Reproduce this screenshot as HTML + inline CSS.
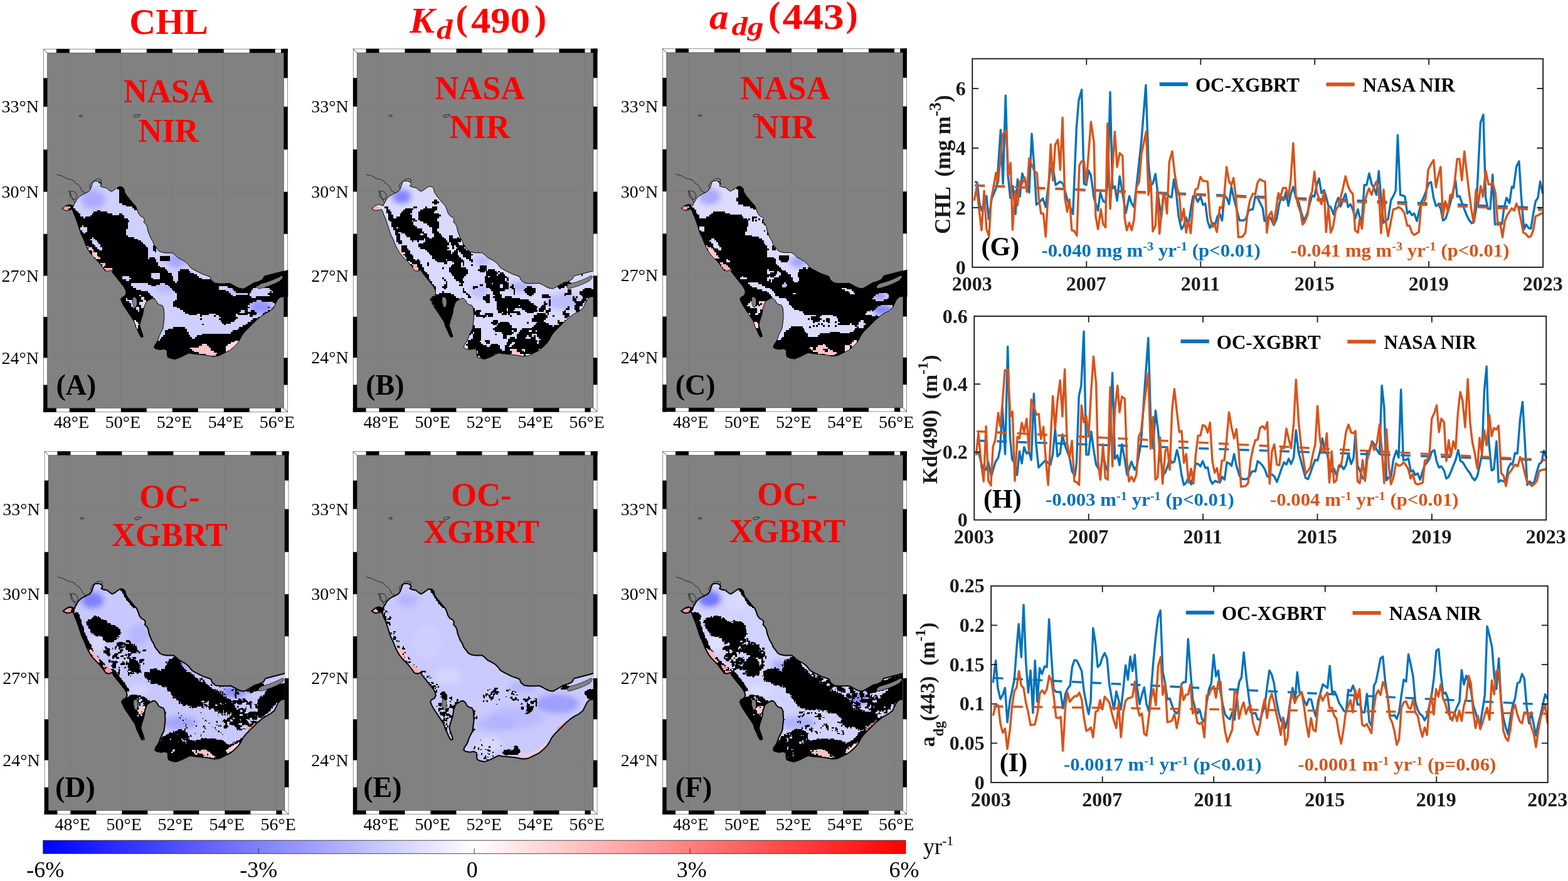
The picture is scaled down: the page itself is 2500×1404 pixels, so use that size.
<!DOCTYPE html>
<html lang="en"><head><meta charset="utf-8"><title>Figure</title>
<style>html,body{margin:0;padding:0;background:#fff;}body{width:2500px;height:1404px;overflow:hidden;}svg{display:block;}text{white-space:pre;}</style>
</head><body>
<svg width="2500" height="1404" viewBox="0 0 2500 1404">
<defs>
<g id="frame">
<rect x="0" y="0" width="389.5" height="578.8" fill="#fff"/>
<rect x="0" y="572.4" width="20.65" height="6.4" fill="#000"/>
<rect x="20.65" y="0" width="20.95" height="6.4" fill="#000"/>
<rect x="41.6" y="572.4" width="41.00" height="6.4" fill="#000"/>
<rect x="82.6" y="0" width="41.00" height="6.4" fill="#000"/>
<rect x="123.6" y="572.4" width="41.00" height="6.4" fill="#000"/>
<rect x="164.6" y="0" width="41.00" height="6.4" fill="#000"/>
<rect x="205.6" y="572.4" width="41.00" height="6.4" fill="#000"/>
<rect x="246.6" y="0" width="41.00" height="6.4" fill="#000"/>
<rect x="287.6" y="572.4" width="41.00" height="6.4" fill="#000"/>
<rect x="328.6" y="0" width="41.00" height="6.4" fill="#000"/>
<rect x="369.6" y="572.4" width="9.20" height="6.4" fill="#000"/>
<rect x="378.8" y="0" width="10.70" height="6.4" fill="#000"/>
<rect x="383.1" y="0" width="6.4" height="46.50" fill="#000"/>
<rect x="0" y="46.5" width="6.4" height="45.60" fill="#000"/>
<rect x="383.1" y="92.1" width="6.4" height="68.40" fill="#000"/>
<rect x="0" y="160.5" width="6.4" height="67.30" fill="#000"/>
<rect x="383.1" y="227.8" width="6.4" height="67.10" fill="#000"/>
<rect x="0" y="294.9" width="6.4" height="66.70" fill="#000"/>
<rect x="383.1" y="361.6" width="6.4" height="65.50" fill="#000"/>
<rect x="0" y="427.1" width="6.4" height="65.20" fill="#000"/>
<rect x="383.1" y="492.3" width="6.4" height="43.20" fill="#000"/>
<rect x="0" y="535.5" width="6.4" height="43.30" fill="#000"/>
<rect x="0" y="0" width="6.4" height="6.4" fill="#fff"/>
<rect x="383.1" y="572.4" width="6.4" height="6.4" fill="#fff"/>
<rect x="383.1" y="0" width="6.4" height="6.4" fill="#000"/>
<rect x="0" y="572.4" width="6.4" height="6.4" fill="#000"/>
<line x1="0" y1="0" x2="6.4" y2="6.4" stroke="#000" stroke-width="0.7"/>
<line x1="389.5" y1="578.8" x2="383.1" y2="572.4" stroke="#000" stroke-width="0.7"/>
<rect x="6.4" y="6.4" width="376.7" height="566.0" fill="#818181"/>
<rect x="0.3" y="0.3" width="388.9" height="578.1999999999999" fill="none" stroke="#000" stroke-opacity="0.55" stroke-width="0.8"/>
<rect x="6.4" y="6.4" width="376.7" height="566.0" fill="none" stroke="#000" stroke-opacity="0.55" stroke-width="0.8"/>
<line x1="41.6" y1="6.4" x2="41.6" y2="572.4" stroke="#707070" stroke-width="0.7" stroke-opacity="0.45"/>
<line x1="123.6" y1="6.4" x2="123.6" y2="572.4" stroke="#707070" stroke-width="0.7" stroke-opacity="0.45"/>
<line x1="205.6" y1="6.4" x2="205.6" y2="572.4" stroke="#707070" stroke-width="0.7" stroke-opacity="0.45"/>
<line x1="287.6" y1="6.4" x2="287.6" y2="572.4" stroke="#707070" stroke-width="0.7" stroke-opacity="0.45"/>
<line x1="369.6" y1="6.4" x2="369.6" y2="572.4" stroke="#707070" stroke-width="0.7" stroke-opacity="0.45"/>
<line x1="6.4" y1="92.1" x2="383.1" y2="92.1" stroke="#707070" stroke-width="0.7" stroke-opacity="0.45"/>
<line x1="6.4" y1="227.8" x2="383.1" y2="227.8" stroke="#707070" stroke-width="0.7" stroke-opacity="0.45"/>
<line x1="6.4" y1="361.6" x2="383.1" y2="361.6" stroke="#707070" stroke-width="0.7" stroke-opacity="0.45"/>
<line x1="6.4" y1="492.3" x2="383.1" y2="492.3" stroke="#707070" stroke-width="0.7" stroke-opacity="0.45"/>
</g>
<clipPath id="inner"><rect x="6.4" y="6.4" width="376.7" height="566.0"/></clipPath>
<clipPath id="outer"><rect x="6.4" y="6.4" width="383.70000000000005" height="566.0"/></clipPath>
<clipPath id="gclip"><polygon points="29.8,254.6 35.2,250.3 40.7,248.1 45.0,249.2 48.3,250.3 49.3,247.0 51.5,243.7 53.7,239.4 58.0,235.0 63.5,231.8 67.8,229.6 72.2,227.4 75.4,223.1 77.2,217.7 78.7,213.3 80.8,211.1 86.3,210.7 90.6,212.2 92.8,215.5 90.6,218.7 93.9,220.3 100.4,221.6 104.7,225.3 108.0,227.4 112.4,225.3 116.7,222.0 121.0,219.4 125.4,219.8 128.6,223.1 129.7,228.5 133.0,234.0 138.4,240.5 142.8,245.9 147.1,250.3 149.3,255.7 151.5,262.2 154.7,266.5 159.1,268.7 161.2,272.0 160.1,276.3 163.4,279.6 165.6,283.9 166.7,290.4 168.8,295.9 171.0,301.3 174.3,306.7 176.4,312.2 180.8,317.6 184.0,322.0 188.4,324.1 194.9,325.2 205.8,325.2 210.1,328.5 214.5,332.8 221.0,336.1 226.4,339.3 230.8,343.7 235.1,349.1 240.5,352.4 247.1,355.6 253.6,358.9 260.1,361.1 265.5,363.2 267.7,368.7 273.1,373.0 279.6,374.1 288.3,374.1 297.0,373.7 302.5,376.3 307.9,379.5 313.3,381.7 318.8,382.4 324.2,379.5 329.6,376.3 335.0,373.0 342.7,370.8 349.2,367.6 352.4,362.1 360.0,360.0 368.7,357.8 377.4,355.6 382.8,354.1 391.5,351.9 391.5,395.4 382.8,395.0 377.4,395.8 373.1,400.2 369.8,406.7 366.6,413.2 360.0,418.6 353.5,421.9 347.0,426.2 340.5,431.7 334.0,438.2 327.4,444.7 320.9,451.2 316.6,456.7 313.3,463.2 309.0,469.7 303.5,475.1 297.0,480.6 288.3,484.9 279.6,489.2 271.0,490.3 260.1,488.2 249.2,487.1 238.4,486.0 231.8,484.9 225.3,488.2 218.8,491.4 210.1,494.7 203.6,493.6 198.2,491.4 197.1,487.1 197.1,480.6 192.7,478.4 186.2,479.5 179.7,478.4 176.4,476.2 177.5,471.9 180.8,467.5 183.0,463.2 185.1,456.7 187.3,452.3 190.6,445.8 191.7,437.1 192.7,428.4 192.3,419.7 191.7,413.2 189.5,408.9 185.1,407.8 181.9,405.6 179.7,401.3 176.4,398.0 173.2,397.6 168.8,400.2 164.5,402.3 162.3,406.7 160.1,413.2 159.1,420.8 156.9,428.4 154.7,434.9 153.6,441.4 155.8,448.0 158.0,454.5 159.1,458.8 155.8,459.9 153.2,455.6 150.4,449.1 147.1,442.5 144.9,434.9 140.6,428.4 136.3,421.9 131.9,415.4 127.6,408.9 125.0,403.4 123.2,399.1 125.4,395.8 129.7,393.6 131.9,389.3 130.8,383.9 127.6,378.4 123.2,373.0 118.9,367.6 114.5,362.1 110.2,356.7 108.0,352.4 103.7,354.5 98.2,353.5 95.0,349.1 91.7,344.8 87.4,339.3 83.0,335.0 78.7,330.6 74.3,325.2 71.1,319.8 67.8,313.3 65.6,307.8 63.5,302.4 60.2,295.9 58.0,289.4 55.9,282.8 53.7,276.3 51.5,269.8 48.9,264.4 47.2,258.9 45.0,255.7 40.7,257.2 35.2,257.9"/></clipPath>
<polygon id="gulfshape" points="29.8,254.6 35.2,250.3 40.7,248.1 45.0,249.2 48.3,250.3 49.3,247.0 51.5,243.7 53.7,239.4 58.0,235.0 63.5,231.8 67.8,229.6 72.2,227.4 75.4,223.1 77.2,217.7 78.7,213.3 80.8,211.1 86.3,210.7 90.6,212.2 92.8,215.5 90.6,218.7 93.9,220.3 100.4,221.6 104.7,225.3 108.0,227.4 112.4,225.3 116.7,222.0 121.0,219.4 125.4,219.8 128.6,223.1 129.7,228.5 133.0,234.0 138.4,240.5 142.8,245.9 147.1,250.3 149.3,255.7 151.5,262.2 154.7,266.5 159.1,268.7 161.2,272.0 160.1,276.3 163.4,279.6 165.6,283.9 166.7,290.4 168.8,295.9 171.0,301.3 174.3,306.7 176.4,312.2 180.8,317.6 184.0,322.0 188.4,324.1 194.9,325.2 205.8,325.2 210.1,328.5 214.5,332.8 221.0,336.1 226.4,339.3 230.8,343.7 235.1,349.1 240.5,352.4 247.1,355.6 253.6,358.9 260.1,361.1 265.5,363.2 267.7,368.7 273.1,373.0 279.6,374.1 288.3,374.1 297.0,373.7 302.5,376.3 307.9,379.5 313.3,381.7 318.8,382.4 324.2,379.5 329.6,376.3 335.0,373.0 342.7,370.8 349.2,367.6 352.4,362.1 360.0,360.0 368.7,357.8 377.4,355.6 382.8,354.1 391.5,351.9 391.5,395.4 382.8,395.0 377.4,395.8 373.1,400.2 369.8,406.7 366.6,413.2 360.0,418.6 353.5,421.9 347.0,426.2 340.5,431.7 334.0,438.2 327.4,444.7 320.9,451.2 316.6,456.7 313.3,463.2 309.0,469.7 303.5,475.1 297.0,480.6 288.3,484.9 279.6,489.2 271.0,490.3 260.1,488.2 249.2,487.1 238.4,486.0 231.8,484.9 225.3,488.2 218.8,491.4 210.1,494.7 203.6,493.6 198.2,491.4 197.1,487.1 197.1,480.6 192.7,478.4 186.2,479.5 179.7,478.4 176.4,476.2 177.5,471.9 180.8,467.5 183.0,463.2 185.1,456.7 187.3,452.3 190.6,445.8 191.7,437.1 192.7,428.4 192.3,419.7 191.7,413.2 189.5,408.9 185.1,407.8 181.9,405.6 179.7,401.3 176.4,398.0 173.2,397.6 168.8,400.2 164.5,402.3 162.3,406.7 160.1,413.2 159.1,420.8 156.9,428.4 154.7,434.9 153.6,441.4 155.8,448.0 158.0,454.5 159.1,458.8 155.8,459.9 153.2,455.6 150.4,449.1 147.1,442.5 144.9,434.9 140.6,428.4 136.3,421.9 131.9,415.4 127.6,408.9 125.0,403.4 123.2,399.1 125.4,395.8 129.7,393.6 131.9,389.3 130.8,383.9 127.6,378.4 123.2,373.0 118.9,367.6 114.5,362.1 110.2,356.7 108.0,352.4 103.7,354.5 98.2,353.5 95.0,349.1 91.7,344.8 87.4,339.3 83.0,335.0 78.7,330.6 74.3,325.2 71.1,319.8 67.8,313.3 65.6,307.8 63.5,302.4 60.2,295.9 58.0,289.4 55.9,282.8 53.7,276.3 51.5,269.8 48.9,264.4 47.2,258.9 45.0,255.7 40.7,257.2 35.2,257.9"/>
<g id="islands"><polygon points="340.5,379.5 345.9,374.5 355.7,371.9 364.4,368.7 373.1,365.0 379.6,361.5 382.2,363.7 377.4,369.7 368.7,374.1 358.9,378.0 349.2,381.0 343.1,382.4" fill="#818181" stroke="#000" stroke-width="0.7"/><polygon points="142.3,396.3 146.0,395.4 148.9,399.1 149.3,406.7 147.1,412.8 143.9,411.0 141.9,403.4" fill="#818181" stroke="#000" stroke-width="0.7"/></g>
<g id="coast" fill="none" stroke="#000" stroke-width="0.7" stroke-linejoin="round">
<polyline points="21.1,200.3 29.8,202.5 37.4,206.8 42.8,207.9 48.3,210.1 51.5,214.4 55.9,216.6 59.1,220.9 61.3,226.4 64.6,228.5 67.8,229.6"/>
<polyline points="39.6,226.4 42.8,228.5 45.0,235.0 48.3,241.6 50.4,247.0"/>
<polyline points="41.7,227.4 46.1,226.4 50.4,228.5 53.7,234.0 51.5,239.4 47.2,240.5 42.8,236.1 41.7,227.4"/>
<polyline points="75.4,223.1 73.2,218.7 75.4,214.4 79.8,211.1 83.0,207.9 88.5,206.8 92.8,209.0 91.7,213.3"/>
<polyline points="143.9,106.9 148.2,104.7 154.7,105.1 151.5,107.9 146.0,109.5 143.9,106.9"/>
<polyline points="56.9,106.4 60.2,105.1 62.8,106.9 59.8,108.6 56.9,106.4"/>
</g>
<linearGradient id="cb" x1="0" x2="1" y1="0" y2="0"><stop offset="0" stop-color="#0000ff"/><stop offset="0.5" stop-color="#ffffff"/><stop offset="1" stop-color="#ff0000"/></linearGradient>
<filter id="bl" x="-60%" y="-60%" width="220%" height="220%"><feGaussianBlur stdDeviation="4"/></filter>
</defs>
<rect width="2500" height="1404" fill="#fff"/>
<text x="269.2" y="53.8" text-anchor="middle" font-family='"Liberation Serif", "DejaVu Serif", serif' font-weight="bold" font-size="58" fill="#ff0000">CHL</text>
<text font-family='"Liberation Serif", "DejaVu Serif", serif' font-weight="bold" font-size="57" fill="#ff0000"><tspan x="653" y="51.8" font-size="57" font-style="italic" textLength="40" lengthAdjust="spacingAndGlyphs">K</tspan><tspan x="696" y="62.4" font-size="44" font-style="italic" textLength="25.5" lengthAdjust="spacingAndGlyphs">d</tspan><tspan x="726.5" y="47.5" font-size="58">(</tspan><tspan x="751" y="51.8" font-size="57" textLength="94" lengthAdjust="spacingAndGlyphs">490</tspan><tspan x="852" y="47.5" font-size="58">)</tspan></text>
<text font-family='"Liberation Serif", "DejaVu Serif", serif' font-weight="bold" font-size="57" fill="#ff0000"><tspan x="1131" y="46.4" font-size="57" font-style="italic" textLength="30.5" lengthAdjust="spacingAndGlyphs">a</tspan><tspan x="1166.5" y="56" font-size="42" font-style="italic" textLength="51" lengthAdjust="spacingAndGlyphs">dg</tspan><tspan x="1225" y="42.4" font-size="58">(</tspan><tspan x="1247.6" y="46.4" font-size="57" textLength="98" lengthAdjust="spacingAndGlyphs">443</tspan><tspan x="1348.5" y="42.4" font-size="58">)</tspan></text>
<g transform="translate(69.2,77.9)">
<use href="#frame"/>
<g clip-path="url(#inner)">
<use href="#coast"/>
<use href="#gulfshape" fill="#d0d0ff" stroke="none"/>
<g clip-path="url(#gclip)">
<ellipse cx="79.5" cy="239.7" rx="19.6" ry="15.2" fill="#a8a8ff" opacity="0.9" filter="url(#bl)"/>
<ellipse cx="212.0" cy="337.5" rx="15.2" ry="10.9" fill="#a0a0ff" opacity="0.9" filter="url(#bl)"/>
<ellipse cx="346.7" cy="411.3" rx="17.4" ry="10.9" fill="#8c8cff" opacity="0.9" filter="url(#bl)"/>
<ellipse cx="314.1" cy="383.1" rx="17.4" ry="6.5" fill="#9c9cff" opacity="0.8" filter="url(#bl)"/>
<ellipse cx="194.6" cy="380.9" rx="17.4" ry="8.7" fill="#b0b0ff" opacity="0.7" filter="url(#bl)"/>
<polygon points="29.5,253.8 36.0,250.6 41.4,251.6 40.4,256.0 34.9,258.2" fill="#ff9a9a"/>
<polygon points="67.5,311.4 72.9,315.7 79.5,317.9 86.0,328.8 90.3,335.3 83.8,335.3 77.3,328.8 72.9,322.3" fill="#ffc6c6"/>
<polygon points="90.3,339.6 99.0,341.8 107.7,348.3 109.9,354.8 103.4,357.0 96.8,350.5" fill="#ffb0b0"/>
<polygon points="234.8,475.4 246.8,474.3 257.6,470.0 262.0,474.3 268.5,480.9 277.2,483.0 272.8,489.5 259.8,487.4 248.9,485.2 238.1,480.9" fill="#ffc4c4"/>
<polygon points="290.2,474.3 301.1,467.8 309.8,463.5 311.9,470.0 303.2,478.7 292.4,483.0" fill="#ffd8d8"/>
<polygon points="153.3,402.6 162.0,400.5 164.2,411.3 157.7,415.7" fill="#ffd0d0"/>
<polygon points="144.6,433.1 151.2,435.2 153.3,443.9 149.0,446.1" fill="#ffe0e0"/>
</g>
</g>
<g clip-path="url(#outer)">
<g clip-path="url(#gclip)">
<path d="M82.8 205.4h8.3v2.9h-8.3zM74.7 208.1h21.8v2.9h-21.8zM74.7 210.8h2.9v2.9h-2.9zM88.2 210.8h8.3v2.9h-8.3zM72.0 213.5h5.6v2.9h-5.6zM90.9 213.5h5.6v2.9h-5.6zM72.0 216.2h2.9v2.9h-2.9zM93.6 216.2h11.0v2.9h-11.0zM115.2 216.2h16.4v2.9h-16.4zM69.3 218.9h5.6v2.9h-5.6zM101.7 218.9h5.6v2.9h-5.6zM109.8 218.9h21.8v2.9h-21.8zM69.3 221.6h5.6v2.9h-5.6zM104.4 221.6h8.3v2.9h-8.3zM117.9 221.6h16.4v2.9h-16.4zM63.9 224.3h8.3v2.9h-8.3zM120.6 224.3h13.7v2.9h-13.7zM58.5 227.0h8.3v2.9h-8.3zM120.6 227.0h16.4v2.9h-16.4zM120.6 229.7h16.4v2.9h-16.4zM120.6 232.4h19.1v2.9h-19.1zM120.6 235.1h21.8v2.9h-21.8zM120.6 237.8h24.4v2.9h-24.4zM120.6 240.5h24.4v2.9h-24.4zM36.9 243.2h8.3v2.9h-8.3zM120.6 243.2h27.1v2.9h-27.1zM31.5 245.9h13.7v2.9h-13.7zM126.0 245.9h24.4v2.9h-24.4zM26.1 248.6h21.8v2.9h-21.8zM131.4 248.6h21.8v2.9h-21.8zM26.1 251.3h5.6v2.9h-5.6zM42.3 251.3h5.6v2.9h-5.6zM142.2 251.3h11.0v2.9h-11.0zM26.1 254.0h5.6v2.9h-5.6zM39.6 254.0h11.0v2.9h-11.0zM144.9 254.0h8.3v2.9h-8.3zM26.1 256.7h27.1v2.9h-27.1zM85.5 256.7h5.6v2.9h-5.6zM153.0 256.7h2.9v2.9h-2.9zM31.5 259.4h24.4v2.9h-24.4zM80.1 259.4h21.8v2.9h-21.8zM42.3 262.1h16.4v2.9h-16.4zM77.4 262.1h32.6v2.9h-32.6zM120.6 262.1h5.6v2.9h-5.6zM45.0 264.8h13.7v2.9h-13.7zM74.7 264.8h54.1v2.9h-54.1zM45.0 267.5h19.1v2.9h-19.1zM66.6 267.5h62.2v2.9h-62.2zM163.8 267.5h2.9v2.9h-2.9zM47.7 270.2h86.6v2.9h-86.6zM47.7 272.9h89.3v2.9h-89.3zM47.7 275.6h86.6v2.9h-86.6zM166.5 275.6h2.9v2.9h-2.9zM50.4 278.3h83.9v2.9h-83.9zM50.4 281.0h11.0v2.9h-11.0zM63.9 281.0h70.4v2.9h-70.4zM50.4 283.7h8.3v2.9h-8.3zM69.3 283.7h65.0v2.9h-65.0zM53.1 286.4h5.6v2.9h-5.6zM69.3 286.4h62.2v2.9h-62.2zM53.1 289.1h8.3v2.9h-8.3zM69.3 289.1h62.2v2.9h-62.2zM53.1 291.8h11.0v2.9h-11.0zM66.6 291.8h65.0v2.9h-65.0zM55.8 294.5h75.8v2.9h-75.8zM55.8 297.2h78.5v2.9h-78.5zM55.8 299.9h21.8v2.9h-21.8zM80.1 299.9h65.0v2.9h-65.0zM58.5 302.6h16.4v2.9h-16.4zM82.8 302.6h67.7v2.9h-67.7zM58.5 305.3h19.1v2.9h-19.1zM85.5 305.3h70.4v2.9h-70.4zM61.2 308.0h16.4v2.9h-16.4zM88.2 308.0h70.4v2.9h-70.4zM61.2 310.7h19.1v2.9h-19.1zM90.9 310.7h70.4v2.9h-70.4zM63.9 313.4h5.6v2.9h-5.6zM72.0 313.4h11.0v2.9h-11.0zM90.9 313.4h73.1v2.9h-73.1zM174.6 313.4h5.6v2.9h-5.6zM182.7 313.4h2.9v2.9h-2.9zM63.9 316.1h8.3v2.9h-8.3zM77.4 316.1h8.3v2.9h-8.3zM93.6 316.1h73.1v2.9h-73.1zM174.6 316.1h5.6v2.9h-5.6zM185.4 316.1h2.9v2.9h-2.9zM66.6 318.8h5.6v2.9h-5.6zM80.1 318.8h8.3v2.9h-8.3zM93.6 318.8h73.1v2.9h-73.1zM174.6 318.8h5.6v2.9h-5.6zM188.1 318.8h5.6v2.9h-5.6zM66.6 321.5h11.0v2.9h-11.0zM80.1 321.5h86.6v2.9h-86.6zM177.3 321.5h2.9v2.9h-2.9zM198.9 321.5h13.7v2.9h-13.7zM66.6 324.2h11.0v2.9h-11.0zM85.5 324.2h81.2v2.9h-81.2zM209.7 324.2h5.6v2.9h-5.6zM69.3 326.9h8.3v2.9h-8.3zM85.5 326.9h81.2v2.9h-81.2zM215.1 326.9h2.9v2.9h-2.9zM72.0 329.6h5.6v2.9h-5.6zM88.2 329.6h78.5v2.9h-78.5zM185.4 329.6h16.4v2.9h-16.4zM217.8 329.6h2.9v2.9h-2.9zM74.7 332.3h8.3v2.9h-8.3zM90.9 332.3h75.8v2.9h-75.8zM169.2 332.3h8.3v2.9h-8.3zM185.4 332.3h16.4v2.9h-16.4zM223.2 332.3h2.9v2.9h-2.9zM77.4 335.0h102.8v2.9h-102.8zM185.4 335.0h16.4v2.9h-16.4zM225.9 335.0h5.6v2.9h-5.6zM80.1 337.7h100.1v2.9h-100.1zM231.3 337.7h2.9v2.9h-2.9zM82.8 340.4h8.3v2.9h-8.3zM99.0 340.4h83.9v2.9h-83.9zM234.0 340.4h2.9v2.9h-2.9zM85.5 343.1h8.3v2.9h-8.3zM99.0 343.1h83.9v2.9h-83.9zM236.7 343.1h2.9v2.9h-2.9zM85.5 345.8h8.3v2.9h-8.3zM96.3 345.8h89.3v2.9h-89.3zM88.2 348.5h8.3v2.9h-8.3zM109.8 348.5h83.9v2.9h-83.9zM244.8 348.5h2.9v2.9h-2.9zM382.5 348.5h13.7v2.9h-13.7zM90.9 351.2h8.3v2.9h-8.3zM109.8 351.2h86.6v2.9h-86.6zM217.8 351.2h13.7v2.9h-13.7zM247.5 351.2h5.6v2.9h-5.6zM371.7 351.2h24.4v2.9h-24.4zM93.6 353.9h8.3v2.9h-8.3zM109.8 353.9h89.3v2.9h-89.3zM215.1 353.9h19.1v2.9h-19.1zM252.9 353.9h5.6v2.9h-5.6zM360.9 353.9h35.2v2.9h-35.2zM99.0 356.6h73.1v2.9h-73.1zM185.4 356.6h19.1v2.9h-19.1zM215.1 356.6h24.4v2.9h-24.4zM258.3 356.6h5.6v2.9h-5.6zM350.1 356.6h46.1v2.9h-46.1zM107.1 359.3h65.0v2.9h-65.0zM185.4 359.3h19.1v2.9h-19.1zM215.1 359.3h29.9v2.9h-29.9zM263.7 359.3h5.6v2.9h-5.6zM347.4 359.3h48.8v2.9h-48.8zM109.8 362.0h16.4v2.9h-16.4zM136.8 362.0h35.2v2.9h-35.2zM185.4 362.0h21.8v2.9h-21.8zM215.1 362.0h32.6v2.9h-32.6zM269.1 362.0h2.9v2.9h-2.9zM347.4 362.0h48.8v2.9h-48.8zM109.8 364.7h16.4v2.9h-16.4zM139.5 364.7h35.2v2.9h-35.2zM185.4 364.7h21.8v2.9h-21.8zM215.1 364.7h38.0v2.9h-38.0zM269.1 364.7h2.9v2.9h-2.9zM342.0 364.7h54.1v2.9h-54.1zM112.5 367.4h19.1v2.9h-19.1zM136.8 367.4h70.4v2.9h-70.4zM215.1 367.4h62.2v2.9h-62.2zM333.9 367.4h62.2v2.9h-62.2zM115.2 370.1h94.7v2.9h-94.7zM212.4 370.1h92.0v2.9h-92.0zM328.5 370.1h67.7v2.9h-67.7zM117.9 372.8h21.8v2.9h-21.8zM166.5 372.8h19.1v2.9h-19.1zM193.5 372.8h116.3v2.9h-116.3zM323.1 372.8h73.1v2.9h-73.1zM117.9 375.5h21.8v2.9h-21.8zM171.9 375.5h8.3v2.9h-8.3zM198.9 375.5h116.3v2.9h-116.3zM317.7 375.5h78.5v2.9h-78.5zM120.6 378.2h21.8v2.9h-21.8zM201.6 378.2h78.5v2.9h-78.5zM293.4 378.2h46.1v2.9h-46.1zM352.8 378.2h43.4v2.9h-43.4zM123.3 380.9h24.4v2.9h-24.4zM204.3 380.9h75.8v2.9h-75.8zM301.5 380.9h32.6v2.9h-32.6zM360.9 380.9h35.2v2.9h-35.2zM126.0 383.6h29.9v2.9h-29.9zM207.0 383.6h83.9v2.9h-83.9zM304.2 383.6h27.1v2.9h-27.1zM363.6 383.6h32.6v2.9h-32.6zM126.0 386.3h40.6v2.9h-40.6zM209.7 386.3h86.6v2.9h-86.6zM306.9 386.3h24.4v2.9h-24.4zM360.9 386.3h2.9v2.9h-2.9zM366.3 386.3h29.9v2.9h-29.9zM126.0 389.0h43.4v2.9h-43.4zM212.4 389.0h86.6v2.9h-86.6zM325.8 389.0h2.9v2.9h-2.9zM358.2 389.0h38.0v2.9h-38.0zM120.6 391.7h32.6v2.9h-32.6zM155.7 391.7h16.4v2.9h-16.4zM212.4 391.7h89.3v2.9h-89.3zM306.9 391.7h21.8v2.9h-21.8zM360.9 391.7h35.2v2.9h-35.2zM117.9 394.4h38.0v2.9h-38.0zM161.1 394.4h13.7v2.9h-13.7zM212.4 394.4h119.0v2.9h-119.0zM339.3 394.4h56.9v2.9h-56.9zM117.9 397.1h13.7v2.9h-13.7zM134.1 397.1h21.8v2.9h-21.8zM161.1 397.1h16.4v2.9h-16.4zM212.4 397.1h183.8v2.9h-183.8zM117.9 399.8h13.7v2.9h-13.7zM142.2 399.8h16.4v2.9h-16.4zM163.8 399.8h13.7v2.9h-13.7zM209.7 399.8h129.8v2.9h-129.8zM347.4 399.8h32.6v2.9h-32.6zM120.6 402.5h16.4v2.9h-16.4zM147.6 402.5h5.6v2.9h-5.6zM163.8 402.5h8.3v2.9h-8.3zM174.6 402.5h5.6v2.9h-5.6zM207.0 402.5h127.1v2.9h-127.1zM366.3 402.5h11.0v2.9h-11.0zM120.6 405.2h19.1v2.9h-19.1zM147.6 405.2h5.6v2.9h-5.6zM163.8 405.2h5.6v2.9h-5.6zM177.3 405.2h5.6v2.9h-5.6zM207.0 405.2h121.7v2.9h-121.7zM369.0 405.2h5.6v2.9h-5.6zM120.6 407.9h19.1v2.9h-19.1zM144.9 407.9h11.0v2.9h-11.0zM163.8 407.9h2.9v2.9h-2.9zM177.3 407.9h8.3v2.9h-8.3zM207.0 407.9h119.0v2.9h-119.0zM369.0 407.9h5.6v2.9h-5.6zM123.3 410.6h19.1v2.9h-19.1zM144.9 410.6h2.9v2.9h-2.9zM153.0 410.6h2.9v2.9h-2.9zM163.8 410.6h2.9v2.9h-2.9zM182.7 410.6h5.6v2.9h-5.6zM212.4 410.6h116.3v2.9h-116.3zM358.2 410.6h2.9v2.9h-2.9zM366.3 410.6h5.6v2.9h-5.6zM123.3 413.3h24.4v2.9h-24.4zM153.0 413.3h11.0v2.9h-11.0zM188.1 413.3h2.9v2.9h-2.9zM217.8 413.3h108.2v2.9h-108.2zM363.6 413.3h8.3v2.9h-8.3zM126.0 416.0h24.4v2.9h-24.4zM153.0 416.0h8.3v2.9h-8.3zM188.1 416.0h2.9v2.9h-2.9zM223.2 416.0h92.0v2.9h-92.0zM320.4 416.0h5.6v2.9h-5.6zM331.2 416.0h5.6v2.9h-5.6zM358.2 416.0h11.0v2.9h-11.0zM128.7 418.7h29.9v2.9h-29.9zM188.1 418.7h2.9v2.9h-2.9zM225.9 418.7h86.6v2.9h-86.6zM320.4 418.7h19.1v2.9h-19.1zM352.8 418.7h13.7v2.9h-13.7zM131.4 421.4h32.6v2.9h-32.6zM188.1 421.4h2.9v2.9h-2.9zM231.3 421.4h13.7v2.9h-13.7zM250.2 421.4h13.7v2.9h-13.7zM274.5 421.4h32.6v2.9h-32.6zM309.6 421.4h16.4v2.9h-16.4zM328.5 421.4h11.0v2.9h-11.0zM350.1 421.4h13.7v2.9h-13.7zM131.4 424.1h32.6v2.9h-32.6zM188.1 424.1h2.9v2.9h-2.9zM250.2 424.1h2.9v2.9h-2.9zM271.8 424.1h2.9v2.9h-2.9zM279.9 424.1h27.1v2.9h-27.1zM328.5 424.1h5.6v2.9h-5.6zM347.4 424.1h11.0v2.9h-11.0zM134.1 426.8h27.1v2.9h-27.1zM188.1 426.8h2.9v2.9h-2.9zM282.6 426.8h27.1v2.9h-27.1zM342.0 426.8h11.0v2.9h-11.0zM136.8 429.5h24.4v2.9h-24.4zM188.1 429.5h2.9v2.9h-2.9zM250.2 429.5h2.9v2.9h-2.9zM279.9 429.5h27.1v2.9h-27.1zM333.9 429.5h16.4v2.9h-16.4zM136.8 432.2h8.3v2.9h-8.3zM147.6 432.2h13.7v2.9h-13.7zM188.1 432.2h2.9v2.9h-2.9zM282.6 432.2h21.8v2.9h-21.8zM331.2 432.2h16.4v2.9h-16.4zM139.5 434.9h5.6v2.9h-5.6zM150.3 434.9h8.3v2.9h-8.3zM188.1 434.9h2.9v2.9h-2.9zM285.3 434.9h13.7v2.9h-13.7zM325.8 434.9h19.1v2.9h-19.1zM142.2 437.6h2.9v2.9h-2.9zM153.0 437.6h5.6v2.9h-5.6zM188.1 437.6h2.9v2.9h-2.9zM252.9 437.6h2.9v2.9h-2.9zM288.0 437.6h2.9v2.9h-2.9zM323.1 437.6h19.1v2.9h-19.1zM142.2 440.3h5.6v2.9h-5.6zM150.3 440.3h8.3v2.9h-8.3zM185.4 440.3h2.9v2.9h-2.9zM317.7 440.3h21.8v2.9h-21.8zM142.2 443.0h5.6v2.9h-5.6zM150.3 443.0h11.0v2.9h-11.0zM185.4 443.0h2.9v2.9h-2.9zM207.0 443.0h19.1v2.9h-19.1zM312.3 443.0h24.4v2.9h-24.4zM144.9 445.7h16.4v2.9h-16.4zM185.4 445.7h2.9v2.9h-2.9zM198.9 445.7h29.9v2.9h-29.9zM309.6 445.7h21.8v2.9h-21.8zM144.9 448.4h16.4v2.9h-16.4zM182.7 448.4h2.9v2.9h-2.9zM193.5 448.4h35.2v2.9h-35.2zM301.5 448.4h27.1v2.9h-27.1zM147.6 451.1h13.7v2.9h-13.7zM182.7 451.1h2.9v2.9h-2.9zM193.5 451.1h38.0v2.9h-38.0zM298.8 451.1h29.9v2.9h-29.9zM147.6 453.8h16.4v2.9h-16.4zM180.0 453.8h2.9v2.9h-2.9zM193.5 453.8h38.0v2.9h-38.0zM252.9 453.8h73.1v2.9h-73.1zM147.6 456.5h16.4v2.9h-16.4zM180.0 456.5h2.9v2.9h-2.9zM190.8 456.5h43.4v2.9h-43.4zM244.8 456.5h78.5v2.9h-78.5zM150.3 459.2h13.7v2.9h-13.7zM177.3 459.2h5.6v2.9h-5.6zM188.1 459.2h48.8v2.9h-48.8zM242.1 459.2h78.5v2.9h-78.5zM153.0 461.9h8.3v2.9h-8.3zM177.3 461.9h5.6v2.9h-5.6zM185.4 461.9h135.2v2.9h-135.2zM174.6 464.6h129.8v2.9h-129.8zM312.3 464.6h5.6v2.9h-5.6zM174.6 467.3h124.4v2.9h-124.4zM312.3 467.3h5.6v2.9h-5.6zM171.9 470.0h81.2v2.9h-81.2zM261.0 470.0h32.6v2.9h-32.6zM309.6 470.0h5.6v2.9h-5.6zM171.9 472.7h75.8v2.9h-75.8zM263.7 472.7h27.1v2.9h-27.1zM306.9 472.7h5.6v2.9h-5.6zM171.9 475.4h62.2v2.9h-62.2zM266.4 475.4h24.4v2.9h-24.4zM304.2 475.4h5.6v2.9h-5.6zM171.9 478.1h65.0v2.9h-65.0zM266.4 478.1h24.4v2.9h-24.4zM298.8 478.1h8.3v2.9h-8.3zM174.6 480.8h65.0v2.9h-65.0zM271.8 480.8h19.1v2.9h-19.1zM293.4 480.8h11.0v2.9h-11.0zM193.5 483.5h54.1v2.9h-54.1zM277.2 483.5h21.8v2.9h-21.8zM193.5 486.2h65.0v2.9h-65.0zM274.5 486.2h19.1v2.9h-19.1zM193.5 488.9h38.0v2.9h-38.0zM239.4 488.9h48.8v2.9h-48.8zM193.5 491.6h35.2v2.9h-35.2zM261.0 491.6h21.8v2.9h-21.8zM196.2 494.3h24.4v2.9h-24.4zM207.0 497.0h8.3v2.9h-8.3z" fill="#000" shape-rendering="crispEdges"/>
</g>
</g>
<g clip-path="url(#inner)">
<use href="#gulfshape" fill="none" stroke="#000" stroke-width="1.0" stroke-linejoin="round"/>
<use href="#islands"/>
</g>
<text x="199.4" y="85.6" text-anchor="middle" font-family='"Liberation Serif", "DejaVu Serif", serif' font-weight="bold" font-size="52.5" fill="#ff0000">NASA</text>
<text x="199.4" y="148.0" text-anchor="middle" font-family='"Liberation Serif", "DejaVu Serif", serif' font-weight="bold" font-size="52.5" fill="#ff0000">NIR</text>
<text x="20.3" y="551.3" font-family='"Liberation Serif", "DejaVu Serif", serif' font-weight="bold" font-size="46" fill="#000">(A)</text>
<text x="44.8" y="604.3" text-anchor="middle" font-family='"Liberation Serif", "DejaVu Serif", serif' font-size="28" fill="#000">48°E</text>
<text x="126.8" y="604.3" text-anchor="middle" font-family='"Liberation Serif", "DejaVu Serif", serif' font-size="28" fill="#000">50°E</text>
<text x="208.8" y="604.3" text-anchor="middle" font-family='"Liberation Serif", "DejaVu Serif", serif' font-size="28" fill="#000">52°E</text>
<text x="290.8" y="604.3" text-anchor="middle" font-family='"Liberation Serif", "DejaVu Serif", serif' font-size="28" fill="#000">54°E</text>
<text x="372.8" y="604.3" text-anchor="middle" font-family='"Liberation Serif", "DejaVu Serif", serif' font-size="28" fill="#000">56°E</text>
<text x="-7.2" y="101.5" text-anchor="end" font-family='"Liberation Serif", "DejaVu Serif", serif' font-size="28" fill="#000">33°N</text>
<text x="-7.2" y="237.2" text-anchor="end" font-family='"Liberation Serif", "DejaVu Serif", serif' font-size="28" fill="#000">30°N</text>
<text x="-7.2" y="371.0" text-anchor="end" font-family='"Liberation Serif", "DejaVu Serif", serif' font-size="28" fill="#000">27°N</text>
<text x="-7.2" y="501.7" text-anchor="end" font-family='"Liberation Serif", "DejaVu Serif", serif' font-size="28" fill="#000">24°N</text>
</g>
<g transform="translate(562.9,77.7)">
<use href="#frame"/>
<g clip-path="url(#inner)">
<use href="#coast"/>
<use href="#gulfshape" fill="#dadaff" stroke="none"/>
<g clip-path="url(#gclip)">
<ellipse cx="77.6" cy="235.5" rx="15.2" ry="10.9" fill="#8080ff" opacity="0.95" filter="url(#bl)"/>
<ellipse cx="266.6" cy="378.9" rx="17.4" ry="8.7" fill="#aeaeff" opacity="0.9" filter="url(#bl)"/>
<ellipse cx="336.1" cy="402.8" rx="26.1" ry="13.0" fill="#b4b4ff" opacity="0.8" filter="url(#bl)"/>
<ellipse cx="201.4" cy="385.5" rx="15.2" ry="10.9" fill="#b8b8ff" opacity="0.8" filter="url(#bl)"/>
<ellipse cx="205.8" cy="337.7" rx="13.0" ry="8.7" fill="#b4b4ff" opacity="0.8" filter="url(#bl)"/>
<polygon points="29.8,254.0 36.3,250.8 41.7,251.8 40.7,256.2 35.2,258.4" fill="#ffb0b0"/>
<polygon points="71.1,315.9 77.6,318.1 81.9,325.7 78.0,326.8 73.2,322.5" fill="#ffc6c6"/>
<polygon points="76.5,329.0 83.0,332.2 86.3,337.7 81.9,337.7" fill="#ffd0d0"/>
<polygon points="93.9,342.0 100.4,344.2 104.7,351.8 101.5,356.1 97.1,350.7" fill="#ffb0b0"/>
<polygon points="251.4,477.8 257.9,476.7 262.3,483.2 271.0,487.6 268.8,489.7 260.1,487.6 253.6,485.4" fill="#ffc4c4"/>
</g>
</g>
<g clip-path="url(#outer)">
<g clip-path="url(#gclip)">
<path d="M128.7 240.5h5.6v2.9h-5.6zM126.0 243.2h11.0v2.9h-11.0zM128.7 245.9h5.6v2.9h-5.6zM50.4 251.3h5.6v2.9h-5.6zM96.3 251.3h5.6v2.9h-5.6zM115.2 251.3h2.9v2.9h-2.9zM126.0 251.3h8.3v2.9h-8.3zM53.1 254.0h2.9v2.9h-2.9zM82.8 254.0h13.7v2.9h-13.7zM112.5 254.0h21.8v2.9h-21.8zM53.1 256.7h5.6v2.9h-5.6zM80.1 256.7h13.7v2.9h-13.7zM107.1 256.7h24.4v2.9h-24.4zM53.1 259.4h8.3v2.9h-8.3zM77.4 259.4h16.4v2.9h-16.4zM104.4 259.4h24.4v2.9h-24.4zM55.8 262.1h5.6v2.9h-5.6zM74.7 262.1h16.4v2.9h-16.4zM104.4 262.1h32.6v2.9h-32.6zM55.8 264.8h8.3v2.9h-8.3zM74.7 264.8h19.1v2.9h-19.1zM104.4 264.8h35.2v2.9h-35.2zM55.8 267.5h8.3v2.9h-8.3zM69.3 267.5h24.4v2.9h-24.4zM104.4 267.5h32.6v2.9h-32.6zM55.8 270.2h43.4v2.9h-43.4zM104.4 270.2h29.9v2.9h-29.9zM58.5 272.9h35.2v2.9h-35.2zM96.3 272.9h5.6v2.9h-5.6zM107.1 272.9h27.1v2.9h-27.1zM61.2 275.6h35.2v2.9h-35.2zM112.5 275.6h24.4v2.9h-24.4zM61.2 278.3h35.2v2.9h-35.2zM117.9 278.3h19.1v2.9h-19.1zM61.2 281.0h38.0v2.9h-38.0zM120.6 281.0h16.4v2.9h-16.4zM63.9 283.7h5.6v2.9h-5.6zM72.0 283.7h29.9v2.9h-29.9zM126.0 283.7h11.0v2.9h-11.0zM63.9 286.4h46.1v2.9h-46.1zM126.0 286.4h8.3v2.9h-8.3zM66.6 289.1h43.4v2.9h-43.4zM126.0 289.1h8.3v2.9h-8.3zM66.6 291.8h5.6v2.9h-5.6zM77.4 291.8h35.2v2.9h-35.2zM126.0 291.8h11.0v2.9h-11.0zM66.6 294.5h8.3v2.9h-8.3zM82.8 294.5h24.4v2.9h-24.4zM112.5 294.5h5.6v2.9h-5.6zM128.7 294.5h11.0v2.9h-11.0zM69.3 297.2h5.6v2.9h-5.6zM85.5 297.2h32.6v2.9h-32.6zM128.7 297.2h13.7v2.9h-13.7zM153.0 297.2h5.6v2.9h-5.6zM69.3 299.9h5.6v2.9h-5.6zM90.9 299.9h29.9v2.9h-29.9zM126.0 299.9h19.1v2.9h-19.1zM153.0 299.9h5.6v2.9h-5.6zM166.5 299.9h2.9v2.9h-2.9zM69.3 302.6h5.6v2.9h-5.6zM90.9 302.6h21.8v2.9h-21.8zM115.2 302.6h32.6v2.9h-32.6zM153.0 302.6h19.1v2.9h-19.1zM69.3 305.3h8.3v2.9h-8.3zM93.6 305.3h2.9v2.9h-2.9zM101.7 305.3h2.9v2.9h-2.9zM115.2 305.3h35.2v2.9h-35.2zM153.0 305.3h19.1v2.9h-19.1zM72.0 308.0h5.6v2.9h-5.6zM112.5 308.0h40.6v2.9h-40.6zM155.7 308.0h11.0v2.9h-11.0zM174.6 308.0h5.6v2.9h-5.6zM104.4 310.7h48.8v2.9h-48.8zM155.7 310.7h13.7v2.9h-13.7zM174.6 310.7h8.3v2.9h-8.3zM77.4 313.4h8.3v2.9h-8.3zM104.4 313.4h46.1v2.9h-46.1zM158.4 313.4h2.9v2.9h-2.9zM163.8 313.4h16.4v2.9h-16.4zM77.4 316.1h8.3v2.9h-8.3zM107.1 316.1h46.1v2.9h-46.1zM158.4 316.1h2.9v2.9h-2.9zM166.5 316.1h11.0v2.9h-11.0zM77.4 318.8h11.0v2.9h-11.0zM115.2 318.8h35.2v2.9h-35.2zM163.8 318.8h16.4v2.9h-16.4zM77.4 321.5h13.7v2.9h-13.7zM117.9 321.5h38.0v2.9h-38.0zM161.1 321.5h5.6v2.9h-5.6zM169.2 321.5h16.4v2.9h-16.4zM190.8 321.5h5.6v2.9h-5.6zM82.8 324.2h8.3v2.9h-8.3zM120.6 324.2h35.2v2.9h-35.2zM158.4 324.2h8.3v2.9h-8.3zM171.9 324.2h16.4v2.9h-16.4zM80.1 326.9h13.7v2.9h-13.7zM123.3 326.9h43.4v2.9h-43.4zM174.6 326.9h16.4v2.9h-16.4zM82.8 329.6h13.7v2.9h-13.7zM126.0 329.6h43.4v2.9h-43.4zM174.6 329.6h13.7v2.9h-13.7zM85.5 332.3h11.0v2.9h-11.0zM126.0 332.3h46.1v2.9h-46.1zM180.0 332.3h8.3v2.9h-8.3zM85.5 335.0h13.7v2.9h-13.7zM101.7 335.0h2.9v2.9h-2.9zM131.4 335.0h16.4v2.9h-16.4zM150.3 335.0h24.4v2.9h-24.4zM185.4 335.0h5.6v2.9h-5.6zM90.9 337.7h16.4v2.9h-16.4zM134.1 337.7h16.4v2.9h-16.4zM158.4 337.7h19.1v2.9h-19.1zM188.1 337.7h2.9v2.9h-2.9zM93.6 340.4h13.7v2.9h-13.7zM117.9 340.4h2.9v2.9h-2.9zM144.9 340.4h5.6v2.9h-5.6zM161.1 340.4h11.0v2.9h-11.0zM174.6 340.4h2.9v2.9h-2.9zM90.9 343.1h2.9v2.9h-2.9zM101.7 343.1h8.3v2.9h-8.3zM117.9 343.1h2.9v2.9h-2.9zM158.4 343.1h13.7v2.9h-13.7zM174.6 343.1h2.9v2.9h-2.9zM188.1 343.1h2.9v2.9h-2.9zM93.6 345.8h2.9v2.9h-2.9zM101.7 345.8h8.3v2.9h-8.3zM155.7 345.8h16.4v2.9h-16.4zM201.6 345.8h11.0v2.9h-11.0zM104.4 348.5h8.3v2.9h-8.3zM142.2 348.5h2.9v2.9h-2.9zM153.0 348.5h27.1v2.9h-27.1zM201.6 348.5h11.0v2.9h-11.0zM104.4 351.2h8.3v2.9h-8.3zM153.0 351.2h29.9v2.9h-29.9zM198.9 351.2h13.7v2.9h-13.7zM215.1 351.2h11.0v2.9h-11.0zM247.5 351.2h2.9v2.9h-2.9zM104.4 353.9h11.0v2.9h-11.0zM153.0 353.9h29.9v2.9h-29.9zM201.6 353.9h8.3v2.9h-8.3zM212.4 353.9h16.4v2.9h-16.4zM231.3 353.9h2.9v2.9h-2.9zM360.9 353.9h5.6v2.9h-5.6zM104.4 356.6h13.7v2.9h-13.7zM155.7 356.6h27.1v2.9h-27.1zM212.4 356.6h19.1v2.9h-19.1zM234.0 356.6h5.6v2.9h-5.6zM360.9 356.6h5.6v2.9h-5.6zM107.1 359.3h13.7v2.9h-13.7zM158.4 359.3h21.8v2.9h-21.8zM212.4 359.3h16.4v2.9h-16.4zM231.3 359.3h11.0v2.9h-11.0zM363.6 359.3h2.9v2.9h-2.9zM109.8 362.0h11.0v2.9h-11.0zM161.1 362.0h16.4v2.9h-16.4zM209.7 362.0h5.6v2.9h-5.6zM217.8 362.0h27.1v2.9h-27.1zM109.8 364.7h11.0v2.9h-11.0zM142.2 364.7h2.9v2.9h-2.9zM161.1 364.7h13.7v2.9h-13.7zM209.7 364.7h32.6v2.9h-32.6zM244.8 364.7h2.9v2.9h-2.9zM112.5 367.4h11.0v2.9h-11.0zM144.9 367.4h2.9v2.9h-2.9zM163.8 367.4h11.0v2.9h-11.0zM209.7 367.4h32.6v2.9h-32.6zM244.8 367.4h2.9v2.9h-2.9zM115.2 370.1h11.0v2.9h-11.0zM147.6 370.1h2.9v2.9h-2.9zM169.2 370.1h8.3v2.9h-8.3zM209.7 370.1h35.2v2.9h-35.2zM342.0 370.1h2.9v2.9h-2.9zM385.2 370.1h2.9v2.9h-2.9zM117.9 372.8h8.3v2.9h-8.3zM147.6 372.8h2.9v2.9h-2.9zM171.9 372.8h2.9v2.9h-2.9zM212.4 372.8h8.3v2.9h-8.3zM223.2 372.8h24.4v2.9h-24.4zM333.9 372.8h13.7v2.9h-13.7zM120.6 375.5h8.3v2.9h-8.3zM144.9 375.5h5.6v2.9h-5.6zM169.2 375.5h5.6v2.9h-5.6zM201.6 375.5h5.6v2.9h-5.6zM212.4 375.5h21.8v2.9h-21.8zM239.4 375.5h8.3v2.9h-8.3zM252.9 375.5h2.9v2.9h-2.9zM328.5 375.5h13.7v2.9h-13.7zM120.6 378.2h11.0v2.9h-11.0zM142.2 378.2h8.3v2.9h-8.3zM190.8 378.2h8.3v2.9h-8.3zM212.4 378.2h21.8v2.9h-21.8zM239.4 378.2h8.3v2.9h-8.3zM250.2 378.2h5.6v2.9h-5.6zM277.2 378.2h8.3v2.9h-8.3zM325.8 378.2h11.0v2.9h-11.0zM123.3 380.9h8.3v2.9h-8.3zM144.9 380.9h2.9v2.9h-2.9zM174.6 380.9h2.9v2.9h-2.9zM190.8 380.9h2.9v2.9h-2.9zM217.8 380.9h29.9v2.9h-29.9zM252.9 380.9h5.6v2.9h-5.6zM274.5 380.9h16.4v2.9h-16.4zM328.5 380.9h2.9v2.9h-2.9zM369.0 380.9h11.0v2.9h-11.0zM126.0 383.6h5.6v2.9h-5.6zM174.6 383.6h2.9v2.9h-2.9zM220.5 383.6h21.8v2.9h-21.8zM255.6 383.6h2.9v2.9h-2.9zM271.8 383.6h19.1v2.9h-19.1zM342.0 383.6h5.6v2.9h-5.6zM366.3 383.6h16.4v2.9h-16.4zM142.2 386.3h2.9v2.9h-2.9zM174.6 386.3h5.6v2.9h-5.6zM223.2 386.3h11.0v2.9h-11.0zM255.6 386.3h2.9v2.9h-2.9zM274.5 386.3h16.4v2.9h-16.4zM342.0 386.3h5.6v2.9h-5.6zM360.9 386.3h24.4v2.9h-24.4zM136.8 389.0h19.1v2.9h-19.1zM180.0 389.0h2.9v2.9h-2.9zM223.2 389.0h11.0v2.9h-11.0zM255.6 389.0h2.9v2.9h-2.9zM277.2 389.0h11.0v2.9h-11.0zM336.6 389.0h11.0v2.9h-11.0zM360.9 389.0h21.8v2.9h-21.8zM131.4 391.7h29.9v2.9h-29.9zM182.7 391.7h2.9v2.9h-2.9zM212.4 391.7h5.6v2.9h-5.6zM225.9 391.7h11.0v2.9h-11.0zM279.9 391.7h5.6v2.9h-5.6zM301.5 391.7h11.0v2.9h-11.0zM336.6 391.7h2.9v2.9h-2.9zM363.6 391.7h21.8v2.9h-21.8zM126.0 394.4h38.0v2.9h-38.0zM182.7 394.4h5.6v2.9h-5.6zM207.0 394.4h11.0v2.9h-11.0zM223.2 394.4h13.7v2.9h-13.7zM242.1 394.4h11.0v2.9h-11.0zM301.5 394.4h13.7v2.9h-13.7zM350.1 394.4h2.9v2.9h-2.9zM355.5 394.4h2.9v2.9h-2.9zM366.3 394.4h16.4v2.9h-16.4zM123.3 397.1h46.1v2.9h-46.1zM207.0 397.1h11.0v2.9h-11.0zM225.9 397.1h40.6v2.9h-40.6zM350.1 397.1h5.6v2.9h-5.6zM366.3 397.1h5.6v2.9h-5.6zM123.3 399.8h46.1v2.9h-46.1zM209.7 399.8h8.3v2.9h-8.3zM225.9 399.8h54.1v2.9h-54.1zM312.3 399.8h2.9v2.9h-2.9zM350.1 399.8h5.6v2.9h-5.6zM363.6 399.8h8.3v2.9h-8.3zM126.0 402.5h40.6v2.9h-40.6zM212.4 402.5h5.6v2.9h-5.6zM228.6 402.5h54.1v2.9h-54.1zM304.2 402.5h2.9v2.9h-2.9zM312.3 402.5h2.9v2.9h-2.9zM352.8 402.5h16.4v2.9h-16.4zM126.0 405.2h38.0v2.9h-38.0zM228.6 405.2h59.6v2.9h-59.6zM304.2 405.2h5.6v2.9h-5.6zM312.3 405.2h2.9v2.9h-2.9zM355.5 405.2h11.0v2.9h-11.0zM128.7 407.9h35.2v2.9h-35.2zM228.6 407.9h35.2v2.9h-35.2zM266.4 407.9h24.4v2.9h-24.4zM301.5 407.9h5.6v2.9h-5.6zM312.3 407.9h2.9v2.9h-2.9zM352.8 407.9h13.7v2.9h-13.7zM128.7 410.6h32.6v2.9h-32.6zM228.6 410.6h65.0v2.9h-65.0zM298.8 410.6h8.3v2.9h-8.3zM342.0 410.6h2.9v2.9h-2.9zM352.8 410.6h8.3v2.9h-8.3zM131.4 413.3h29.9v2.9h-29.9zM190.8 413.3h2.9v2.9h-2.9zM228.6 413.3h16.4v2.9h-16.4zM247.5 413.3h11.0v2.9h-11.0zM269.1 413.3h24.4v2.9h-24.4zM296.1 413.3h11.0v2.9h-11.0zM312.3 413.3h2.9v2.9h-2.9zM339.3 413.3h5.6v2.9h-5.6zM352.8 413.3h8.3v2.9h-8.3zM131.4 416.0h29.9v2.9h-29.9zM188.1 416.0h5.6v2.9h-5.6zM196.2 416.0h8.3v2.9h-8.3zM231.3 416.0h13.7v2.9h-13.7zM247.5 416.0h8.3v2.9h-8.3zM274.5 416.0h19.1v2.9h-19.1zM296.1 416.0h8.3v2.9h-8.3zM306.9 416.0h8.3v2.9h-8.3zM336.6 416.0h2.9v2.9h-2.9zM355.5 416.0h8.3v2.9h-8.3zM134.1 418.7h27.1v2.9h-27.1zM190.8 418.7h11.0v2.9h-11.0zM231.3 418.7h5.6v2.9h-5.6zM239.4 418.7h27.1v2.9h-27.1zM277.2 418.7h11.0v2.9h-11.0zM306.9 418.7h5.6v2.9h-5.6zM333.9 418.7h5.6v2.9h-5.6zM360.9 418.7h5.6v2.9h-5.6zM136.8 421.4h24.4v2.9h-24.4zM193.5 421.4h8.3v2.9h-8.3zM209.7 421.4h13.7v2.9h-13.7zM236.7 421.4h8.3v2.9h-8.3zM247.5 421.4h2.9v2.9h-2.9zM261.0 421.4h5.6v2.9h-5.6zM293.4 421.4h13.7v2.9h-13.7zM309.6 421.4h2.9v2.9h-2.9zM333.9 421.4h11.0v2.9h-11.0zM136.8 424.1h21.8v2.9h-21.8zM196.2 424.1h16.4v2.9h-16.4zM215.1 424.1h8.3v2.9h-8.3zM250.2 424.1h2.9v2.9h-2.9zM288.0 424.1h21.8v2.9h-21.8zM317.7 424.1h2.9v2.9h-2.9zM336.6 424.1h8.3v2.9h-8.3zM139.5 426.8h19.1v2.9h-19.1zM207.0 426.8h2.9v2.9h-2.9zM288.0 426.8h21.8v2.9h-21.8zM336.6 426.8h5.6v2.9h-5.6zM139.5 429.5h19.1v2.9h-19.1zM285.3 429.5h21.8v2.9h-21.8zM142.2 432.2h16.4v2.9h-16.4zM223.2 432.2h8.3v2.9h-8.3zM285.3 432.2h19.1v2.9h-19.1zM325.8 432.2h2.9v2.9h-2.9zM336.6 432.2h2.9v2.9h-2.9zM142.2 434.9h13.7v2.9h-13.7zM220.5 434.9h11.0v2.9h-11.0zM234.0 434.9h13.7v2.9h-13.7zM277.2 434.9h2.9v2.9h-2.9zM293.4 434.9h13.7v2.9h-13.7zM325.8 434.9h13.7v2.9h-13.7zM142.2 437.6h16.4v2.9h-16.4zM223.2 437.6h5.6v2.9h-5.6zM231.3 437.6h19.1v2.9h-19.1zM290.7 437.6h21.8v2.9h-21.8zM328.5 437.6h8.3v2.9h-8.3zM144.9 440.3h11.0v2.9h-11.0zM188.1 440.3h5.6v2.9h-5.6zM228.6 440.3h24.4v2.9h-24.4zM288.0 440.3h29.9v2.9h-29.9zM320.4 440.3h13.7v2.9h-13.7zM144.9 443.0h13.7v2.9h-13.7zM188.1 443.0h5.6v2.9h-5.6zM225.9 443.0h27.1v2.9h-27.1zM285.3 443.0h46.1v2.9h-46.1zM147.6 445.7h11.0v2.9h-11.0zM185.4 445.7h19.1v2.9h-19.1zM223.2 445.7h38.0v2.9h-38.0zM269.1 445.7h59.6v2.9h-59.6zM147.6 448.4h11.0v2.9h-11.0zM185.4 448.4h19.1v2.9h-19.1zM225.9 448.4h27.1v2.9h-27.1zM255.6 448.4h5.6v2.9h-5.6zM266.4 448.4h13.7v2.9h-13.7zM285.3 448.4h5.6v2.9h-5.6zM293.4 448.4h35.2v2.9h-35.2zM150.3 451.1h8.3v2.9h-8.3zM185.4 451.1h5.6v2.9h-5.6zM193.5 451.1h11.0v2.9h-11.0zM236.7 451.1h19.1v2.9h-19.1zM263.7 451.1h59.6v2.9h-59.6zM150.3 453.8h8.3v2.9h-8.3zM185.4 453.8h2.9v2.9h-2.9zM190.8 453.8h13.7v2.9h-13.7zM225.9 453.8h2.9v2.9h-2.9zM239.4 453.8h13.7v2.9h-13.7zM261.0 453.8h24.4v2.9h-24.4zM293.4 453.8h27.1v2.9h-27.1zM153.0 456.5h5.6v2.9h-5.6zM190.8 456.5h13.7v2.9h-13.7zM239.4 456.5h5.6v2.9h-5.6zM261.0 456.5h16.4v2.9h-16.4zM279.9 456.5h5.6v2.9h-5.6zM288.0 456.5h2.9v2.9h-2.9zM293.4 456.5h24.4v2.9h-24.4zM158.4 459.2h5.6v2.9h-5.6zM190.8 459.2h13.7v2.9h-13.7zM239.4 459.2h5.6v2.9h-5.6zM250.2 459.2h8.3v2.9h-8.3zM261.0 459.2h13.7v2.9h-13.7zM282.6 459.2h8.3v2.9h-8.3zM296.1 459.2h19.1v2.9h-19.1zM158.4 461.9h2.9v2.9h-2.9zM188.1 461.9h16.4v2.9h-16.4zM247.5 461.9h43.4v2.9h-43.4zM298.8 461.9h16.4v2.9h-16.4zM182.7 464.6h19.1v2.9h-19.1zM209.7 464.6h8.3v2.9h-8.3zM247.5 464.6h46.1v2.9h-46.1zM296.1 464.6h19.1v2.9h-19.1zM182.7 467.3h21.8v2.9h-21.8zM212.4 467.3h5.6v2.9h-5.6zM244.8 467.3h8.3v2.9h-8.3zM258.3 467.3h35.2v2.9h-35.2zM296.1 467.3h16.4v2.9h-16.4zM180.0 470.0h27.1v2.9h-27.1zM220.5 470.0h11.0v2.9h-11.0zM244.8 470.0h5.6v2.9h-5.6zM255.6 470.0h51.5v2.9h-51.5zM182.7 472.7h29.9v2.9h-29.9zM217.8 472.7h16.4v2.9h-16.4zM242.1 472.7h5.6v2.9h-5.6zM252.9 472.7h51.5v2.9h-51.5zM182.7 475.4h51.5v2.9h-51.5zM242.1 475.4h59.6v2.9h-59.6zM185.4 478.1h8.3v2.9h-8.3zM196.2 478.1h40.6v2.9h-40.6zM242.1 478.1h8.3v2.9h-8.3zM261.0 478.1h8.3v2.9h-8.3zM274.5 478.1h21.8v2.9h-21.8zM198.9 480.8h54.1v2.9h-54.1zM261.0 480.8h11.0v2.9h-11.0zM274.5 480.8h19.1v2.9h-19.1zM193.5 483.5h2.9v2.9h-2.9zM198.9 483.5h54.1v2.9h-54.1zM266.4 483.5h24.4v2.9h-24.4zM193.5 486.2h32.6v2.9h-32.6zM228.6 486.2h13.7v2.9h-13.7zM244.8 486.2h5.6v2.9h-5.6zM271.8 486.2h2.9v2.9h-2.9zM282.6 486.2h2.9v2.9h-2.9zM193.5 488.9h5.6v2.9h-5.6zM201.6 488.9h21.8v2.9h-21.8zM204.3 491.6h13.7v2.9h-13.7zM207.0 494.3h5.6v2.9h-5.6z" fill="#000" shape-rendering="crispEdges"/>
</g>
</g>
<g clip-path="url(#inner)">
<use href="#gulfshape" fill="none" stroke="#000" stroke-width="1.0" stroke-linejoin="round"/>
<use href="#islands"/>
</g>
<text x="202.1" y="80.4" text-anchor="middle" font-family='"Liberation Serif", "DejaVu Serif", serif' font-weight="bold" font-size="52.5" fill="#ff0000">NASA</text>
<text x="202.1" y="142.5" text-anchor="middle" font-family='"Liberation Serif", "DejaVu Serif", serif' font-weight="bold" font-size="52.5" fill="#ff0000">NIR</text>
<text x="20.3" y="551.3" font-family='"Liberation Serif", "DejaVu Serif", serif' font-weight="bold" font-size="46" fill="#000">(B)</text>
<text x="44.8" y="604.3" text-anchor="middle" font-family='"Liberation Serif", "DejaVu Serif", serif' font-size="28" fill="#000">48°E</text>
<text x="126.8" y="604.3" text-anchor="middle" font-family='"Liberation Serif", "DejaVu Serif", serif' font-size="28" fill="#000">50°E</text>
<text x="208.8" y="604.3" text-anchor="middle" font-family='"Liberation Serif", "DejaVu Serif", serif' font-size="28" fill="#000">52°E</text>
<text x="290.8" y="604.3" text-anchor="middle" font-family='"Liberation Serif", "DejaVu Serif", serif' font-size="28" fill="#000">54°E</text>
<text x="372.8" y="604.3" text-anchor="middle" font-family='"Liberation Serif", "DejaVu Serif", serif' font-size="28" fill="#000">56°E</text>
<text x="-7.2" y="101.5" text-anchor="end" font-family='"Liberation Serif", "DejaVu Serif", serif' font-size="28" fill="#000">33°N</text>
<text x="-7.2" y="237.2" text-anchor="end" font-family='"Liberation Serif", "DejaVu Serif", serif' font-size="28" fill="#000">30°N</text>
<text x="-7.2" y="371.0" text-anchor="end" font-family='"Liberation Serif", "DejaVu Serif", serif' font-size="28" fill="#000">27°N</text>
<text x="-7.2" y="501.7" text-anchor="end" font-family='"Liberation Serif", "DejaVu Serif", serif' font-size="28" fill="#000">24°N</text>
</g>
<g transform="translate(1056.4,77.4)">
<use href="#frame"/>
<g clip-path="url(#inner)">
<use href="#coast"/>
<use href="#gulfshape" fill="#dcdcff" stroke="none"/>
<g clip-path="url(#gclip)">
<ellipse cx="74.9" cy="235.8" rx="17.4" ry="13.0" fill="#a4a4ff" opacity="0.9" filter="url(#bl)"/>
<ellipse cx="216.1" cy="340.1" rx="13.0" ry="8.7" fill="#9a9aff" opacity="0.9" filter="url(#bl)"/>
<ellipse cx="350.8" cy="416.2" rx="15.2" ry="8.7" fill="#7c7cff" opacity="0.95" filter="url(#bl)"/>
<ellipse cx="346.5" cy="394.4" rx="10.9" ry="6.5" fill="#8c8cff" opacity="0.9" filter="url(#bl)"/>
<ellipse cx="192.2" cy="377.1" rx="8.7" ry="5.4" fill="#a0a0ff" opacity="0.8" filter="url(#bl)"/>
<polygon points="29.3,254.3 35.8,251.1 41.2,252.1 40.2,256.5 34.7,258.7" fill="#ff9a9a"/>
<polygon points="67.3,311.9 72.7,316.2 79.3,318.4 85.8,329.3 90.1,335.8 83.6,335.8 77.1,329.3 72.7,322.8" fill="#ffc6c6"/>
<polygon points="90.1,340.1 98.8,342.3 107.5,348.8 109.7,355.3 103.2,357.5 96.6,351.0" fill="#ffb0b0"/>
<polygon points="234.6,475.9 246.6,474.8 257.4,470.5 261.8,474.8 268.3,481.4 277.0,483.5 272.6,490.0 259.6,487.9 248.7,485.7 237.9,481.4" fill="#ffc4c4"/>
<polygon points="290.0,474.8 300.9,468.3 309.6,464.0 311.7,470.5 303.0,479.2 292.2,483.5" fill="#ffd8d8"/>
<polygon points="153.1,403.1 161.8,401.0 164.0,411.8 157.5,416.2" fill="#ffd0d0"/>
<polygon points="144.4,433.6 151.0,435.7 153.1,444.4 148.8,446.6" fill="#ffe0e0"/>
</g>
</g>
<g clip-path="url(#outer)">
<g clip-path="url(#gclip)">
<path d="M82.8 205.4h8.3v2.9h-8.3zM74.7 208.1h2.9v2.9h-2.9zM85.5 208.1h11.0v2.9h-11.0zM74.7 210.8h2.9v2.9h-2.9zM88.2 210.8h8.3v2.9h-8.3zM72.0 213.5h2.9v2.9h-2.9zM90.9 213.5h5.6v2.9h-5.6zM72.0 216.2h2.9v2.9h-2.9zM93.6 216.2h11.0v2.9h-11.0zM115.2 216.2h16.4v2.9h-16.4zM69.3 218.9h5.6v2.9h-5.6zM99.0 218.9h8.3v2.9h-8.3zM109.8 218.9h21.8v2.9h-21.8zM69.3 221.6h5.6v2.9h-5.6zM104.4 221.6h11.0v2.9h-11.0zM117.9 221.6h16.4v2.9h-16.4zM63.9 224.3h8.3v2.9h-8.3zM120.6 224.3h13.7v2.9h-13.7zM58.5 227.0h11.0v2.9h-11.0zM120.6 227.0h16.4v2.9h-16.4zM120.6 229.7h16.4v2.9h-16.4zM120.6 232.4h19.1v2.9h-19.1zM120.6 235.1h21.8v2.9h-21.8zM117.9 237.8h27.1v2.9h-27.1zM117.9 240.5h27.1v2.9h-27.1zM36.9 243.2h8.3v2.9h-8.3zM120.6 243.2h27.1v2.9h-27.1zM31.5 245.9h13.7v2.9h-13.7zM120.6 245.9h29.9v2.9h-29.9zM26.1 248.6h19.1v2.9h-19.1zM128.7 248.6h24.4v2.9h-24.4zM26.1 251.3h5.6v2.9h-5.6zM42.3 251.3h5.6v2.9h-5.6zM139.5 251.3h13.7v2.9h-13.7zM26.1 254.0h2.9v2.9h-2.9zM39.6 254.0h11.0v2.9h-11.0zM144.9 254.0h8.3v2.9h-8.3zM26.1 256.7h8.3v2.9h-8.3zM36.9 256.7h16.4v2.9h-16.4zM150.3 256.7h5.6v2.9h-5.6zM31.5 259.4h21.8v2.9h-21.8zM80.1 259.4h19.1v2.9h-19.1zM42.3 262.1h13.7v2.9h-13.7zM77.4 262.1h29.9v2.9h-29.9zM45.0 264.8h13.7v2.9h-13.7zM74.7 264.8h51.5v2.9h-51.5zM161.1 264.8h2.9v2.9h-2.9zM45.0 267.5h13.7v2.9h-13.7zM69.3 267.5h59.6v2.9h-59.6zM142.2 267.5h8.3v2.9h-8.3zM161.1 267.5h5.6v2.9h-5.6zM47.7 270.2h86.6v2.9h-86.6zM136.8 270.2h2.9v2.9h-2.9zM142.2 270.2h2.9v2.9h-2.9zM153.0 270.2h2.9v2.9h-2.9zM161.1 270.2h5.6v2.9h-5.6zM47.7 272.9h89.3v2.9h-89.3zM142.2 272.9h2.9v2.9h-2.9zM147.6 272.9h2.9v2.9h-2.9zM158.4 272.9h5.6v2.9h-5.6zM47.7 275.6h89.3v2.9h-89.3zM158.4 275.6h5.6v2.9h-5.6zM166.5 275.6h2.9v2.9h-2.9zM50.4 278.3h86.6v2.9h-86.6zM161.1 278.3h2.9v2.9h-2.9zM50.4 281.0h86.6v2.9h-86.6zM50.4 283.7h8.3v2.9h-8.3zM66.6 283.7h67.7v2.9h-67.7zM169.2 283.7h2.9v2.9h-2.9zM53.1 286.4h5.6v2.9h-5.6zM66.6 286.4h67.7v2.9h-67.7zM53.1 289.1h8.3v2.9h-8.3zM66.6 289.1h67.7v2.9h-67.7zM161.1 289.1h2.9v2.9h-2.9zM53.1 291.8h78.5v2.9h-78.5zM166.5 291.8h2.9v2.9h-2.9zM55.8 294.5h75.8v2.9h-75.8zM166.5 294.5h2.9v2.9h-2.9zM55.8 297.2h86.6v2.9h-86.6zM55.8 299.9h97.4v2.9h-97.4zM58.5 302.6h19.1v2.9h-19.1zM82.8 302.6h75.8v2.9h-75.8zM58.5 305.3h16.4v2.9h-16.4zM85.5 305.3h75.8v2.9h-75.8zM61.2 308.0h16.4v2.9h-16.4zM88.2 308.0h73.1v2.9h-73.1zM180.0 308.0h2.9v2.9h-2.9zM61.2 310.7h19.1v2.9h-19.1zM88.2 310.7h75.8v2.9h-75.8zM63.9 313.4h5.6v2.9h-5.6zM72.0 313.4h8.3v2.9h-8.3zM90.9 313.4h75.8v2.9h-75.8zM174.6 313.4h2.9v2.9h-2.9zM182.7 313.4h2.9v2.9h-2.9zM63.9 316.1h5.6v2.9h-5.6zM77.4 316.1h5.6v2.9h-5.6zM93.6 316.1h73.1v2.9h-73.1zM174.6 316.1h5.6v2.9h-5.6zM185.4 316.1h2.9v2.9h-2.9zM66.6 318.8h5.6v2.9h-5.6zM80.1 318.8h8.3v2.9h-8.3zM93.6 318.8h75.8v2.9h-75.8zM174.6 318.8h5.6v2.9h-5.6zM188.1 318.8h5.6v2.9h-5.6zM66.6 321.5h5.6v2.9h-5.6zM82.8 321.5h83.9v2.9h-83.9zM198.9 321.5h13.7v2.9h-13.7zM66.6 324.2h8.3v2.9h-8.3zM85.5 324.2h81.2v2.9h-81.2zM209.7 324.2h5.6v2.9h-5.6zM69.3 326.9h5.6v2.9h-5.6zM85.5 326.9h81.2v2.9h-81.2zM215.1 326.9h2.9v2.9h-2.9zM72.0 329.6h5.6v2.9h-5.6zM88.2 329.6h78.5v2.9h-78.5zM185.4 329.6h16.4v2.9h-16.4zM74.7 332.3h5.6v2.9h-5.6zM90.9 332.3h86.6v2.9h-86.6zM185.4 332.3h16.4v2.9h-16.4zM223.2 332.3h2.9v2.9h-2.9zM77.4 335.0h24.4v2.9h-24.4zM104.4 335.0h75.8v2.9h-75.8zM185.4 335.0h16.4v2.9h-16.4zM225.9 335.0h5.6v2.9h-5.6zM80.1 337.7h21.8v2.9h-21.8zM107.1 337.7h73.1v2.9h-73.1zM188.1 337.7h11.0v2.9h-11.0zM228.6 337.7h5.6v2.9h-5.6zM82.8 340.4h8.3v2.9h-8.3zM96.3 340.4h83.9v2.9h-83.9zM231.3 340.4h5.6v2.9h-5.6zM85.5 343.1h8.3v2.9h-8.3zM101.7 343.1h81.2v2.9h-81.2zM234.0 343.1h5.6v2.9h-5.6zM85.5 345.8h8.3v2.9h-8.3zM104.4 345.8h81.2v2.9h-81.2zM234.0 345.8h8.3v2.9h-8.3zM88.2 348.5h8.3v2.9h-8.3zM107.1 348.5h81.2v2.9h-81.2zM223.2 348.5h5.6v2.9h-5.6zM231.3 348.5h16.4v2.9h-16.4zM382.5 348.5h13.7v2.9h-13.7zM90.9 351.2h8.3v2.9h-8.3zM109.8 351.2h56.9v2.9h-56.9zM169.2 351.2h21.8v2.9h-21.8zM217.8 351.2h35.2v2.9h-35.2zM371.7 351.2h24.4v2.9h-24.4zM93.6 353.9h5.6v2.9h-5.6zM104.4 353.9h62.2v2.9h-62.2zM177.3 353.9h5.6v2.9h-5.6zM185.4 353.9h11.0v2.9h-11.0zM217.8 353.9h40.6v2.9h-40.6zM360.9 353.9h35.2v2.9h-35.2zM99.0 356.6h67.7v2.9h-67.7zM171.9 356.6h11.0v2.9h-11.0zM188.1 356.6h11.0v2.9h-11.0zM215.1 356.6h48.8v2.9h-48.8zM350.1 356.6h46.1v2.9h-46.1zM107.1 359.3h73.1v2.9h-73.1zM188.1 359.3h16.4v2.9h-16.4zM215.1 359.3h54.1v2.9h-54.1zM347.4 359.3h48.8v2.9h-48.8zM109.8 362.0h16.4v2.9h-16.4zM128.7 362.0h40.6v2.9h-40.6zM171.9 362.0h5.6v2.9h-5.6zM185.4 362.0h19.1v2.9h-19.1zM215.1 362.0h56.9v2.9h-56.9zM347.4 362.0h48.8v2.9h-48.8zM109.8 364.7h13.7v2.9h-13.7zM134.1 364.7h32.6v2.9h-32.6zM177.3 364.7h29.9v2.9h-29.9zM217.8 364.7h54.1v2.9h-54.1zM342.0 364.7h54.1v2.9h-54.1zM112.5 367.4h54.1v2.9h-54.1zM169.2 367.4h2.9v2.9h-2.9zM174.6 367.4h32.6v2.9h-32.6zM217.8 367.4h59.6v2.9h-59.6zM333.9 367.4h62.2v2.9h-62.2zM115.2 370.1h56.9v2.9h-56.9zM174.6 370.1h35.2v2.9h-35.2zM215.1 370.1h89.3v2.9h-89.3zM328.5 370.1h67.7v2.9h-67.7zM117.9 372.8h19.1v2.9h-19.1zM153.0 372.8h40.6v2.9h-40.6zM196.2 372.8h113.6v2.9h-113.6zM323.1 372.8h73.1v2.9h-73.1zM117.9 375.5h21.8v2.9h-21.8zM158.4 375.5h32.6v2.9h-32.6zM198.9 375.5h116.3v2.9h-116.3zM317.7 375.5h78.5v2.9h-78.5zM120.6 378.2h21.8v2.9h-21.8zM163.8 378.2h27.1v2.9h-27.1zM196.2 378.2h200.0v2.9h-200.0zM123.3 380.9h27.1v2.9h-27.1zM171.9 380.9h113.6v2.9h-113.6zM293.4 380.9h102.8v2.9h-102.8zM126.0 383.6h32.6v2.9h-32.6zM174.6 383.6h116.3v2.9h-116.3zM301.5 383.6h94.7v2.9h-94.7zM126.0 386.3h40.6v2.9h-40.6zM177.3 386.3h119.0v2.9h-119.0zM304.2 386.3h92.0v2.9h-92.0zM126.0 389.0h43.4v2.9h-43.4zM180.0 389.0h27.1v2.9h-27.1zM212.4 389.0h86.6v2.9h-86.6zM306.9 389.0h38.0v2.9h-38.0zM358.2 389.0h38.0v2.9h-38.0zM120.6 391.7h51.5v2.9h-51.5zM180.0 391.7h159.5v2.9h-159.5zM360.9 391.7h35.2v2.9h-35.2zM117.9 394.4h56.9v2.9h-56.9zM185.4 394.4h151.4v2.9h-151.4zM360.9 394.4h35.2v2.9h-35.2zM117.9 397.1h56.9v2.9h-56.9zM196.2 397.1h137.9v2.9h-137.9zM358.2 397.1h38.0v2.9h-38.0zM117.9 399.8h59.6v2.9h-59.6zM198.9 399.8h140.6v2.9h-140.6zM352.8 399.8h27.1v2.9h-27.1zM120.6 402.5h19.1v2.9h-19.1zM142.2 402.5h11.0v2.9h-11.0zM163.8 402.5h8.3v2.9h-8.3zM174.6 402.5h5.6v2.9h-5.6zM201.6 402.5h175.7v2.9h-175.7zM120.6 405.2h16.4v2.9h-16.4zM147.6 405.2h5.6v2.9h-5.6zM155.7 405.2h2.9v2.9h-2.9zM163.8 405.2h5.6v2.9h-5.6zM177.3 405.2h2.9v2.9h-2.9zM201.6 405.2h173.0v2.9h-173.0zM120.6 407.9h13.7v2.9h-13.7zM147.6 407.9h2.9v2.9h-2.9zM153.0 407.9h2.9v2.9h-2.9zM163.8 407.9h2.9v2.9h-2.9zM177.3 407.9h8.3v2.9h-8.3zM204.3 407.9h143.3v2.9h-143.3zM366.3 407.9h8.3v2.9h-8.3zM123.3 410.6h16.4v2.9h-16.4zM163.8 410.6h2.9v2.9h-2.9zM182.7 410.6h2.9v2.9h-2.9zM207.0 410.6h135.2v2.9h-135.2zM366.3 410.6h5.6v2.9h-5.6zM123.3 413.3h27.1v2.9h-27.1zM161.1 413.3h2.9v2.9h-2.9zM209.7 413.3h129.8v2.9h-129.8zM366.3 413.3h5.6v2.9h-5.6zM126.0 416.0h24.4v2.9h-24.4zM155.7 416.0h8.3v2.9h-8.3zM188.1 416.0h2.9v2.9h-2.9zM217.8 416.0h113.6v2.9h-113.6zM333.9 416.0h2.9v2.9h-2.9zM363.6 416.0h5.6v2.9h-5.6zM128.7 418.7h21.8v2.9h-21.8zM155.7 418.7h8.3v2.9h-8.3zM188.1 418.7h2.9v2.9h-2.9zM223.2 418.7h102.8v2.9h-102.8zM358.2 418.7h8.3v2.9h-8.3zM131.4 421.4h5.6v2.9h-5.6zM139.5 421.4h8.3v2.9h-8.3zM153.0 421.4h11.0v2.9h-11.0zM188.1 421.4h2.9v2.9h-2.9zM225.9 421.4h97.4v2.9h-97.4zM355.5 421.4h8.3v2.9h-8.3zM131.4 424.1h32.6v2.9h-32.6zM188.1 424.1h2.9v2.9h-2.9zM244.8 424.1h8.3v2.9h-8.3zM271.8 424.1h62.2v2.9h-62.2zM339.3 424.1h2.9v2.9h-2.9zM350.1 424.1h8.3v2.9h-8.3zM134.1 426.8h27.1v2.9h-27.1zM188.1 426.8h2.9v2.9h-2.9zM236.7 426.8h13.7v2.9h-13.7zM277.2 426.8h75.8v2.9h-75.8zM136.8 429.5h24.4v2.9h-24.4zM188.1 429.5h2.9v2.9h-2.9zM231.3 429.5h2.9v2.9h-2.9zM236.7 429.5h16.4v2.9h-16.4zM261.0 429.5h5.6v2.9h-5.6zM279.9 429.5h70.4v2.9h-70.4zM136.8 432.2h24.4v2.9h-24.4zM188.1 432.2h2.9v2.9h-2.9zM239.4 432.2h11.0v2.9h-11.0zM255.6 432.2h2.9v2.9h-2.9zM261.0 432.2h5.6v2.9h-5.6zM279.9 432.2h35.2v2.9h-35.2zM320.4 432.2h27.1v2.9h-27.1zM139.5 434.9h5.6v2.9h-5.6zM150.3 434.9h8.3v2.9h-8.3zM188.1 434.9h2.9v2.9h-2.9zM239.4 434.9h2.9v2.9h-2.9zM263.7 434.9h2.9v2.9h-2.9zM274.5 434.9h2.9v2.9h-2.9zM282.6 434.9h29.9v2.9h-29.9zM320.4 434.9h24.4v2.9h-24.4zM142.2 437.6h2.9v2.9h-2.9zM153.0 437.6h5.6v2.9h-5.6zM188.1 437.6h2.9v2.9h-2.9zM247.5 437.6h2.9v2.9h-2.9zM252.9 437.6h2.9v2.9h-2.9zM279.9 437.6h19.1v2.9h-19.1zM301.5 437.6h11.0v2.9h-11.0zM323.1 437.6h19.1v2.9h-19.1zM142.2 440.3h5.6v2.9h-5.6zM153.0 440.3h5.6v2.9h-5.6zM185.4 440.3h2.9v2.9h-2.9zM239.4 440.3h2.9v2.9h-2.9zM244.8 440.3h2.9v2.9h-2.9zM255.6 440.3h2.9v2.9h-2.9zM263.7 440.3h2.9v2.9h-2.9zM274.5 440.3h2.9v2.9h-2.9zM306.9 440.3h2.9v2.9h-2.9zM320.4 440.3h19.1v2.9h-19.1zM142.2 443.0h5.6v2.9h-5.6zM153.0 443.0h8.3v2.9h-8.3zM185.4 443.0h2.9v2.9h-2.9zM204.3 443.0h19.1v2.9h-19.1zM234.0 443.0h2.9v2.9h-2.9zM309.6 443.0h2.9v2.9h-2.9zM320.4 443.0h16.4v2.9h-16.4zM144.9 445.7h16.4v2.9h-16.4zM201.6 445.7h24.4v2.9h-24.4zM306.9 445.7h24.4v2.9h-24.4zM144.9 448.4h16.4v2.9h-16.4zM182.7 448.4h2.9v2.9h-2.9zM196.2 448.4h29.9v2.9h-29.9zM304.2 448.4h24.4v2.9h-24.4zM147.6 451.1h13.7v2.9h-13.7zM182.7 451.1h2.9v2.9h-2.9zM193.5 451.1h35.2v2.9h-35.2zM266.4 451.1h16.4v2.9h-16.4zM298.8 451.1h29.9v2.9h-29.9zM147.6 453.8h16.4v2.9h-16.4zM180.0 453.8h5.6v2.9h-5.6zM193.5 453.8h38.0v2.9h-38.0zM250.2 453.8h75.8v2.9h-75.8zM147.6 456.5h16.4v2.9h-16.4zM180.0 456.5h2.9v2.9h-2.9zM193.5 456.5h38.0v2.9h-38.0zM247.5 456.5h75.8v2.9h-75.8zM150.3 459.2h13.7v2.9h-13.7zM177.3 459.2h5.6v2.9h-5.6zM190.8 459.2h129.8v2.9h-129.8zM153.0 461.9h8.3v2.9h-8.3zM177.3 461.9h5.6v2.9h-5.6zM188.1 461.9h132.5v2.9h-132.5zM174.6 464.6h129.8v2.9h-129.8zM309.6 464.6h8.3v2.9h-8.3zM174.6 467.3h127.1v2.9h-127.1zM312.3 467.3h5.6v2.9h-5.6zM171.9 470.0h83.9v2.9h-83.9zM258.3 470.0h40.6v2.9h-40.6zM312.3 470.0h2.9v2.9h-2.9zM171.9 472.7h75.8v2.9h-75.8zM261.0 472.7h29.9v2.9h-29.9zM298.8 472.7h2.9v2.9h-2.9zM309.6 472.7h2.9v2.9h-2.9zM171.9 475.4h62.2v2.9h-62.2zM239.4 475.4h5.6v2.9h-5.6zM263.7 475.4h27.1v2.9h-27.1zM298.8 475.4h11.0v2.9h-11.0zM171.9 478.1h65.0v2.9h-65.0zM239.4 478.1h5.6v2.9h-5.6zM255.6 478.1h8.3v2.9h-8.3zM266.4 478.1h24.4v2.9h-24.4zM298.8 478.1h8.3v2.9h-8.3zM174.6 480.8h65.0v2.9h-65.0zM258.3 480.8h5.6v2.9h-5.6zM271.8 480.8h19.1v2.9h-19.1zM296.1 480.8h8.3v2.9h-8.3zM193.5 483.5h54.1v2.9h-54.1zM277.2 483.5h21.8v2.9h-21.8zM193.5 486.2h65.0v2.9h-65.0zM274.5 486.2h19.1v2.9h-19.1zM193.5 488.9h38.0v2.9h-38.0zM239.4 488.9h48.8v2.9h-48.8zM193.5 491.6h35.2v2.9h-35.2zM261.0 491.6h21.8v2.9h-21.8zM196.2 494.3h24.4v2.9h-24.4zM207.0 497.0h8.3v2.9h-8.3z" fill="#000" shape-rendering="crispEdges"/>
</g>
</g>
<g clip-path="url(#inner)">
<use href="#gulfshape" fill="none" stroke="#000" stroke-width="1.0" stroke-linejoin="round"/>
<use href="#islands"/>
</g>
<text x="195.6" y="80.7" text-anchor="middle" font-family='"Liberation Serif", "DejaVu Serif", serif' font-weight="bold" font-size="52.5" fill="#ff0000">NASA</text>
<text x="195.6" y="142.8" text-anchor="middle" font-family='"Liberation Serif", "DejaVu Serif", serif' font-weight="bold" font-size="52.5" fill="#ff0000">NIR</text>
<text x="20.3" y="551.3" font-family='"Liberation Serif", "DejaVu Serif", serif' font-weight="bold" font-size="46" fill="#000">(C)</text>
<text x="44.8" y="604.3" text-anchor="middle" font-family='"Liberation Serif", "DejaVu Serif", serif' font-size="28" fill="#000">48°E</text>
<text x="126.8" y="604.3" text-anchor="middle" font-family='"Liberation Serif", "DejaVu Serif", serif' font-size="28" fill="#000">50°E</text>
<text x="208.8" y="604.3" text-anchor="middle" font-family='"Liberation Serif", "DejaVu Serif", serif' font-size="28" fill="#000">52°E</text>
<text x="290.8" y="604.3" text-anchor="middle" font-family='"Liberation Serif", "DejaVu Serif", serif' font-size="28" fill="#000">54°E</text>
<text x="372.8" y="604.3" text-anchor="middle" font-family='"Liberation Serif", "DejaVu Serif", serif' font-size="28" fill="#000">56°E</text>
<text x="-7.2" y="101.5" text-anchor="end" font-family='"Liberation Serif", "DejaVu Serif", serif' font-size="28" fill="#000">33°N</text>
<text x="-7.2" y="237.2" text-anchor="end" font-family='"Liberation Serif", "DejaVu Serif", serif' font-size="28" fill="#000">30°N</text>
<text x="-7.2" y="371.0" text-anchor="end" font-family='"Liberation Serif", "DejaVu Serif", serif' font-size="28" fill="#000">27°N</text>
<text x="-7.2" y="501.7" text-anchor="end" font-family='"Liberation Serif", "DejaVu Serif", serif' font-size="28" fill="#000">24°N</text>
</g>
<g transform="translate(70.8,719.2)">
<use href="#frame"/>
<g clip-path="url(#inner)">
<use href="#coast"/>
<use href="#gulfshape" fill="#c8c8ff" stroke="none"/>
<g clip-path="url(#gclip)">
<ellipse cx="76.7" cy="237.2" rx="17.4" ry="13.0" fill="#7878ff" opacity="0.9" filter="url(#bl)"/>
<ellipse cx="302.6" cy="382.8" rx="19.6" ry="8.7" fill="#8080ff" opacity="0.9" filter="url(#bl)"/>
<ellipse cx="215.7" cy="432.8" rx="28.2" ry="10.9" fill="#9c9cff" opacity="0.8" filter="url(#bl)"/>
<ellipse cx="150.6" cy="293.7" rx="17.4" ry="17.4" fill="#b0b0ff" opacity="0.7" filter="url(#bl)"/>
<ellipse cx="215.7" cy="341.5" rx="17.4" ry="10.9" fill="#a0a0ff" opacity="0.8" filter="url(#bl)"/>
<ellipse cx="85.4" cy="304.6" rx="13.0" ry="13.0" fill="#dcdcff" opacity="0.8" filter="url(#bl)"/>
<ellipse cx="150.6" cy="380.6" rx="17.4" ry="8.7" fill="#d8d8ff" opacity="0.8" filter="url(#bl)"/>
<polygon points="28.9,254.6 35.4,250.3 44.1,249.2 41.9,254.6 35.4,257.9" fill="#ff9a9a"/>
<polygon points="66.9,313.3 73.4,315.4 79.9,319.8 85.4,328.5 89.7,335.0 85.4,337.2 78.9,330.6 72.3,324.1" fill="#ffb8b8"/>
<polygon points="91.9,339.3 100.6,342.6 107.1,348.0 109.3,354.5 103.8,356.7 97.3,350.2" fill="#ff9c9c"/>
<polygon points="235.3,476.2 246.2,475.1 254.8,474.0 261.4,478.4 267.9,483.8 274.4,487.1 267.9,489.2 259.2,487.1 248.3,484.9 237.5,481.6" fill="#ffc0c0"/>
<polygon points="289.6,476.2 298.3,469.7 307.0,465.3 312.4,463.2 309.2,470.8 300.5,477.3 291.8,481.6" fill="#ffd0d0"/>
<polygon points="148.4,408.9 154.9,404.5 161.4,406.7 159.2,415.4 150.6,419.7" fill="#ffc8c8"/>
<polygon points="124.5,378.4 128.8,380.6 129.9,387.1 125.6,385.0" fill="#ffb0b0"/>
<polygon points="324.4,441.4 333.1,434.9 341.8,428.4 339.6,434.9 330.9,443.6 324.4,448.0" fill="#ff9090"/>
</g>
</g>
<g clip-path="url(#inner)">
<g clip-path="url(#gclip)">
<path d="M121.5 219.5h4.7v1.6h-4.7zM121.5 221.0h7.7v1.6h-7.7zM123.0 222.5h6.2v1.6h-6.2zM124.5 224.0h4.7v1.6h-4.7zM124.5 225.5h6.2v1.6h-6.2zM126.0 227.0h4.7v1.6h-4.7zM126.0 228.5h4.7v1.6h-4.7zM127.5 230.0h4.7v1.6h-4.7zM127.5 231.5h4.7v1.6h-4.7zM129.0 233.0h4.7v1.6h-4.7zM130.5 234.5h4.7v1.6h-4.7zM130.5 236.0h6.2v1.6h-6.2zM132.0 237.5h6.2v1.6h-6.2zM133.5 239.0h6.2v1.6h-6.2zM135.0 240.5h6.2v1.6h-6.2zM136.5 242.0h6.2v1.6h-6.2zM136.5 243.5h6.2v1.6h-6.2zM138.0 245.0h6.2v1.6h-6.2zM139.5 246.5h4.7v1.6h-4.7zM37.5 248.0h9.2v1.6h-9.2zM141.0 248.0h3.1v1.6h-3.1zM43.5 249.5h3.1v1.6h-3.1zM43.5 251.0h4.7v1.6h-4.7zM42.0 252.5h6.2v1.6h-6.2zM42.0 254.0h6.2v1.6h-6.2zM40.5 255.5h6.2v1.6h-6.2zM51.0 255.5h1.6v1.6h-1.6zM43.5 257.0h1.6v1.6h-1.6zM48.0 257.0h6.2v1.6h-6.2zM45.0 258.5h9.2v1.6h-9.2zM45.0 260.0h10.7v1.6h-10.7zM45.0 261.5h10.7v1.6h-10.7zM79.5 261.5h3.1v1.6h-3.1zM46.5 263.0h9.2v1.6h-9.2zM78.0 263.0h6.2v1.6h-6.2zM85.5 263.0h1.6v1.6h-1.6zM46.5 264.5h10.7v1.6h-10.7zM76.5 264.5h12.2v1.6h-12.2zM46.5 266.0h10.7v1.6h-10.7zM75.0 266.0h15.2v1.6h-15.2zM48.0 267.5h10.7v1.6h-10.7zM69.0 267.5h25.6v1.6h-25.6zM48.0 269.0h10.7v1.6h-10.7zM69.0 269.0h30.1v1.6h-30.1zM49.5 270.5h9.2v1.6h-9.2zM67.5 270.5h33.1v1.6h-33.1zM49.5 272.0h9.2v1.6h-9.2zM66.0 272.0h34.6v1.6h-34.6zM51.0 273.5h7.7v1.6h-7.7zM67.5 273.5h37.6v1.6h-37.6zM51.0 275.0h9.2v1.6h-9.2zM67.5 275.0h39.1v1.6h-39.1zM51.0 276.5h9.2v1.6h-9.2zM67.5 276.5h45.1v1.6h-45.1zM51.0 278.0h10.7v1.6h-10.7zM70.5 278.0h43.6v1.6h-43.6zM52.5 279.5h9.2v1.6h-9.2zM69.0 279.5h48.1v1.6h-48.1zM52.5 281.0h10.7v1.6h-10.7zM70.5 281.0h48.1v1.6h-48.1zM52.5 282.5h10.7v1.6h-10.7zM72.0 282.5h48.1v1.6h-48.1zM54.0 284.0h9.2v1.6h-9.2zM73.5 284.0h48.1v1.6h-48.1zM54.0 285.5h9.2v1.6h-9.2zM73.5 285.5h48.1v1.6h-48.1zM54.0 287.0h9.2v1.6h-9.2zM73.5 287.0h48.1v1.6h-48.1zM55.5 288.5h9.2v1.6h-9.2zM75.0 288.5h48.1v1.6h-48.1zM55.5 290.0h9.2v1.6h-9.2zM75.0 290.0h1.6v1.6h-1.6zM78.0 290.0h43.6v1.6h-43.6zM57.0 291.5h9.2v1.6h-9.2zM78.0 291.5h43.6v1.6h-43.6zM57.0 293.0h9.2v1.6h-9.2zM81.0 293.0h4.7v1.6h-4.7zM87.0 293.0h31.6v1.6h-31.6zM57.0 294.5h10.7v1.6h-10.7zM84.0 294.5h1.6v1.6h-1.6zM91.5 294.5h28.6v1.6h-28.6zM57.0 296.0h10.7v1.6h-10.7zM93.0 296.0h22.6v1.6h-22.6zM117.0 296.0h1.6v1.6h-1.6zM58.5 297.5h9.2v1.6h-9.2zM93.0 297.5h24.1v1.6h-24.1zM58.5 299.0h10.7v1.6h-10.7zM93.0 299.0h22.6v1.6h-22.6zM60.0 300.5h9.2v1.6h-9.2zM94.5 300.5h16.6v1.6h-16.6zM130.5 300.5h4.7v1.6h-4.7zM60.0 302.0h10.7v1.6h-10.7zM97.5 302.0h13.7v1.6h-13.7zM130.5 302.0h6.2v1.6h-6.2zM61.5 303.5h9.2v1.6h-9.2zM99.0 303.5h4.7v1.6h-4.7zM105.0 303.5h3.1v1.6h-3.1zM118.5 303.5h6.2v1.6h-6.2zM130.5 303.5h7.7v1.6h-7.7zM61.5 305.0h10.7v1.6h-10.7zM115.5 305.0h13.7v1.6h-13.7zM135.0 305.0h3.1v1.6h-3.1zM63.0 306.5h10.7v1.6h-10.7zM115.5 306.5h9.2v1.6h-9.2zM126.0 306.5h15.2v1.6h-15.2zM142.5 306.5h1.6v1.6h-1.6zM63.0 308.0h12.2v1.6h-12.2zM115.5 308.0h9.2v1.6h-9.2zM126.0 308.0h15.2v1.6h-15.2zM142.5 308.0h1.6v1.6h-1.6zM63.0 309.5h12.2v1.6h-12.2zM114.0 309.5h7.7v1.6h-7.7zM126.0 309.5h1.6v1.6h-1.6zM129.0 309.5h18.1v1.6h-18.1zM64.5 311.0h10.7v1.6h-10.7zM96.0 311.0h3.1v1.6h-3.1zM112.5 311.0h3.1v1.6h-3.1zM118.5 311.0h9.2v1.6h-9.2zM129.0 311.0h18.1v1.6h-18.1zM64.5 312.5h10.7v1.6h-10.7zM96.0 312.5h4.7v1.6h-4.7zM108.0 312.5h1.6v1.6h-1.6zM112.5 312.5h3.1v1.6h-3.1zM118.5 312.5h6.2v1.6h-6.2zM129.0 312.5h19.6v1.6h-19.6zM66.0 314.0h1.6v1.6h-1.6zM70.5 314.0h6.2v1.6h-6.2zM97.5 314.0h6.2v1.6h-6.2zM108.0 314.0h1.6v1.6h-1.6zM112.5 314.0h1.6v1.6h-1.6zM118.5 314.0h3.1v1.6h-3.1zM123.0 314.0h1.6v1.6h-1.6zM129.0 314.0h19.6v1.6h-19.6zM66.0 315.5h1.6v1.6h-1.6zM69.0 315.5h3.1v1.6h-3.1zM75.0 315.5h1.6v1.6h-1.6zM99.0 315.5h6.2v1.6h-6.2zM120.0 315.5h6.2v1.6h-6.2zM130.5 315.5h18.1v1.6h-18.1zM157.5 315.5h4.7v1.6h-4.7zM67.5 317.0h1.6v1.6h-1.6zM76.5 317.0h1.6v1.6h-1.6zM94.5 317.0h9.2v1.6h-9.2zM120.0 317.0h4.7v1.6h-4.7zM133.5 317.0h16.6v1.6h-16.6zM156.0 317.0h6.2v1.6h-6.2zM67.5 318.5h1.6v1.6h-1.6zM94.5 318.5h9.2v1.6h-9.2zM120.0 318.5h3.1v1.6h-3.1zM133.5 318.5h1.6v1.6h-1.6zM136.5 318.5h10.7v1.6h-10.7zM148.5 318.5h4.7v1.6h-4.7zM69.0 320.0h1.6v1.6h-1.6zM94.5 320.0h9.2v1.6h-9.2zM117.0 320.0h6.2v1.6h-6.2zM138.0 320.0h7.7v1.6h-7.7zM147.0 320.0h1.6v1.6h-1.6zM150.0 320.0h3.1v1.6h-3.1zM69.0 321.5h1.6v1.6h-1.6zM72.0 321.5h1.6v1.6h-1.6zM97.5 321.5h7.7v1.6h-7.7zM112.5 321.5h6.2v1.6h-6.2zM133.5 321.5h6.2v1.6h-6.2zM150.0 321.5h1.6v1.6h-1.6zM70.5 323.0h4.7v1.6h-4.7zM99.0 323.0h6.2v1.6h-6.2zM111.0 323.0h6.2v1.6h-6.2zM129.0 323.0h3.1v1.6h-3.1zM133.5 323.0h4.7v1.6h-4.7zM70.5 324.5h6.2v1.6h-6.2zM100.5 324.5h4.7v1.6h-4.7zM109.5 324.5h6.2v1.6h-6.2zM123.0 324.5h3.1v1.6h-3.1zM127.5 324.5h4.7v1.6h-4.7zM133.5 324.5h4.7v1.6h-4.7zM72.0 326.0h3.1v1.6h-3.1zM84.0 326.0h1.6v1.6h-1.6zM102.0 326.0h1.6v1.6h-1.6zM108.0 326.0h7.7v1.6h-7.7zM121.5 326.0h4.7v1.6h-4.7zM133.5 326.0h3.1v1.6h-3.1zM73.5 327.5h3.1v1.6h-3.1zM85.5 327.5h1.6v1.6h-1.6zM108.0 327.5h4.7v1.6h-4.7zM114.0 327.5h4.7v1.6h-4.7zM130.5 327.5h4.7v1.6h-4.7zM139.5 327.5h6.2v1.6h-6.2zM205.5 327.5h6.2v1.6h-6.2zM73.5 329.0h4.7v1.6h-4.7zM108.0 329.0h3.1v1.6h-3.1zM114.0 329.0h4.7v1.6h-4.7zM126.0 329.0h3.1v1.6h-3.1zM132.0 329.0h6.2v1.6h-6.2zM141.0 329.0h4.7v1.6h-4.7zM204.0 329.0h7.7v1.6h-7.7zM75.0 330.5h4.7v1.6h-4.7zM87.0 330.5h1.6v1.6h-1.6zM127.5 330.5h1.6v1.6h-1.6zM135.0 330.5h7.7v1.6h-7.7zM153.0 330.5h6.2v1.6h-6.2zM199.5 330.5h13.7v1.6h-13.7zM76.5 332.0h4.7v1.6h-4.7zM87.0 332.0h3.1v1.6h-3.1zM102.0 332.0h3.1v1.6h-3.1zM135.0 332.0h10.7v1.6h-10.7zM151.5 332.0h7.7v1.6h-7.7zM198.0 332.0h16.6v1.6h-16.6zM78.0 333.5h4.7v1.6h-4.7zM87.0 333.5h4.7v1.6h-4.7zM102.0 333.5h9.2v1.6h-9.2zM112.5 333.5h3.1v1.6h-3.1zM135.0 333.5h13.7v1.6h-13.7zM151.5 333.5h6.2v1.6h-6.2zM198.0 333.5h18.1v1.6h-18.1zM79.5 335.0h4.7v1.6h-4.7zM88.5 335.0h4.7v1.6h-4.7zM102.0 335.0h3.1v1.6h-3.1zM106.5 335.0h10.7v1.6h-10.7zM124.5 335.0h3.1v1.6h-3.1zM130.5 335.0h1.6v1.6h-1.6zM135.0 335.0h13.7v1.6h-13.7zM151.5 335.0h4.7v1.6h-4.7zM193.5 335.0h1.6v1.6h-1.6zM196.5 335.0h21.1v1.6h-21.1zM81.0 336.5h13.7v1.6h-13.7zM109.5 336.5h6.2v1.6h-6.2zM123.0 336.5h4.7v1.6h-4.7zM130.5 336.5h19.6v1.6h-19.6zM151.5 336.5h3.1v1.6h-3.1zM157.5 336.5h1.6v1.6h-1.6zM193.5 336.5h1.6v1.6h-1.6zM196.5 336.5h21.1v1.6h-21.1zM84.0 338.0h12.2v1.6h-12.2zM108.0 338.0h6.2v1.6h-6.2zM121.5 338.0h6.2v1.6h-6.2zM129.0 338.0h22.6v1.6h-22.6zM157.5 338.0h1.6v1.6h-1.6zM195.0 338.0h24.1v1.6h-24.1zM84.0 339.5h9.2v1.6h-9.2zM94.5 339.5h3.1v1.6h-3.1zM108.0 339.5h6.2v1.6h-6.2zM121.5 339.5h6.2v1.6h-6.2zM130.5 339.5h1.6v1.6h-1.6zM133.5 339.5h19.6v1.6h-19.6zM195.0 339.5h22.6v1.6h-22.6zM85.5 341.0h7.7v1.6h-7.7zM106.5 341.0h7.7v1.6h-7.7zM133.5 341.0h19.6v1.6h-19.6zM193.5 341.0h27.1v1.6h-27.1zM87.0 342.5h6.2v1.6h-6.2zM108.0 342.5h6.2v1.6h-6.2zM129.0 342.5h1.6v1.6h-1.6zM132.0 342.5h19.6v1.6h-19.6zM192.0 342.5h28.6v1.6h-28.6zM88.5 344.0h6.2v1.6h-6.2zM96.0 344.0h3.1v1.6h-3.1zM108.0 344.0h6.2v1.6h-6.2zM118.5 344.0h1.6v1.6h-1.6zM127.5 344.0h3.1v1.6h-3.1zM133.5 344.0h19.6v1.6h-19.6zM192.0 344.0h30.1v1.6h-30.1zM88.5 345.5h9.2v1.6h-9.2zM135.0 345.5h16.6v1.6h-16.6zM174.0 345.5h4.7v1.6h-4.7zM192.0 345.5h31.6v1.6h-31.6zM90.0 347.0h6.2v1.6h-6.2zM106.5 347.0h4.7v1.6h-4.7zM118.5 347.0h1.6v1.6h-1.6zM133.5 347.0h19.6v1.6h-19.6zM168.0 347.0h12.2v1.6h-12.2zM186.0 347.0h39.1v1.6h-39.1zM91.5 348.5h4.7v1.6h-4.7zM108.0 348.5h4.7v1.6h-4.7zM118.5 348.5h3.1v1.6h-3.1zM133.5 348.5h1.6v1.6h-1.6zM136.5 348.5h18.1v1.6h-18.1zM168.0 348.5h16.6v1.6h-16.6zM186.0 348.5h42.1v1.6h-42.1zM94.5 350.0h3.1v1.6h-3.1zM108.0 350.0h6.2v1.6h-6.2zM118.5 350.0h1.6v1.6h-1.6zM132.0 350.0h1.6v1.6h-1.6zM138.0 350.0h16.6v1.6h-16.6zM168.0 350.0h58.6v1.6h-58.6zM97.5 351.5h1.6v1.6h-1.6zM108.0 351.5h6.2v1.6h-6.2zM115.5 351.5h4.7v1.6h-4.7zM133.5 351.5h1.6v1.6h-1.6zM136.5 351.5h3.1v1.6h-3.1zM141.0 351.5h1.6v1.6h-1.6zM145.5 351.5h9.2v1.6h-9.2zM159.0 351.5h7.7v1.6h-7.7zM168.0 351.5h64.7v1.6h-64.7zM109.5 353.0h6.2v1.6h-6.2zM117.0 353.0h3.1v1.6h-3.1zM133.5 353.0h9.2v1.6h-9.2zM147.0 353.0h3.1v1.6h-3.1zM159.0 353.0h73.7v1.6h-73.7zM234.0 353.0h1.6v1.6h-1.6zM108.0 354.5h9.2v1.6h-9.2zM118.5 354.5h1.6v1.6h-1.6zM133.5 354.5h3.1v1.6h-3.1zM138.0 354.5h1.6v1.6h-1.6zM159.0 354.5h76.7v1.6h-76.7zM106.5 356.0h12.2v1.6h-12.2zM133.5 356.0h1.6v1.6h-1.6zM159.0 356.0h79.7v1.6h-79.7zM108.0 357.5h10.7v1.6h-10.7zM136.5 357.5h1.6v1.6h-1.6zM159.0 357.5h79.7v1.6h-79.7zM109.5 359.0h10.7v1.6h-10.7zM160.5 359.0h79.7v1.6h-79.7zM109.5 360.5h12.2v1.6h-12.2zM160.5 360.5h1.6v1.6h-1.6zM163.5 360.5h79.7v1.6h-79.7zM250.5 360.5h1.6v1.6h-1.6zM111.0 362.0h12.2v1.6h-12.2zM163.5 362.0h81.2v1.6h-81.2zM247.5 362.0h4.7v1.6h-4.7zM112.5 363.5h10.7v1.6h-10.7zM165.0 363.5h81.2v1.6h-81.2zM249.0 363.5h3.1v1.6h-3.1zM253.5 363.5h1.6v1.6h-1.6zM114.0 365.0h10.7v1.6h-10.7zM165.0 365.0h1.6v1.6h-1.6zM169.5 365.0h76.7v1.6h-76.7zM247.5 365.0h1.6v1.6h-1.6zM252.0 365.0h3.1v1.6h-3.1zM114.0 366.5h12.2v1.6h-12.2zM165.0 366.5h3.1v1.6h-3.1zM169.5 366.5h79.7v1.6h-79.7zM253.5 366.5h3.1v1.6h-3.1zM268.5 366.5h1.6v1.6h-1.6zM115.5 368.0h12.2v1.6h-12.2zM169.5 368.0h87.2v1.6h-87.2zM268.5 368.0h3.1v1.6h-3.1zM340.5 368.0h4.7v1.6h-4.7zM117.0 369.5h12.2v1.6h-12.2zM169.5 369.5h7.7v1.6h-7.7zM178.5 369.5h78.2v1.6h-78.2zM270.0 369.5h4.7v1.6h-4.7zM339.0 369.5h7.7v1.6h-7.7zM348.0 369.5h1.6v1.6h-1.6zM378.0 369.5h4.7v1.6h-4.7zM118.5 371.0h10.7v1.6h-10.7zM181.5 371.0h78.2v1.6h-78.2zM265.5 371.0h1.6v1.6h-1.6zM271.5 371.0h1.6v1.6h-1.6zM336.0 371.0h13.7v1.6h-13.7zM366.0 371.0h1.6v1.6h-1.6zM370.5 371.0h13.7v1.6h-13.7zM120.0 372.5h10.7v1.6h-10.7zM186.0 372.5h76.7v1.6h-76.7zM265.5 372.5h3.1v1.6h-3.1zM271.5 372.5h1.6v1.6h-1.6zM283.5 372.5h3.1v1.6h-3.1zM334.5 372.5h15.2v1.6h-15.2zM366.0 372.5h18.1v1.6h-18.1zM120.0 374.0h10.7v1.6h-10.7zM187.5 374.0h4.7v1.6h-4.7zM193.5 374.0h69.2v1.6h-69.2zM280.5 374.0h1.6v1.6h-1.6zM285.0 374.0h1.6v1.6h-1.6zM331.5 374.0h16.6v1.6h-16.6zM364.5 374.0h21.1v1.6h-21.1zM121.5 375.5h10.7v1.6h-10.7zM192.0 375.5h1.6v1.6h-1.6zM195.0 375.5h70.7v1.6h-70.7zM279.0 375.5h1.6v1.6h-1.6zM330.0 375.5h15.2v1.6h-15.2zM360.0 375.5h24.1v1.6h-24.1zM123.0 377.0h10.7v1.6h-10.7zM195.0 377.0h72.2v1.6h-72.2zM304.5 377.0h3.1v1.6h-3.1zM327.0 377.0h18.1v1.6h-18.1zM357.0 377.0h27.1v1.6h-27.1zM126.0 378.5h9.2v1.6h-9.2zM195.0 378.5h75.2v1.6h-75.2zM271.5 378.5h1.6v1.6h-1.6zM286.5 378.5h1.6v1.6h-1.6zM300.0 378.5h3.1v1.6h-3.1zM304.5 378.5h3.1v1.6h-3.1zM312.0 378.5h1.6v1.6h-1.6zM327.0 378.5h16.6v1.6h-16.6zM354.0 378.5h31.6v1.6h-31.6zM129.0 380.0h6.2v1.6h-6.2zM196.5 380.0h76.7v1.6h-76.7zM274.5 380.0h1.6v1.6h-1.6zM298.5 380.0h3.1v1.6h-3.1zM304.5 380.0h3.1v1.6h-3.1zM309.0 380.0h1.6v1.6h-1.6zM322.5 380.0h19.6v1.6h-19.6zM354.0 380.0h31.6v1.6h-31.6zM129.0 381.5h6.2v1.6h-6.2zM196.5 381.5h79.7v1.6h-79.7zM277.5 381.5h1.6v1.6h-1.6zM280.5 381.5h1.6v1.6h-1.6zM304.5 381.5h1.6v1.6h-1.6zM309.0 381.5h1.6v1.6h-1.6zM322.5 381.5h15.2v1.6h-15.2zM352.5 381.5h33.1v1.6h-33.1zM201.0 383.0h78.2v1.6h-78.2zM280.5 383.0h1.6v1.6h-1.6zM283.5 383.0h1.6v1.6h-1.6zM304.5 383.0h4.7v1.6h-4.7zM324.0 383.0h1.6v1.6h-1.6zM327.0 383.0h6.2v1.6h-6.2zM352.5 383.0h33.1v1.6h-33.1zM201.0 384.5h79.7v1.6h-79.7zM283.5 384.5h1.6v1.6h-1.6zM304.5 384.5h6.2v1.6h-6.2zM327.0 384.5h3.1v1.6h-3.1zM351.0 384.5h34.6v1.6h-34.6zM202.5 386.0h79.7v1.6h-79.7zM283.5 386.0h1.6v1.6h-1.6zM286.5 386.0h1.6v1.6h-1.6zM303.0 386.0h3.1v1.6h-3.1zM307.5 386.0h3.1v1.6h-3.1zM351.0 386.0h33.1v1.6h-33.1zM138.0 387.5h9.2v1.6h-9.2zM202.5 387.5h81.2v1.6h-81.2zM285.0 387.5h4.7v1.6h-4.7zM291.0 387.5h1.6v1.6h-1.6zM303.0 387.5h3.1v1.6h-3.1zM349.5 387.5h34.6v1.6h-34.6zM135.0 389.0h19.6v1.6h-19.6zM204.0 389.0h81.2v1.6h-81.2zM303.0 389.0h3.1v1.6h-3.1zM345.0 389.0h1.6v1.6h-1.6zM348.0 389.0h36.1v1.6h-36.1zM133.5 390.5h25.6v1.6h-25.6zM205.5 390.5h1.6v1.6h-1.6zM208.5 390.5h82.7v1.6h-82.7zM304.5 390.5h1.6v1.6h-1.6zM343.5 390.5h40.6v1.6h-40.6zM129.0 392.0h22.6v1.6h-22.6zM153.0 392.0h7.7v1.6h-7.7zM204.0 392.0h85.7v1.6h-85.7zM304.5 392.0h1.6v1.6h-1.6zM343.5 392.0h40.6v1.6h-40.6zM124.5 393.5h24.1v1.6h-24.1zM150.0 393.5h13.7v1.6h-13.7zM210.0 393.5h84.2v1.6h-84.2zM309.0 393.5h3.1v1.6h-3.1zM315.0 393.5h4.7v1.6h-4.7zM342.0 393.5h42.1v1.6h-42.1zM123.0 395.0h24.1v1.6h-24.1zM148.5 395.0h3.1v1.6h-3.1zM156.0 395.0h7.7v1.6h-7.7zM210.0 395.0h87.2v1.6h-87.2zM309.0 395.0h4.7v1.6h-4.7zM316.5 395.0h4.7v1.6h-4.7zM340.5 395.0h39.1v1.6h-39.1zM123.0 396.5h27.1v1.6h-27.1zM156.0 396.5h12.2v1.6h-12.2zM213.0 396.5h39.1v1.6h-39.1zM253.5 396.5h45.1v1.6h-45.1zM300.0 396.5h15.2v1.6h-15.2zM316.5 396.5h6.2v1.6h-6.2zM340.5 396.5h40.6v1.6h-40.6zM123.0 398.0h27.1v1.6h-27.1zM154.5 398.0h13.7v1.6h-13.7zM214.5 398.0h36.1v1.6h-36.1zM255.0 398.0h4.7v1.6h-4.7zM262.5 398.0h61.6v1.6h-61.6zM327.0 398.0h3.1v1.6h-3.1zM340.5 398.0h37.6v1.6h-37.6zM123.0 399.5h21.1v1.6h-21.1zM145.5 399.5h10.7v1.6h-10.7zM159.0 399.5h9.2v1.6h-9.2zM214.5 399.5h1.6v1.6h-1.6zM217.5 399.5h40.6v1.6h-40.6zM262.5 399.5h36.1v1.6h-36.1zM300.0 399.5h18.1v1.6h-18.1zM322.5 399.5h9.2v1.6h-9.2zM340.5 399.5h31.6v1.6h-31.6zM124.5 401.0h19.6v1.6h-19.6zM145.5 401.0h4.7v1.6h-4.7zM151.5 401.0h1.6v1.6h-1.6zM157.5 401.0h9.2v1.6h-9.2zM214.5 401.0h1.6v1.6h-1.6zM217.5 401.0h36.1v1.6h-36.1zM255.0 401.0h1.6v1.6h-1.6zM262.5 401.0h18.1v1.6h-18.1zM282.0 401.0h6.2v1.6h-6.2zM289.5 401.0h15.2v1.6h-15.2zM307.5 401.0h7.7v1.6h-7.7zM322.5 401.0h7.7v1.6h-7.7zM339.0 401.0h30.1v1.6h-30.1zM126.0 402.5h19.6v1.6h-19.6zM147.0 402.5h3.1v1.6h-3.1zM151.5 402.5h1.6v1.6h-1.6zM159.0 402.5h6.2v1.6h-6.2zM220.5 402.5h37.6v1.6h-37.6zM261.0 402.5h12.2v1.6h-12.2zM274.5 402.5h6.2v1.6h-6.2zM283.5 402.5h1.6v1.6h-1.6zM286.5 402.5h15.2v1.6h-15.2zM309.0 402.5h4.7v1.6h-4.7zM321.0 402.5h9.2v1.6h-9.2zM334.5 402.5h4.7v1.6h-4.7zM340.5 402.5h28.6v1.6h-28.6zM126.0 404.0h24.1v1.6h-24.1zM151.5 404.0h1.6v1.6h-1.6zM157.5 404.0h6.2v1.6h-6.2zM220.5 404.0h4.7v1.6h-4.7zM228.0 404.0h25.6v1.6h-25.6zM255.0 404.0h4.7v1.6h-4.7zM262.5 404.0h9.2v1.6h-9.2zM276.0 404.0h27.1v1.6h-27.1zM327.0 404.0h3.1v1.6h-3.1zM336.0 404.0h3.1v1.6h-3.1zM340.5 404.0h27.1v1.6h-27.1zM126.0 405.5h22.6v1.6h-22.6zM156.0 405.5h1.6v1.6h-1.6zM160.5 405.5h1.6v1.6h-1.6zM234.0 405.5h15.2v1.6h-15.2zM250.5 405.5h4.7v1.6h-4.7zM256.5 405.5h48.1v1.6h-48.1zM307.5 405.5h3.1v1.6h-3.1zM327.0 405.5h3.1v1.6h-3.1zM336.0 405.5h28.6v1.6h-28.6zM126.0 407.0h18.1v1.6h-18.1zM148.5 407.0h1.6v1.6h-1.6zM231.0 407.0h3.1v1.6h-3.1zM235.5 407.0h7.7v1.6h-7.7zM250.5 407.0h3.1v1.6h-3.1zM258.0 407.0h1.6v1.6h-1.6zM261.0 407.0h43.6v1.6h-43.6zM307.5 407.0h1.6v1.6h-1.6zM321.0 407.0h1.6v1.6h-1.6zM328.5 407.0h1.6v1.6h-1.6zM336.0 407.0h28.6v1.6h-28.6zM127.5 408.5h24.1v1.6h-24.1zM160.5 408.5h1.6v1.6h-1.6zM235.5 408.5h1.6v1.6h-1.6zM252.0 408.5h3.1v1.6h-3.1zM262.5 408.5h43.6v1.6h-43.6zM313.5 408.5h3.1v1.6h-3.1zM321.0 408.5h1.6v1.6h-1.6zM328.5 408.5h3.1v1.6h-3.1zM337.5 408.5h27.1v1.6h-27.1zM127.5 410.0h18.1v1.6h-18.1zM147.0 410.0h3.1v1.6h-3.1zM160.5 410.0h1.6v1.6h-1.6zM262.5 410.0h3.1v1.6h-3.1zM270.0 410.0h36.1v1.6h-36.1zM309.0 410.0h9.2v1.6h-9.2zM319.5 410.0h3.1v1.6h-3.1zM340.5 410.0h21.1v1.6h-21.1zM129.0 411.5h19.6v1.6h-19.6zM160.5 411.5h1.6v1.6h-1.6zM271.5 411.5h13.7v1.6h-13.7zM286.5 411.5h25.6v1.6h-25.6zM315.0 411.5h6.2v1.6h-6.2zM340.5 411.5h21.1v1.6h-21.1zM129.0 413.0h19.6v1.6h-19.6zM189.0 413.0h3.1v1.6h-3.1zM271.5 413.0h4.7v1.6h-4.7zM277.5 413.0h7.7v1.6h-7.7zM286.5 413.0h25.6v1.6h-25.6zM316.5 413.0h4.7v1.6h-4.7zM340.5 413.0h19.6v1.6h-19.6zM130.5 414.5h19.6v1.6h-19.6zM154.5 414.5h1.6v1.6h-1.6zM159.0 414.5h1.6v1.6h-1.6zM189.0 414.5h3.1v1.6h-3.1zM276.0 414.5h9.2v1.6h-9.2zM286.5 414.5h4.7v1.6h-4.7zM292.5 414.5h19.6v1.6h-19.6zM315.0 414.5h4.7v1.6h-4.7zM327.0 414.5h10.7v1.6h-10.7zM339.0 414.5h18.1v1.6h-18.1zM132.0 416.0h18.1v1.6h-18.1zM157.5 416.0h3.1v1.6h-3.1zM189.0 416.0h4.7v1.6h-4.7zM213.0 416.0h1.6v1.6h-1.6zM249.0 416.0h1.6v1.6h-1.6zM277.5 416.0h1.6v1.6h-1.6zM280.5 416.0h4.7v1.6h-4.7zM286.5 416.0h3.1v1.6h-3.1zM291.0 416.0h6.2v1.6h-6.2zM298.5 416.0h21.1v1.6h-21.1zM325.5 416.0h31.6v1.6h-31.6zM132.0 417.5h18.1v1.6h-18.1zM154.5 417.5h6.2v1.6h-6.2zM189.0 417.5h4.7v1.6h-4.7zM213.0 417.5h1.6v1.6h-1.6zM276.0 417.5h1.6v1.6h-1.6zM282.0 417.5h1.6v1.6h-1.6zM291.0 417.5h4.7v1.6h-4.7zM298.5 417.5h55.6v1.6h-55.6zM133.5 419.0h15.2v1.6h-15.2zM150.0 419.0h3.1v1.6h-3.1zM156.0 419.0h4.7v1.6h-4.7zM190.5 419.0h1.6v1.6h-1.6zM282.0 419.0h3.1v1.6h-3.1zM286.5 419.0h3.1v1.6h-3.1zM291.0 419.0h1.6v1.6h-1.6zM294.0 419.0h1.6v1.6h-1.6zM298.5 419.0h12.2v1.6h-12.2zM316.5 419.0h36.1v1.6h-36.1zM135.0 420.5h12.2v1.6h-12.2zM150.0 420.5h3.1v1.6h-3.1zM156.0 420.5h3.1v1.6h-3.1zM190.5 420.5h1.6v1.6h-1.6zM217.5 420.5h1.6v1.6h-1.6zM276.0 420.5h1.6v1.6h-1.6zM291.0 420.5h1.6v1.6h-1.6zM297.0 420.5h13.7v1.6h-13.7zM316.5 420.5h6.2v1.6h-6.2zM324.0 420.5h10.7v1.6h-10.7zM336.0 420.5h3.1v1.6h-3.1zM340.5 420.5h9.2v1.6h-9.2zM135.0 422.0h13.7v1.6h-13.7zM150.0 422.0h9.2v1.6h-9.2zM190.5 422.0h3.1v1.6h-3.1zM295.5 422.0h43.6v1.6h-43.6zM340.5 422.0h7.7v1.6h-7.7zM349.5 422.0h1.6v1.6h-1.6zM136.5 423.5h22.6v1.6h-22.6zM190.5 423.5h3.1v1.6h-3.1zM214.5 423.5h3.1v1.6h-3.1zM294.0 423.5h6.2v1.6h-6.2zM301.5 423.5h39.1v1.6h-39.1zM342.0 423.5h4.7v1.6h-4.7zM136.5 425.0h22.6v1.6h-22.6zM190.5 425.0h1.6v1.6h-1.6zM216.0 425.0h1.6v1.6h-1.6zM252.0 425.0h1.6v1.6h-1.6zM291.0 425.0h9.2v1.6h-9.2zM303.0 425.0h24.1v1.6h-24.1zM331.5 425.0h7.7v1.6h-7.7zM138.0 426.5h21.1v1.6h-21.1zM190.5 426.5h1.6v1.6h-1.6zM225.0 426.5h1.6v1.6h-1.6zM286.5 426.5h1.6v1.6h-1.6zM291.0 426.5h4.7v1.6h-4.7zM298.5 426.5h12.2v1.6h-12.2zM313.5 426.5h7.7v1.6h-7.7zM325.5 426.5h1.6v1.6h-1.6zM331.5 426.5h7.7v1.6h-7.7zM138.0 428.0h19.6v1.6h-19.6zM190.5 428.0h3.1v1.6h-3.1zM220.5 428.0h1.6v1.6h-1.6zM256.5 428.0h1.6v1.6h-1.6zM285.0 428.0h10.7v1.6h-10.7zM300.0 428.0h12.2v1.6h-12.2zM313.5 428.0h9.2v1.6h-9.2zM333.0 428.0h1.6v1.6h-1.6zM139.5 429.5h18.1v1.6h-18.1zM238.5 429.5h1.6v1.6h-1.6zM255.0 429.5h1.6v1.6h-1.6zM258.0 429.5h1.6v1.6h-1.6zM273.0 429.5h3.1v1.6h-3.1zM283.5 429.5h12.2v1.6h-12.2zM300.0 429.5h24.1v1.6h-24.1zM328.5 429.5h10.7v1.6h-10.7zM139.5 431.0h18.1v1.6h-18.1zM190.5 431.0h1.6v1.6h-1.6zM274.5 431.0h1.6v1.6h-1.6zM286.5 431.0h4.7v1.6h-4.7zM295.5 431.0h30.1v1.6h-30.1zM330.0 431.0h7.7v1.6h-7.7zM141.0 432.5h15.2v1.6h-15.2zM189.0 432.5h3.1v1.6h-3.1zM222.0 432.5h1.6v1.6h-1.6zM261.0 432.5h3.1v1.6h-3.1zM288.0 432.5h3.1v1.6h-3.1zM295.5 432.5h15.2v1.6h-15.2zM315.0 432.5h10.7v1.6h-10.7zM330.0 432.5h4.7v1.6h-4.7zM336.0 432.5h3.1v1.6h-3.1zM340.5 432.5h1.6v1.6h-1.6zM141.0 434.0h15.2v1.6h-15.2zM189.0 434.0h3.1v1.6h-3.1zM225.0 434.0h1.6v1.6h-1.6zM288.0 434.0h3.1v1.6h-3.1zM295.5 434.0h13.7v1.6h-13.7zM315.0 434.0h12.2v1.6h-12.2zM328.5 434.0h4.7v1.6h-4.7zM340.5 434.0h1.6v1.6h-1.6zM142.5 435.5h13.7v1.6h-13.7zM189.0 435.5h1.6v1.6h-1.6zM225.0 435.5h1.6v1.6h-1.6zM273.0 435.5h3.1v1.6h-3.1zM279.0 435.5h1.6v1.6h-1.6zM288.0 435.5h3.1v1.6h-3.1zM298.5 435.5h13.7v1.6h-13.7zM315.0 435.5h3.1v1.6h-3.1zM322.5 435.5h9.2v1.6h-9.2zM339.0 435.5h1.6v1.6h-1.6zM142.5 437.0h13.7v1.6h-13.7zM189.0 437.0h3.1v1.6h-3.1zM225.0 437.0h1.6v1.6h-1.6zM241.5 437.0h1.6v1.6h-1.6zM253.5 437.0h1.6v1.6h-1.6zM277.5 437.0h1.6v1.6h-1.6zM280.5 437.0h1.6v1.6h-1.6zM286.5 437.0h6.2v1.6h-6.2zM303.0 437.0h12.2v1.6h-12.2zM324.0 437.0h6.2v1.6h-6.2zM337.5 437.0h1.6v1.6h-1.6zM144.0 438.5h10.7v1.6h-10.7zM189.0 438.5h3.1v1.6h-3.1zM225.0 438.5h1.6v1.6h-1.6zM252.0 438.5h4.7v1.6h-4.7zM267.0 438.5h1.6v1.6h-1.6zM285.0 438.5h7.7v1.6h-7.7zM304.5 438.5h9.2v1.6h-9.2zM330.0 438.5h3.1v1.6h-3.1zM336.0 438.5h1.6v1.6h-1.6zM144.0 440.0h10.7v1.6h-10.7zM189.0 440.0h3.1v1.6h-3.1zM226.5 440.0h1.6v1.6h-1.6zM255.0 440.0h1.6v1.6h-1.6zM271.5 440.0h1.6v1.6h-1.6zM286.5 440.0h4.7v1.6h-4.7zM306.0 440.0h6.2v1.6h-6.2zM334.5 440.0h1.6v1.6h-1.6zM145.5 441.5h10.7v1.6h-10.7zM189.0 441.5h1.6v1.6h-1.6zM223.5 441.5h1.6v1.6h-1.6zM255.0 441.5h3.1v1.6h-3.1zM306.0 441.5h7.7v1.6h-7.7zM315.0 441.5h6.2v1.6h-6.2zM333.0 441.5h1.6v1.6h-1.6zM147.0 443.0h9.2v1.6h-9.2zM189.0 443.0h1.6v1.6h-1.6zM213.0 443.0h6.2v1.6h-6.2zM223.5 443.0h1.6v1.6h-1.6zM273.0 443.0h1.6v1.6h-1.6zM307.5 443.0h1.6v1.6h-1.6zM310.5 443.0h4.7v1.6h-4.7zM331.5 443.0h1.6v1.6h-1.6zM147.0 444.5h9.2v1.6h-9.2zM211.5 444.5h12.2v1.6h-12.2zM277.5 444.5h1.6v1.6h-1.6zM328.5 444.5h3.1v1.6h-3.1zM147.0 446.0h9.2v1.6h-9.2zM205.5 446.0h1.6v1.6h-1.6zM208.5 446.0h16.6v1.6h-16.6zM253.5 446.0h1.6v1.6h-1.6zM276.0 446.0h3.1v1.6h-3.1zM325.5 446.0h4.7v1.6h-4.7zM148.5 447.5h7.7v1.6h-7.7zM199.5 447.5h3.1v1.6h-3.1zM204.0 447.5h24.1v1.6h-24.1zM252.0 447.5h1.6v1.6h-1.6zM280.5 447.5h1.6v1.6h-1.6zM322.5 447.5h6.2v1.6h-6.2zM150.0 449.0h7.7v1.6h-7.7zM198.0 449.0h30.1v1.6h-30.1zM240.0 449.0h1.6v1.6h-1.6zM321.0 449.0h6.2v1.6h-6.2zM150.0 450.5h7.7v1.6h-7.7zM195.0 450.5h16.6v1.6h-16.6zM213.0 450.5h16.6v1.6h-16.6zM249.0 450.5h1.6v1.6h-1.6zM283.5 450.5h1.6v1.6h-1.6zM321.0 450.5h4.7v1.6h-4.7zM150.0 452.0h7.7v1.6h-7.7zM193.5 452.0h36.1v1.6h-36.1zM232.5 452.0h1.6v1.6h-1.6zM249.0 452.0h1.6v1.6h-1.6zM319.5 452.0h4.7v1.6h-4.7zM151.5 453.5h6.2v1.6h-6.2zM189.0 453.5h42.1v1.6h-42.1zM232.5 453.5h3.1v1.6h-3.1zM249.0 453.5h1.6v1.6h-1.6zM319.5 453.5h3.1v1.6h-3.1zM151.5 455.0h6.2v1.6h-6.2zM187.5 455.0h43.6v1.6h-43.6zM316.5 455.0h4.7v1.6h-4.7zM153.0 456.5h6.2v1.6h-6.2zM186.0 456.5h39.1v1.6h-39.1zM226.5 456.5h3.1v1.6h-3.1zM250.5 456.5h3.1v1.6h-3.1zM255.0 456.5h3.1v1.6h-3.1zM267.0 456.5h1.6v1.6h-1.6zM313.5 456.5h6.2v1.6h-6.2zM154.5 458.0h3.1v1.6h-3.1zM184.5 458.0h15.2v1.6h-15.2zM202.5 458.0h15.2v1.6h-15.2zM220.5 458.0h10.7v1.6h-10.7zM249.0 458.0h25.6v1.6h-25.6zM312.0 458.0h7.7v1.6h-7.7zM186.0 459.5h33.1v1.6h-33.1zM222.0 459.5h10.7v1.6h-10.7zM234.0 459.5h1.6v1.6h-1.6zM241.5 459.5h42.1v1.6h-42.1zM310.5 459.5h7.7v1.6h-7.7zM183.0 461.0h37.6v1.6h-37.6zM222.0 461.0h1.6v1.6h-1.6zM226.5 461.0h13.7v1.6h-13.7zM241.5 461.0h45.1v1.6h-45.1zM306.0 461.0h12.2v1.6h-12.2zM183.0 462.5h30.1v1.6h-30.1zM214.5 462.5h10.7v1.6h-10.7zM226.5 462.5h61.6v1.6h-61.6zM301.5 462.5h15.2v1.6h-15.2zM181.5 464.0h43.6v1.6h-43.6zM226.5 464.0h63.1v1.6h-63.1zM300.0 464.0h1.6v1.6h-1.6zM303.0 464.0h4.7v1.6h-4.7zM312.0 464.0h4.7v1.6h-4.7zM180.0 465.5h111.2v1.6h-111.2zM298.5 465.5h6.2v1.6h-6.2zM312.0 465.5h3.1v1.6h-3.1zM180.0 467.0h114.2v1.6h-114.2zM295.5 467.0h6.2v1.6h-6.2zM310.5 467.0h3.1v1.6h-3.1zM178.5 468.5h120.2v1.6h-120.2zM310.5 468.5h3.1v1.6h-3.1zM177.0 470.0h120.2v1.6h-120.2zM309.0 470.0h3.1v1.6h-3.1zM177.0 471.5h117.2v1.6h-117.2zM307.5 471.5h3.1v1.6h-3.1zM175.5 473.0h117.2v1.6h-117.2zM306.0 473.0h3.1v1.6h-3.1zM175.5 474.5h30.1v1.6h-30.1zM208.5 474.5h43.6v1.6h-43.6zM253.5 474.5h1.6v1.6h-1.6zM256.5 474.5h34.6v1.6h-34.6zM303.0 474.5h4.7v1.6h-4.7zM174.0 476.0h30.1v1.6h-30.1zM208.5 476.0h27.1v1.6h-27.1zM241.5 476.0h1.6v1.6h-1.6zM246.0 476.0h3.1v1.6h-3.1zM259.5 476.0h30.1v1.6h-30.1zM301.5 476.0h4.7v1.6h-4.7zM174.0 477.5h30.1v1.6h-30.1zM207.0 477.5h28.6v1.6h-28.6zM241.5 477.5h1.6v1.6h-1.6zM261.0 477.5h28.6v1.6h-28.6zM298.5 477.5h6.2v1.6h-6.2zM177.0 479.0h25.6v1.6h-25.6zM205.5 479.0h33.1v1.6h-33.1zM241.5 479.0h1.6v1.6h-1.6zM264.0 479.0h27.1v1.6h-27.1zM295.5 479.0h7.7v1.6h-7.7zM181.5 480.5h9.2v1.6h-9.2zM192.0 480.5h3.1v1.6h-3.1zM198.0 480.5h40.6v1.6h-40.6zM244.5 480.5h1.6v1.6h-1.6zM265.5 480.5h25.6v1.6h-25.6zM292.5 480.5h9.2v1.6h-9.2zM196.5 482.0h43.6v1.6h-43.6zM244.5 482.0h7.7v1.6h-7.7zM259.5 482.0h1.6v1.6h-1.6zM267.0 482.0h33.1v1.6h-33.1zM195.0 483.5h60.1v1.6h-60.1zM259.5 483.5h1.6v1.6h-1.6zM268.5 483.5h27.1v1.6h-27.1zM195.0 485.0h58.6v1.6h-58.6zM271.5 485.0h21.1v1.6h-21.1zM195.0 486.5h64.7v1.6h-64.7zM273.0 486.5h16.6v1.6h-16.6zM195.0 488.0h36.1v1.6h-36.1zM241.5 488.0h24.1v1.6h-24.1zM270.0 488.0h16.6v1.6h-16.6zM195.0 489.5h33.1v1.6h-33.1zM258.0 489.5h25.6v1.6h-25.6zM195.0 491.0h28.6v1.6h-28.6zM267.0 491.0h10.7v1.6h-10.7zM196.5 492.5h24.1v1.6h-24.1zM199.5 494.0h18.1v1.6h-18.1zM205.5 495.5h7.7v1.6h-7.7z" fill="#000" shape-rendering="crispEdges"/>
</g>
</g>
<g clip-path="url(#inner)">
<use href="#gulfshape" fill="none" stroke="#000" stroke-width="2.0" stroke-linejoin="round"/>
<use href="#islands"/>
</g>
<text x="199.6" y="90.0" text-anchor="middle" font-family='"Liberation Serif", "DejaVu Serif", serif' font-weight="bold" font-size="52.5" fill="#ff0000">OC-</text>
<text x="199.6" y="150.8" text-anchor="middle" font-family='"Liberation Serif", "DejaVu Serif", serif' font-weight="bold" font-size="52.5" fill="#ff0000">XGBRT</text>
<text x="17.2" y="551.3" font-family='"Liberation Serif", "DejaVu Serif", serif' font-weight="bold" font-size="46" fill="#000">(D)</text>
<text x="44.8" y="604.3" text-anchor="middle" font-family='"Liberation Serif", "DejaVu Serif", serif' font-size="28" fill="#000">48°E</text>
<text x="126.8" y="604.3" text-anchor="middle" font-family='"Liberation Serif", "DejaVu Serif", serif' font-size="28" fill="#000">50°E</text>
<text x="208.8" y="604.3" text-anchor="middle" font-family='"Liberation Serif", "DejaVu Serif", serif' font-size="28" fill="#000">52°E</text>
<text x="290.8" y="604.3" text-anchor="middle" font-family='"Liberation Serif", "DejaVu Serif", serif' font-size="28" fill="#000">54°E</text>
<text x="372.8" y="604.3" text-anchor="middle" font-family='"Liberation Serif", "DejaVu Serif", serif' font-size="28" fill="#000">56°E</text>
<text x="-7.2" y="101.5" text-anchor="end" font-family='"Liberation Serif", "DejaVu Serif", serif' font-size="28" fill="#000">33°N</text>
<text x="-7.2" y="237.2" text-anchor="end" font-family='"Liberation Serif", "DejaVu Serif", serif' font-size="28" fill="#000">30°N</text>
<text x="-7.2" y="371.0" text-anchor="end" font-family='"Liberation Serif", "DejaVu Serif", serif' font-size="28" fill="#000">27°N</text>
<text x="-7.2" y="501.7" text-anchor="end" font-family='"Liberation Serif", "DejaVu Serif", serif' font-size="28" fill="#000">24°N</text>
</g>
<g transform="translate(562.9,719.2)">
<use href="#frame"/>
<g clip-path="url(#inner)">
<use href="#coast"/>
<use href="#gulfshape" fill="#cacaff" stroke="none"/>
<g clip-path="url(#gclip)">
<ellipse cx="325.3" cy="402.3" rx="34.8" ry="15.2" fill="#9c9cff" opacity="0.95" filter="url(#bl)"/>
<ellipse cx="260.1" cy="424.1" rx="43.5" ry="17.4" fill="#b4b4ff" opacity="0.7" filter="url(#bl)"/>
<ellipse cx="227.5" cy="434.9" rx="30.4" ry="10.9" fill="#b0b0ff" opacity="0.8" filter="url(#bl)"/>
<ellipse cx="271.0" cy="376.3" rx="21.7" ry="8.7" fill="#b0b0ff" opacity="0.8" filter="url(#bl)"/>
<ellipse cx="86.3" cy="237.2" rx="17.4" ry="10.9" fill="#b0b0ff" opacity="0.8" filter="url(#bl)"/>
<ellipse cx="118.9" cy="304.6" rx="21.7" ry="26.1" fill="#d0d0ff" opacity="0.8" filter="url(#bl)"/>
<ellipse cx="151.5" cy="358.9" rx="21.7" ry="13.0" fill="#d8d8ff" opacity="0.8" filter="url(#bl)"/>
<ellipse cx="216.6" cy="467.5" rx="21.7" ry="13.0" fill="#dcdcff" opacity="0.8" filter="url(#bl)"/>
<polygon points="29.8,254.6 35.2,251.3 38.5,253.5 37.4,257.2 33.0,257.2" fill="#ffb4b4"/>
<polygon points="67.8,311.1 73.2,313.3 79.8,316.5 84.1,324.1 86.3,332.8 81.9,333.9 76.5,328.5 71.1,319.8" fill="#ffc0c0"/>
<polygon points="91.7,340.4 97.1,341.5 105.8,346.9 109.1,352.4 104.7,354.5 98.2,351.3 93.9,345.8" fill="#ffb0b0"/>
<polygon points="260.1,482.7 271.0,484.9 281.8,487.1 292.7,481.6 303.5,474.0 310.1,467.5 312.2,463.2 305.7,465.3 297.0,474.0 286.2,480.6 273.1,481.6" fill="#ffc8c8"/>
<polygon points="325.3,441.4 334.0,434.9 342.7,428.4 340.5,434.9 331.8,443.6 325.3,448.0" fill="#ff9090"/>
</g>
</g>
<g clip-path="url(#inner)">
<g clip-path="url(#gclip)">
<path d="M123.0 219.5h4.7v1.6h-4.7zM123.0 221.0h6.2v1.6h-6.2zM124.5 222.5h6.2v1.6h-6.2zM124.5 224.0h6.2v1.6h-6.2zM126.0 225.5h4.7v1.6h-4.7zM127.5 227.0h4.7v1.6h-4.7zM127.5 228.5h4.7v1.6h-4.7zM129.0 230.0h4.7v1.6h-4.7zM129.0 231.5h4.7v1.6h-4.7zM130.5 233.0h4.7v1.6h-4.7zM132.0 234.5h4.7v1.6h-4.7zM132.0 236.0h6.2v1.6h-6.2zM133.5 237.5h6.2v1.6h-6.2zM135.0 239.0h6.2v1.6h-6.2zM135.0 240.5h6.2v1.6h-6.2zM136.5 242.0h6.2v1.6h-6.2zM138.0 243.5h6.2v1.6h-6.2zM139.5 245.0h4.7v1.6h-4.7zM40.5 246.5h3.1v1.6h-3.1zM141.0 246.5h4.7v1.6h-4.7zM39.0 248.0h7.7v1.6h-7.7zM142.5 248.0h3.1v1.6h-3.1zM37.5 249.5h10.7v1.6h-10.7zM37.5 251.0h12.2v1.6h-12.2zM39.0 252.5h10.7v1.6h-10.7zM39.0 254.0h9.2v1.6h-9.2zM51.0 254.0h3.1v1.6h-3.1zM42.0 255.5h6.2v1.6h-6.2zM51.0 255.5h1.6v1.6h-1.6zM54.0 255.5h1.6v1.6h-1.6zM46.5 257.0h1.6v1.6h-1.6zM49.5 257.0h1.6v1.6h-1.6zM46.5 258.5h1.6v1.6h-1.6zM49.5 258.5h1.6v1.6h-1.6zM49.5 260.0h1.6v1.6h-1.6zM46.5 261.5h4.7v1.6h-4.7zM49.5 263.0h3.1v1.6h-3.1zM58.5 263.0h1.6v1.6h-1.6zM46.5 264.5h6.2v1.6h-6.2zM58.5 264.5h3.1v1.6h-3.1zM48.0 266.0h4.7v1.6h-4.7zM55.5 266.0h4.7v1.6h-4.7zM48.0 267.5h7.7v1.6h-7.7zM57.0 267.5h3.1v1.6h-3.1zM49.5 269.0h3.1v1.6h-3.1zM49.5 270.5h3.1v1.6h-3.1zM54.0 270.5h1.6v1.6h-1.6zM51.0 272.0h7.7v1.6h-7.7zM51.0 273.5h1.6v1.6h-1.6zM54.0 273.5h4.7v1.6h-4.7zM52.5 275.0h1.6v1.6h-1.6zM57.0 275.0h3.1v1.6h-3.1zM57.0 276.5h1.6v1.6h-1.6zM55.5 285.5h1.6v1.6h-1.6zM64.5 287.0h3.1v1.6h-3.1zM58.5 288.5h3.1v1.6h-3.1zM57.0 290.0h1.6v1.6h-1.6zM60.0 290.0h1.6v1.6h-1.6zM64.5 290.0h1.6v1.6h-1.6zM57.0 291.5h1.6v1.6h-1.6zM64.5 294.5h3.1v1.6h-3.1zM64.5 296.0h4.7v1.6h-4.7zM63.0 297.5h4.7v1.6h-4.7zM64.5 299.0h3.1v1.6h-3.1zM69.0 300.5h1.6v1.6h-1.6zM69.0 302.0h1.6v1.6h-1.6zM72.0 302.0h1.6v1.6h-1.6zM70.5 309.5h3.1v1.6h-3.1zM70.5 311.0h3.1v1.6h-3.1zM79.5 311.0h1.6v1.6h-1.6zM73.5 312.5h1.6v1.6h-1.6zM79.5 312.5h1.6v1.6h-1.6zM67.5 314.0h1.6v1.6h-1.6zM78.0 314.0h4.7v1.6h-4.7zM66.0 315.5h3.1v1.6h-3.1zM67.5 317.0h1.6v1.6h-1.6zM67.5 318.5h1.6v1.6h-1.6zM69.0 320.0h1.6v1.6h-1.6zM82.5 320.0h1.6v1.6h-1.6zM79.5 321.5h1.6v1.6h-1.6zM79.5 323.0h1.6v1.6h-1.6zM75.0 327.5h1.6v1.6h-1.6zM81.0 327.5h1.6v1.6h-1.6zM87.0 327.5h1.6v1.6h-1.6zM75.0 329.0h1.6v1.6h-1.6zM88.5 329.0h1.6v1.6h-1.6zM76.5 330.5h1.6v1.6h-1.6zM88.5 330.5h3.1v1.6h-3.1zM79.5 332.0h1.6v1.6h-1.6zM79.5 333.5h1.6v1.6h-1.6zM82.5 333.5h3.1v1.6h-3.1zM84.0 335.0h3.1v1.6h-3.1zM88.5 335.0h3.1v1.6h-3.1zM84.0 336.5h3.1v1.6h-3.1zM88.5 336.5h1.6v1.6h-1.6zM82.5 338.0h4.7v1.6h-4.7zM84.0 339.5h3.1v1.6h-3.1zM96.0 339.5h1.6v1.6h-1.6zM100.5 342.5h1.6v1.6h-1.6zM94.5 348.5h1.6v1.6h-1.6zM93.0 350.0h3.1v1.6h-3.1zM108.0 350.0h7.7v1.6h-7.7zM94.5 351.5h1.6v1.6h-1.6zM109.5 351.5h1.6v1.6h-1.6zM114.0 351.5h1.6v1.6h-1.6zM100.5 353.0h1.6v1.6h-1.6zM106.5 353.0h3.1v1.6h-3.1zM100.5 354.5h1.6v1.6h-1.6zM105.0 354.5h4.7v1.6h-4.7zM105.0 356.0h6.2v1.6h-6.2zM108.0 357.5h3.1v1.6h-3.1zM112.5 357.5h1.6v1.6h-1.6zM118.5 357.5h4.7v1.6h-4.7zM109.5 359.0h1.6v1.6h-1.6zM117.0 359.0h3.1v1.6h-3.1zM121.5 360.5h3.1v1.6h-3.1zM114.0 362.0h3.1v1.6h-3.1zM114.0 363.5h3.1v1.6h-3.1zM117.0 368.0h4.7v1.6h-4.7zM124.5 368.0h3.1v1.6h-3.1zM118.5 369.5h3.1v1.6h-3.1zM126.0 369.5h3.1v1.6h-3.1zM120.0 371.0h4.7v1.6h-4.7zM132.0 371.0h3.1v1.6h-3.1zM121.5 372.5h3.1v1.6h-3.1zM127.5 372.5h3.1v1.6h-3.1zM336.0 372.5h4.7v1.6h-4.7zM120.0 374.0h1.6v1.6h-1.6zM126.0 374.0h6.2v1.6h-6.2zM135.0 374.0h1.6v1.6h-1.6zM333.0 374.0h12.2v1.6h-12.2zM124.5 375.5h4.7v1.6h-4.7zM132.0 375.5h1.6v1.6h-1.6zM135.0 375.5h1.6v1.6h-1.6zM333.0 375.5h10.7v1.6h-10.7zM124.5 377.0h4.7v1.6h-4.7zM130.5 377.0h1.6v1.6h-1.6zM225.0 377.0h6.2v1.6h-6.2zM331.5 377.0h10.7v1.6h-10.7zM124.5 378.5h3.1v1.6h-3.1zM217.5 378.5h1.6v1.6h-1.6zM225.0 378.5h4.7v1.6h-4.7zM249.0 378.5h1.6v1.6h-1.6zM331.5 378.5h7.7v1.6h-7.7zM376.5 378.5h3.1v1.6h-3.1zM381.0 378.5h1.6v1.6h-1.6zM126.0 380.0h1.6v1.6h-1.6zM132.0 380.0h1.6v1.6h-1.6zM214.5 380.0h1.6v1.6h-1.6zM223.5 380.0h4.7v1.6h-4.7zM244.5 380.0h4.7v1.6h-4.7zM373.5 380.0h12.2v1.6h-12.2zM130.5 381.5h3.1v1.6h-3.1zM222.0 381.5h9.2v1.6h-9.2zM244.5 381.5h3.1v1.6h-3.1zM253.5 381.5h4.7v1.6h-4.7zM370.5 381.5h15.2v1.6h-15.2zM129.0 383.0h4.7v1.6h-4.7zM141.0 383.0h6.2v1.6h-6.2zM220.5 383.0h12.2v1.6h-12.2zM253.5 383.0h1.6v1.6h-1.6zM258.0 383.0h1.6v1.6h-1.6zM369.0 383.0h16.6v1.6h-16.6zM127.5 384.5h4.7v1.6h-4.7zM139.5 384.5h7.7v1.6h-7.7zM219.0 384.5h3.1v1.6h-3.1zM226.5 384.5h4.7v1.6h-4.7zM252.0 384.5h3.1v1.6h-3.1zM369.0 384.5h16.6v1.6h-16.6zM129.0 386.0h1.6v1.6h-1.6zM139.5 386.0h9.2v1.6h-9.2zM211.5 386.0h3.1v1.6h-3.1zM219.0 386.0h3.1v1.6h-3.1zM223.5 386.0h3.1v1.6h-3.1zM228.0 386.0h3.1v1.6h-3.1zM252.0 386.0h4.7v1.6h-4.7zM369.0 386.0h16.6v1.6h-16.6zM139.5 387.5h10.7v1.6h-10.7zM207.0 387.5h1.6v1.6h-1.6zM211.5 387.5h9.2v1.6h-9.2zM223.5 387.5h1.6v1.6h-1.6zM255.0 387.5h1.6v1.6h-1.6zM259.5 387.5h3.1v1.6h-3.1zM370.5 387.5h15.2v1.6h-15.2zM141.0 389.0h9.2v1.6h-9.2zM207.0 389.0h3.1v1.6h-3.1zM211.5 389.0h1.6v1.6h-1.6zM216.0 389.0h3.1v1.6h-3.1zM223.5 389.0h1.6v1.6h-1.6zM372.0 389.0h15.2v1.6h-15.2zM139.5 390.5h10.7v1.6h-10.7zM156.0 390.5h1.6v1.6h-1.6zM207.0 390.5h3.1v1.6h-3.1zM216.0 390.5h7.7v1.6h-7.7zM243.0 390.5h1.6v1.6h-1.6zM252.0 390.5h1.6v1.6h-1.6zM279.0 390.5h1.6v1.6h-1.6zM373.5 390.5h13.7v1.6h-13.7zM141.0 392.0h9.2v1.6h-9.2zM153.0 392.0h4.7v1.6h-4.7zM208.5 392.0h1.6v1.6h-1.6zM217.5 392.0h6.2v1.6h-6.2zM250.5 392.0h3.1v1.6h-3.1zM258.0 392.0h3.1v1.6h-3.1zM279.0 392.0h3.1v1.6h-3.1zM373.5 392.0h13.7v1.6h-13.7zM142.5 393.5h7.7v1.6h-7.7zM154.5 393.5h3.1v1.6h-3.1zM219.0 393.5h4.7v1.6h-4.7zM252.0 393.5h3.1v1.6h-3.1zM256.5 393.5h4.7v1.6h-4.7zM271.5 393.5h3.1v1.6h-3.1zM277.5 393.5h6.2v1.6h-6.2zM289.5 393.5h3.1v1.6h-3.1zM375.0 393.5h1.6v1.6h-1.6zM378.0 393.5h6.2v1.6h-6.2zM144.0 395.0h6.2v1.6h-6.2zM156.0 395.0h1.6v1.6h-1.6zM165.0 395.0h3.1v1.6h-3.1zM219.0 395.0h3.1v1.6h-3.1zM232.5 395.0h1.6v1.6h-1.6zM253.5 395.0h7.7v1.6h-7.7zM262.5 395.0h1.6v1.6h-1.6zM271.5 395.0h9.2v1.6h-9.2zM291.0 395.0h1.6v1.6h-1.6zM382.5 395.0h1.6v1.6h-1.6zM144.0 396.5h3.1v1.6h-3.1zM165.0 396.5h3.1v1.6h-3.1zM207.0 396.5h1.6v1.6h-1.6zM211.5 396.5h3.1v1.6h-3.1zM255.0 396.5h1.6v1.6h-1.6zM262.5 396.5h1.6v1.6h-1.6zM273.0 396.5h6.2v1.6h-6.2zM288.0 396.5h4.7v1.6h-4.7zM144.0 398.0h1.6v1.6h-1.6zM154.5 398.0h1.6v1.6h-1.6zM165.0 398.0h1.6v1.6h-1.6zM207.0 398.0h1.6v1.6h-1.6zM213.0 398.0h1.6v1.6h-1.6zM274.5 398.0h3.1v1.6h-3.1zM283.5 398.0h9.2v1.6h-9.2zM144.0 399.5h3.1v1.6h-3.1zM162.0 399.5h4.7v1.6h-4.7zM282.0 399.5h6.2v1.6h-6.2zM291.0 399.5h3.1v1.6h-3.1zM136.5 401.0h4.7v1.6h-4.7zM162.0 401.0h3.1v1.6h-3.1zM268.5 401.0h1.6v1.6h-1.6zM277.5 401.0h1.6v1.6h-1.6zM283.5 401.0h4.7v1.6h-4.7zM291.0 401.0h1.6v1.6h-1.6zM136.5 402.5h6.2v1.6h-6.2zM154.5 402.5h1.6v1.6h-1.6zM228.0 402.5h1.6v1.6h-1.6zM267.0 402.5h3.1v1.6h-3.1zM277.5 402.5h4.7v1.6h-4.7zM291.0 402.5h1.6v1.6h-1.6zM136.5 404.0h4.7v1.6h-4.7zM145.5 404.0h4.7v1.6h-4.7zM154.5 404.0h3.1v1.6h-3.1zM160.5 404.0h3.1v1.6h-3.1zM277.5 404.0h4.7v1.6h-4.7zM291.0 404.0h1.6v1.6h-1.6zM132.0 405.5h3.1v1.6h-3.1zM138.0 405.5h3.1v1.6h-3.1zM144.0 405.5h6.2v1.6h-6.2zM154.5 405.5h12.2v1.6h-12.2zM276.0 405.5h6.2v1.6h-6.2zM283.5 405.5h4.7v1.6h-4.7zM291.0 405.5h1.6v1.6h-1.6zM142.5 407.0h4.7v1.6h-4.7zM153.0 407.0h7.7v1.6h-7.7zM268.5 407.0h3.1v1.6h-3.1zM277.5 407.0h10.7v1.6h-10.7zM136.5 408.5h7.7v1.6h-7.7zM150.0 408.5h3.1v1.6h-3.1zM157.5 408.5h3.1v1.6h-3.1zM267.0 408.5h4.7v1.6h-4.7zM277.5 408.5h9.2v1.6h-9.2zM136.5 410.0h7.7v1.6h-7.7zM148.5 410.0h4.7v1.6h-4.7zM159.0 410.0h4.7v1.6h-4.7zM189.0 410.0h1.6v1.6h-1.6zM268.5 410.0h3.1v1.6h-3.1zM277.5 410.0h9.2v1.6h-9.2zM136.5 411.5h3.1v1.6h-3.1zM148.5 411.5h3.1v1.6h-3.1zM159.0 411.5h1.6v1.6h-1.6zM276.0 411.5h10.7v1.6h-10.7zM136.5 413.0h1.6v1.6h-1.6zM147.0 413.0h4.7v1.6h-4.7zM192.0 413.0h3.1v1.6h-3.1zM276.0 413.0h9.2v1.6h-9.2zM139.5 414.5h1.6v1.6h-1.6zM144.0 414.5h6.2v1.6h-6.2zM190.5 414.5h4.7v1.6h-4.7zM279.0 414.5h4.7v1.6h-4.7zM138.0 416.0h10.7v1.6h-10.7zM189.0 416.0h4.7v1.6h-4.7zM276.0 416.0h6.2v1.6h-6.2zM138.0 417.5h15.2v1.6h-15.2zM189.0 417.5h6.2v1.6h-6.2zM274.5 417.5h4.7v1.6h-4.7zM139.5 419.0h7.7v1.6h-7.7zM148.5 419.0h6.2v1.6h-6.2zM192.0 419.0h1.6v1.6h-1.6zM142.5 420.5h4.7v1.6h-4.7zM148.5 420.5h10.7v1.6h-10.7zM144.0 422.0h1.6v1.6h-1.6zM153.0 422.0h4.7v1.6h-4.7zM190.5 422.0h1.6v1.6h-1.6zM196.5 422.0h1.6v1.6h-1.6zM150.0 423.5h1.6v1.6h-1.6zM153.0 423.5h4.7v1.6h-4.7zM190.5 423.5h7.7v1.6h-7.7zM144.0 425.0h3.1v1.6h-3.1zM148.5 425.0h3.1v1.6h-3.1zM190.5 425.0h4.7v1.6h-4.7zM196.5 425.0h1.6v1.6h-1.6zM144.0 426.5h3.1v1.6h-3.1zM148.5 426.5h1.6v1.6h-1.6zM156.0 426.5h1.6v1.6h-1.6zM141.0 428.0h9.2v1.6h-9.2zM156.0 428.0h3.1v1.6h-3.1zM142.5 429.5h1.6v1.6h-1.6zM148.5 429.5h1.6v1.6h-1.6zM142.5 431.0h3.1v1.6h-3.1zM156.0 431.0h3.1v1.6h-3.1zM144.0 432.5h1.6v1.6h-1.6zM148.5 432.5h1.6v1.6h-1.6zM154.5 432.5h3.1v1.6h-3.1zM189.0 432.5h1.6v1.6h-1.6zM148.5 434.0h1.6v1.6h-1.6zM154.5 434.0h3.1v1.6h-3.1zM189.0 434.0h1.6v1.6h-1.6zM147.0 435.5h3.1v1.6h-3.1zM154.5 435.5h3.1v1.6h-3.1zM189.0 435.5h1.6v1.6h-1.6zM150.0 437.0h1.6v1.6h-1.6zM189.0 437.0h1.6v1.6h-1.6zM150.0 438.5h1.6v1.6h-1.6zM154.5 438.5h1.6v1.6h-1.6zM147.0 440.0h3.1v1.6h-3.1zM147.0 441.5h3.1v1.6h-3.1zM192.0 441.5h1.6v1.6h-1.6zM148.5 443.0h1.6v1.6h-1.6zM154.5 443.0h3.1v1.6h-3.1zM190.5 443.0h4.7v1.6h-4.7zM189.0 444.5h3.1v1.6h-3.1zM154.5 446.0h1.6v1.6h-1.6zM189.0 446.0h3.1v1.6h-3.1zM154.5 447.5h1.6v1.6h-1.6zM154.5 449.0h1.6v1.6h-1.6zM157.5 450.5h1.6v1.6h-1.6zM157.5 452.0h1.6v1.6h-1.6zM202.5 459.5h1.6v1.6h-1.6zM222.0 459.5h1.6v1.6h-1.6zM204.0 467.0h1.6v1.6h-1.6zM205.5 468.5h1.6v1.6h-1.6zM235.5 468.5h1.6v1.6h-1.6zM258.0 468.5h3.1v1.6h-3.1zM193.5 470.0h1.6v1.6h-1.6zM216.0 470.0h3.1v1.6h-3.1zM256.5 470.0h6.2v1.6h-6.2zM193.5 471.5h1.6v1.6h-1.6zM199.5 471.5h1.6v1.6h-1.6zM216.0 471.5h3.1v1.6h-3.1zM258.0 471.5h4.7v1.6h-4.7zM192.0 473.0h1.6v1.6h-1.6zM199.5 473.0h1.6v1.6h-1.6zM256.5 473.0h7.7v1.6h-7.7zM199.5 474.5h1.6v1.6h-1.6zM202.5 474.5h3.1v1.6h-3.1zM210.0 474.5h3.1v1.6h-3.1zM214.5 474.5h1.6v1.6h-1.6zM246.0 474.5h4.7v1.6h-4.7zM256.5 474.5h9.2v1.6h-9.2zM214.5 476.0h4.7v1.6h-4.7zM240.0 476.0h10.7v1.6h-10.7zM252.0 476.0h13.7v1.6h-13.7zM216.0 477.5h3.1v1.6h-3.1zM240.0 477.5h27.1v1.6h-27.1zM222.0 479.0h1.6v1.6h-1.6zM238.5 479.0h27.1v1.6h-27.1zM204.0 480.5h1.6v1.6h-1.6zM214.5 480.5h1.6v1.6h-1.6zM238.5 480.5h25.6v1.6h-25.6zM204.0 482.0h1.6v1.6h-1.6zM216.0 482.0h1.6v1.6h-1.6zM240.0 482.0h22.6v1.6h-22.6zM198.0 483.5h1.6v1.6h-1.6zM243.0 483.5h3.1v1.6h-3.1zM210.0 485.0h1.6v1.6h-1.6zM222.0 485.0h1.6v1.6h-1.6zM210.0 486.5h1.6v1.6h-1.6zM213.0 486.5h3.1v1.6h-3.1zM208.5 488.0h3.1v1.6h-3.1zM208.5 489.5h1.6v1.6h-1.6zM211.5 489.5h1.6v1.6h-1.6zM213.0 491.0h3.1v1.6h-3.1zM213.0 492.5h1.6v1.6h-1.6z" fill="#000" shape-rendering="crispEdges"/>
</g>
</g>
<g clip-path="url(#inner)">
<use href="#gulfshape" fill="none" stroke="#000" stroke-width="2.0" stroke-linejoin="round"/>
<use href="#islands"/>
</g>
<text x="204.6" y="86.6" text-anchor="middle" font-family='"Liberation Serif", "DejaVu Serif", serif' font-weight="bold" font-size="52.5" fill="#ff0000">OC-</text>
<text x="204.6" y="145.8" text-anchor="middle" font-family='"Liberation Serif", "DejaVu Serif", serif' font-weight="bold" font-size="52.5" fill="#ff0000">XGBRT</text>
<text x="16.3" y="551.3" font-family='"Liberation Serif", "DejaVu Serif", serif' font-weight="bold" font-size="46" fill="#000">(E)</text>
<text x="44.8" y="604.3" text-anchor="middle" font-family='"Liberation Serif", "DejaVu Serif", serif' font-size="28" fill="#000">48°E</text>
<text x="126.8" y="604.3" text-anchor="middle" font-family='"Liberation Serif", "DejaVu Serif", serif' font-size="28" fill="#000">50°E</text>
<text x="208.8" y="604.3" text-anchor="middle" font-family='"Liberation Serif", "DejaVu Serif", serif' font-size="28" fill="#000">52°E</text>
<text x="290.8" y="604.3" text-anchor="middle" font-family='"Liberation Serif", "DejaVu Serif", serif' font-size="28" fill="#000">54°E</text>
<text x="372.8" y="604.3" text-anchor="middle" font-family='"Liberation Serif", "DejaVu Serif", serif' font-size="28" fill="#000">56°E</text>
<text x="-7.2" y="101.5" text-anchor="end" font-family='"Liberation Serif", "DejaVu Serif", serif' font-size="28" fill="#000">33°N</text>
<text x="-7.2" y="237.2" text-anchor="end" font-family='"Liberation Serif", "DejaVu Serif", serif' font-size="28" fill="#000">30°N</text>
<text x="-7.2" y="371.0" text-anchor="end" font-family='"Liberation Serif", "DejaVu Serif", serif' font-size="28" fill="#000">27°N</text>
<text x="-7.2" y="501.7" text-anchor="end" font-family='"Liberation Serif", "DejaVu Serif", serif' font-size="28" fill="#000">24°N</text>
</g>
<g transform="translate(1056.4,719.2)">
<use href="#frame"/>
<g clip-path="url(#inner)">
<use href="#coast"/>
<use href="#gulfshape" fill="#d2d2ff" stroke="none"/>
<g clip-path="url(#gclip)">
<ellipse cx="74.9" cy="235.0" rx="17.4" ry="13.0" fill="#6c6cff" opacity="0.9" filter="url(#bl)"/>
<ellipse cx="311.7" cy="393.6" rx="17.4" ry="8.7" fill="#7474ff" opacity="0.9" filter="url(#bl)"/>
<ellipse cx="216.1" cy="432.8" rx="28.2" ry="10.9" fill="#a8a8ff" opacity="0.8" filter="url(#bl)"/>
<ellipse cx="185.7" cy="341.5" rx="10.9" ry="8.7" fill="#a0a0ff" opacity="0.8" filter="url(#bl)"/>
<ellipse cx="118.4" cy="239.4" rx="17.4" ry="13.0" fill="#dcdcff" opacity="0.8" filter="url(#bl)"/>
<ellipse cx="85.8" cy="304.6" rx="13.0" ry="13.0" fill="#e4e4ff" opacity="0.8" filter="url(#bl)"/>
<ellipse cx="155.3" cy="380.6" rx="17.4" ry="8.7" fill="#e0e0ff" opacity="0.8" filter="url(#bl)"/>
<polygon points="29.3,254.6 35.8,250.3 44.5,249.2 42.3,254.6 35.8,257.9" fill="#ff9a9a"/>
<polygon points="67.3,313.3 73.8,315.4 80.3,319.8 85.8,328.5 90.1,335.0 85.8,337.2 79.3,330.6 72.7,324.1" fill="#ffb8b8"/>
<polygon points="92.3,339.3 101.0,342.6 107.5,348.0 109.7,354.5 104.2,356.7 97.7,350.2" fill="#ff9c9c"/>
<polygon points="235.7,476.2 246.6,475.1 255.2,474.0 261.8,478.4 268.3,483.8 274.8,487.1 268.3,489.2 259.6,487.1 248.7,484.9 237.9,481.6" fill="#ffc0c0"/>
<polygon points="290.0,476.2 298.7,469.7 307.4,465.3 312.8,463.2 309.6,470.8 300.9,477.3 292.2,481.6" fill="#ffd0d0"/>
<polygon points="148.8,408.9 155.3,404.5 161.8,406.7 159.6,415.4 151.0,419.7" fill="#ffc8c8"/>
<polygon points="124.9,378.4 129.2,380.6 130.3,387.1 126.0,385.0" fill="#ffb0b0"/>
<polygon points="324.8,441.4 333.5,434.9 342.2,428.4 340.0,434.9 331.3,443.6 324.8,448.0" fill="#ff9090"/>
</g>
</g>
<g clip-path="url(#inner)">
<g clip-path="url(#gclip)">
<path d="M121.5 219.5h4.7v1.6h-4.7zM121.5 221.0h7.7v1.6h-7.7zM123.0 222.5h6.2v1.6h-6.2zM124.5 224.0h4.7v1.6h-4.7zM124.5 225.5h6.2v1.6h-6.2zM126.0 227.0h4.7v1.6h-4.7zM126.0 228.5h6.2v1.6h-6.2zM127.5 230.0h4.7v1.6h-4.7zM129.0 231.5h4.7v1.6h-4.7zM130.5 233.0h4.7v1.6h-4.7zM130.5 234.5h6.2v1.6h-6.2zM132.0 236.0h6.2v1.6h-6.2zM132.0 237.5h6.2v1.6h-6.2zM133.5 239.0h7.7v1.6h-7.7zM135.0 240.5h6.2v1.6h-6.2zM135.0 242.0h7.7v1.6h-7.7zM136.5 243.5h6.2v1.6h-6.2zM138.0 245.0h6.2v1.6h-6.2zM141.0 246.5h4.7v1.6h-4.7zM39.0 248.0h7.7v1.6h-7.7zM142.5 248.0h1.6v1.6h-1.6zM37.5 249.5h1.6v1.6h-1.6zM43.5 249.5h3.1v1.6h-3.1zM43.5 251.0h4.7v1.6h-4.7zM43.5 252.5h4.7v1.6h-4.7zM42.0 254.0h4.7v1.6h-4.7zM43.5 255.5h3.1v1.6h-3.1zM51.0 255.5h1.6v1.6h-1.6zM43.5 257.0h13.7v1.6h-13.7zM43.5 258.5h15.2v1.6h-15.2zM45.0 260.0h15.2v1.6h-15.2zM45.0 261.5h16.6v1.6h-16.6zM82.5 261.5h6.2v1.6h-6.2zM46.5 263.0h15.2v1.6h-15.2zM76.5 263.0h1.6v1.6h-1.6zM81.0 263.0h12.2v1.6h-12.2zM46.5 264.5h13.7v1.6h-13.7zM70.5 264.5h22.6v1.6h-22.6zM96.0 264.5h1.6v1.6h-1.6zM46.5 266.0h13.7v1.6h-13.7zM69.0 266.0h24.1v1.6h-24.1zM94.5 266.0h4.7v1.6h-4.7zM48.0 267.5h12.2v1.6h-12.2zM69.0 267.5h31.6v1.6h-31.6zM48.0 269.0h10.7v1.6h-10.7zM66.0 269.0h36.1v1.6h-36.1zM112.5 269.0h3.1v1.6h-3.1zM49.5 270.5h10.7v1.6h-10.7zM66.0 270.5h40.6v1.6h-40.6zM109.5 270.5h3.1v1.6h-3.1zM114.0 270.5h6.2v1.6h-6.2zM121.5 270.5h3.1v1.6h-3.1zM49.5 272.0h10.7v1.6h-10.7zM64.5 272.0h45.1v1.6h-45.1zM112.5 272.0h15.2v1.6h-15.2zM51.0 273.5h10.7v1.6h-10.7zM67.5 273.5h61.6v1.6h-61.6zM51.0 275.0h9.2v1.6h-9.2zM67.5 275.0h61.6v1.6h-61.6zM51.0 276.5h10.7v1.6h-10.7zM66.0 276.5h1.6v1.6h-1.6zM69.0 276.5h63.1v1.6h-63.1zM51.0 278.0h10.7v1.6h-10.7zM67.5 278.0h64.7v1.6h-64.7zM52.5 279.5h10.7v1.6h-10.7zM69.0 279.5h63.1v1.6h-63.1zM52.5 281.0h10.7v1.6h-10.7zM69.0 281.0h63.1v1.6h-63.1zM52.5 282.5h10.7v1.6h-10.7zM70.5 282.5h61.6v1.6h-61.6zM54.0 284.0h9.2v1.6h-9.2zM72.0 284.0h61.6v1.6h-61.6zM54.0 285.5h9.2v1.6h-9.2zM72.0 285.5h61.6v1.6h-61.6zM54.0 287.0h10.7v1.6h-10.7zM73.5 287.0h60.1v1.6h-60.1zM55.5 288.5h10.7v1.6h-10.7zM75.0 288.5h58.6v1.6h-58.6zM55.5 290.0h10.7v1.6h-10.7zM76.5 290.0h58.6v1.6h-58.6zM57.0 291.5h9.2v1.6h-9.2zM75.0 291.5h58.6v1.6h-58.6zM57.0 293.0h10.7v1.6h-10.7zM78.0 293.0h54.1v1.6h-54.1zM57.0 294.5h10.7v1.6h-10.7zM82.5 294.5h7.7v1.6h-7.7zM91.5 294.5h40.6v1.6h-40.6zM57.0 296.0h10.7v1.6h-10.7zM90.0 296.0h40.6v1.6h-40.6zM58.5 297.5h10.7v1.6h-10.7zM94.5 297.5h36.1v1.6h-36.1zM133.5 297.5h3.1v1.6h-3.1zM58.5 299.0h12.2v1.6h-12.2zM94.5 299.0h39.1v1.6h-39.1zM135.0 299.0h1.6v1.6h-1.6zM60.0 300.5h10.7v1.6h-10.7zM94.5 300.5h39.1v1.6h-39.1zM135.0 300.5h1.6v1.6h-1.6zM60.0 302.0h12.2v1.6h-12.2zM96.0 302.0h1.6v1.6h-1.6zM99.0 302.0h24.1v1.6h-24.1zM127.5 302.0h6.2v1.6h-6.2zM135.0 302.0h4.7v1.6h-4.7zM61.5 303.5h10.7v1.6h-10.7zM97.5 303.5h27.1v1.6h-27.1zM126.0 303.5h6.2v1.6h-6.2zM136.5 303.5h3.1v1.6h-3.1zM141.0 303.5h4.7v1.6h-4.7zM61.5 305.0h10.7v1.6h-10.7zM99.0 305.0h4.7v1.6h-4.7zM106.5 305.0h22.6v1.6h-22.6zM136.5 305.0h3.1v1.6h-3.1zM141.0 305.0h7.7v1.6h-7.7zM63.0 306.5h9.2v1.6h-9.2zM99.0 306.5h1.6v1.6h-1.6zM108.0 306.5h18.1v1.6h-18.1zM130.5 306.5h1.6v1.6h-1.6zM136.5 306.5h6.2v1.6h-6.2zM145.5 306.5h3.1v1.6h-3.1zM63.0 308.0h10.7v1.6h-10.7zM106.5 308.0h27.1v1.6h-27.1zM135.0 308.0h19.6v1.6h-19.6zM63.0 309.5h12.2v1.6h-12.2zM100.5 309.5h52.6v1.6h-52.6zM64.5 311.0h10.7v1.6h-10.7zM97.5 311.0h24.1v1.6h-24.1zM124.5 311.0h30.1v1.6h-30.1zM64.5 312.5h12.2v1.6h-12.2zM96.0 312.5h24.1v1.6h-24.1zM124.5 312.5h4.7v1.6h-4.7zM130.5 312.5h24.1v1.6h-24.1zM159.0 312.5h3.1v1.6h-3.1zM66.0 314.0h1.6v1.6h-1.6zM72.0 314.0h4.7v1.6h-4.7zM96.0 314.0h24.1v1.6h-24.1zM123.0 314.0h1.6v1.6h-1.6zM126.0 314.0h30.1v1.6h-30.1zM159.0 314.0h3.1v1.6h-3.1zM66.0 315.5h3.1v1.6h-3.1zM75.0 315.5h3.1v1.6h-3.1zM96.0 315.5h1.6v1.6h-1.6zM99.0 315.5h7.7v1.6h-7.7zM109.5 315.5h46.6v1.6h-46.6zM160.5 315.5h1.6v1.6h-1.6zM67.5 317.0h1.6v1.6h-1.6zM78.0 317.0h1.6v1.6h-1.6zM100.5 317.0h6.2v1.6h-6.2zM111.0 317.0h43.6v1.6h-43.6zM156.0 317.0h4.7v1.6h-4.7zM67.5 318.5h3.1v1.6h-3.1zM79.5 318.5h1.6v1.6h-1.6zM103.5 318.5h3.1v1.6h-3.1zM112.5 318.5h51.1v1.6h-51.1zM69.0 320.0h3.1v1.6h-3.1zM105.0 320.0h1.6v1.6h-1.6zM111.0 320.0h6.2v1.6h-6.2zM121.5 320.0h1.6v1.6h-1.6zM129.0 320.0h28.6v1.6h-28.6zM160.5 320.0h3.1v1.6h-3.1zM69.0 321.5h4.7v1.6h-4.7zM100.5 321.5h16.6v1.6h-16.6zM121.5 321.5h1.6v1.6h-1.6zM135.0 321.5h22.6v1.6h-22.6zM159.0 321.5h4.7v1.6h-4.7zM70.5 323.0h1.6v1.6h-1.6zM100.5 323.0h18.1v1.6h-18.1zM133.5 323.0h30.1v1.6h-30.1zM70.5 324.5h3.1v1.6h-3.1zM99.0 324.5h13.7v1.6h-13.7zM115.5 324.5h3.1v1.6h-3.1zM139.5 324.5h24.1v1.6h-24.1zM72.0 326.0h3.1v1.6h-3.1zM99.0 326.0h12.2v1.6h-12.2zM115.5 326.0h3.1v1.6h-3.1zM139.5 326.0h22.6v1.6h-22.6zM163.5 326.0h1.6v1.6h-1.6zM73.5 327.5h3.1v1.6h-3.1zM85.5 327.5h1.6v1.6h-1.6zM97.5 327.5h1.6v1.6h-1.6zM105.0 327.5h4.7v1.6h-4.7zM121.5 327.5h1.6v1.6h-1.6zM127.5 327.5h1.6v1.6h-1.6zM136.5 327.5h7.7v1.6h-7.7zM145.5 327.5h15.2v1.6h-15.2zM163.5 327.5h1.6v1.6h-1.6zM204.0 327.5h6.2v1.6h-6.2zM73.5 329.0h4.7v1.6h-4.7zM84.0 329.0h4.7v1.6h-4.7zM97.5 329.0h3.1v1.6h-3.1zM102.0 329.0h7.7v1.6h-7.7zM114.0 329.0h1.6v1.6h-1.6zM120.0 329.0h7.7v1.6h-7.7zM136.5 329.0h12.2v1.6h-12.2zM153.0 329.0h6.2v1.6h-6.2zM163.5 329.0h1.6v1.6h-1.6zM202.5 329.0h7.7v1.6h-7.7zM75.0 330.5h4.7v1.6h-4.7zM85.5 330.5h3.1v1.6h-3.1zM99.0 330.5h10.7v1.6h-10.7zM117.0 330.5h13.7v1.6h-13.7zM133.5 330.5h16.6v1.6h-16.6zM157.5 330.5h3.1v1.6h-3.1zM198.0 330.5h3.1v1.6h-3.1zM202.5 330.5h9.2v1.6h-9.2zM76.5 332.0h4.7v1.6h-4.7zM87.0 332.0h3.1v1.6h-3.1zM100.5 332.0h6.2v1.6h-6.2zM109.5 332.0h3.1v1.6h-3.1zM117.0 332.0h13.7v1.6h-13.7zM133.5 332.0h18.1v1.6h-18.1zM157.5 332.0h3.1v1.6h-3.1zM195.0 332.0h1.6v1.6h-1.6zM198.0 332.0h16.6v1.6h-16.6zM78.0 333.5h4.7v1.6h-4.7zM90.0 333.5h3.1v1.6h-3.1zM102.0 333.5h3.1v1.6h-3.1zM109.5 333.5h3.1v1.6h-3.1zM117.0 333.5h4.7v1.6h-4.7zM124.5 333.5h6.2v1.6h-6.2zM133.5 333.5h18.1v1.6h-18.1zM157.5 333.5h4.7v1.6h-4.7zM193.5 333.5h1.6v1.6h-1.6zM196.5 333.5h19.6v1.6h-19.6zM219.0 333.5h1.6v1.6h-1.6zM81.0 335.0h3.1v1.6h-3.1zM88.5 335.0h6.2v1.6h-6.2zM108.0 335.0h45.1v1.6h-45.1zM157.5 335.0h4.7v1.6h-4.7zM193.5 335.0h27.1v1.6h-27.1zM81.0 336.5h13.7v1.6h-13.7zM109.5 336.5h18.1v1.6h-18.1zM129.0 336.5h25.6v1.6h-25.6zM157.5 336.5h3.1v1.6h-3.1zM192.0 336.5h30.1v1.6h-30.1zM82.5 338.0h15.2v1.6h-15.2zM111.0 338.0h3.1v1.6h-3.1zM117.0 338.0h10.7v1.6h-10.7zM129.0 338.0h24.1v1.6h-24.1zM157.5 338.0h3.1v1.6h-3.1zM193.5 338.0h27.1v1.6h-27.1zM84.0 339.5h9.2v1.6h-9.2zM94.5 339.5h4.7v1.6h-4.7zM109.5 339.5h10.7v1.6h-10.7zM129.0 339.5h25.6v1.6h-25.6zM156.0 339.5h6.2v1.6h-6.2zM189.0 339.5h33.1v1.6h-33.1zM85.5 341.0h7.7v1.6h-7.7zM99.0 341.0h1.6v1.6h-1.6zM111.0 341.0h3.1v1.6h-3.1zM115.5 341.0h9.2v1.6h-9.2zM127.5 341.0h27.1v1.6h-27.1zM156.0 341.0h6.2v1.6h-6.2zM190.5 341.0h1.6v1.6h-1.6zM193.5 341.0h28.6v1.6h-28.6zM87.0 342.5h7.7v1.6h-7.7zM111.0 342.5h1.6v1.6h-1.6zM115.5 342.5h45.1v1.6h-45.1zM193.5 342.5h28.6v1.6h-28.6zM88.5 344.0h6.2v1.6h-6.2zM103.5 344.0h1.6v1.6h-1.6zM115.5 344.0h45.1v1.6h-45.1zM178.5 344.0h1.6v1.6h-1.6zM192.0 344.0h33.1v1.6h-33.1zM90.0 345.5h6.2v1.6h-6.2zM105.0 345.5h1.6v1.6h-1.6zM111.0 345.5h10.7v1.6h-10.7zM123.0 345.5h37.6v1.6h-37.6zM172.5 345.5h1.6v1.6h-1.6zM177.0 345.5h3.1v1.6h-3.1zM181.5 345.5h3.1v1.6h-3.1zM190.5 345.5h36.1v1.6h-36.1zM90.0 347.0h6.2v1.6h-6.2zM102.0 347.0h3.1v1.6h-3.1zM108.0 347.0h1.6v1.6h-1.6zM112.5 347.0h4.7v1.6h-4.7zM123.0 347.0h3.1v1.6h-3.1zM127.5 347.0h30.1v1.6h-30.1zM166.5 347.0h19.6v1.6h-19.6zM190.5 347.0h39.1v1.6h-39.1zM91.5 348.5h7.7v1.6h-7.7zM100.5 348.5h6.2v1.6h-6.2zM108.0 348.5h3.1v1.6h-3.1zM112.5 348.5h1.6v1.6h-1.6zM135.0 348.5h21.1v1.6h-21.1zM163.5 348.5h21.1v1.6h-21.1zM190.5 348.5h36.1v1.6h-36.1zM228.0 348.5h3.1v1.6h-3.1zM94.5 350.0h4.7v1.6h-4.7zM109.5 350.0h4.7v1.6h-4.7zM132.0 350.0h22.6v1.6h-22.6zM160.5 350.0h28.6v1.6h-28.6zM190.5 350.0h42.1v1.6h-42.1zM97.5 351.5h1.6v1.6h-1.6zM109.5 351.5h6.2v1.6h-6.2zM132.0 351.5h22.6v1.6h-22.6zM160.5 351.5h70.7v1.6h-70.7zM99.0 353.0h1.6v1.6h-1.6zM109.5 353.0h7.7v1.6h-7.7zM127.5 353.0h4.7v1.6h-4.7zM133.5 353.0h21.1v1.6h-21.1zM160.5 353.0h73.7v1.6h-73.7zM238.5 353.0h3.1v1.6h-3.1zM108.0 354.5h10.7v1.6h-10.7zM127.5 354.5h4.7v1.6h-4.7zM133.5 354.5h21.1v1.6h-21.1zM160.5 354.5h73.7v1.6h-73.7zM237.0 354.5h4.7v1.6h-4.7zM249.0 354.5h3.1v1.6h-3.1zM381.0 354.5h1.6v1.6h-1.6zM105.0 356.0h15.2v1.6h-15.2zM133.5 356.0h15.2v1.6h-15.2zM150.0 356.0h3.1v1.6h-3.1zM160.5 356.0h76.7v1.6h-76.7zM240.0 356.0h3.1v1.6h-3.1zM249.0 356.0h4.7v1.6h-4.7zM375.0 356.0h1.6v1.6h-1.6zM378.0 356.0h6.2v1.6h-6.2zM108.0 357.5h12.2v1.6h-12.2zM135.0 357.5h6.2v1.6h-6.2zM142.5 357.5h4.7v1.6h-4.7zM159.0 357.5h1.6v1.6h-1.6zM162.0 357.5h75.2v1.6h-75.2zM241.5 357.5h1.6v1.6h-1.6zM246.0 357.5h4.7v1.6h-4.7zM252.0 357.5h1.6v1.6h-1.6zM369.0 357.5h1.6v1.6h-1.6zM372.0 357.5h13.7v1.6h-13.7zM109.5 359.0h12.2v1.6h-12.2zM144.0 359.0h1.6v1.6h-1.6zM162.0 359.0h81.2v1.6h-81.2zM246.0 359.0h6.2v1.6h-6.2zM364.5 359.0h22.6v1.6h-22.6zM109.5 360.5h13.7v1.6h-13.7zM162.0 360.5h84.2v1.6h-84.2zM247.5 360.5h7.7v1.6h-7.7zM363.0 360.5h22.6v1.6h-22.6zM111.0 362.0h13.7v1.6h-13.7zM160.5 362.0h96.2v1.6h-96.2zM360.0 362.0h27.1v1.6h-27.1zM112.5 363.5h13.7v1.6h-13.7zM162.0 363.5h93.2v1.6h-93.2zM262.5 363.5h1.6v1.6h-1.6zM357.0 363.5h28.6v1.6h-28.6zM114.0 365.0h12.2v1.6h-12.2zM162.0 365.0h1.6v1.6h-1.6zM165.0 365.0h88.7v1.6h-88.7zM261.0 365.0h6.2v1.6h-6.2zM351.0 365.0h34.6v1.6h-34.6zM114.0 366.5h13.7v1.6h-13.7zM165.0 366.5h1.6v1.6h-1.6zM168.0 366.5h81.2v1.6h-81.2zM252.0 366.5h1.6v1.6h-1.6zM256.5 366.5h10.7v1.6h-10.7zM348.0 366.5h37.6v1.6h-37.6zM115.5 368.0h13.7v1.6h-13.7zM172.5 368.0h99.2v1.6h-99.2zM346.5 368.0h37.6v1.6h-37.6zM117.0 369.5h13.7v1.6h-13.7zM174.0 369.5h1.6v1.6h-1.6zM177.0 369.5h73.7v1.6h-73.7zM252.0 369.5h1.6v1.6h-1.6zM255.0 369.5h7.7v1.6h-7.7zM265.5 369.5h9.2v1.6h-9.2zM339.0 369.5h1.6v1.6h-1.6zM343.5 369.5h40.6v1.6h-40.6zM118.5 371.0h12.2v1.6h-12.2zM177.0 371.0h84.2v1.6h-84.2zM267.0 371.0h12.2v1.6h-12.2zM336.0 371.0h48.1v1.6h-48.1zM120.0 372.5h12.2v1.6h-12.2zM180.0 372.5h1.6v1.6h-1.6zM186.0 372.5h4.7v1.6h-4.7zM192.0 372.5h69.2v1.6h-69.2zM267.0 372.5h13.7v1.6h-13.7zM282.0 372.5h4.7v1.6h-4.7zM333.0 372.5h49.6v1.6h-49.6zM384.0 372.5h1.6v1.6h-1.6zM120.0 374.0h12.2v1.6h-12.2zM187.5 374.0h3.1v1.6h-3.1zM192.0 374.0h82.7v1.6h-82.7zM276.0 374.0h10.7v1.6h-10.7zM330.0 374.0h55.6v1.6h-55.6zM121.5 375.5h12.2v1.6h-12.2zM192.0 375.5h1.6v1.6h-1.6zM195.0 375.5h76.7v1.6h-76.7zM277.5 375.5h7.7v1.6h-7.7zM297.0 375.5h6.2v1.6h-6.2zM330.0 375.5h55.6v1.6h-55.6zM123.0 377.0h12.2v1.6h-12.2zM196.5 377.0h73.7v1.6h-73.7zM277.5 377.0h12.2v1.6h-12.2zM297.0 377.0h6.2v1.6h-6.2zM327.0 377.0h58.6v1.6h-58.6zM124.5 378.5h10.7v1.6h-10.7zM196.5 378.5h72.2v1.6h-72.2zM274.5 378.5h1.6v1.6h-1.6zM279.0 378.5h12.2v1.6h-12.2zM298.5 378.5h6.2v1.6h-6.2zM319.5 378.5h6.2v1.6h-6.2zM327.0 378.5h30.1v1.6h-30.1zM360.0 378.5h27.1v1.6h-27.1zM129.0 380.0h7.7v1.6h-7.7zM196.5 380.0h70.7v1.6h-70.7zM268.5 380.0h3.1v1.6h-3.1zM279.0 380.0h12.2v1.6h-12.2zM298.5 380.0h6.2v1.6h-6.2zM313.5 380.0h9.2v1.6h-9.2zM324.0 380.0h28.6v1.6h-28.6zM360.0 380.0h27.1v1.6h-27.1zM129.0 381.5h4.7v1.6h-4.7zM196.5 381.5h72.2v1.6h-72.2zM270.0 381.5h6.2v1.6h-6.2zM282.0 381.5h9.2v1.6h-9.2zM300.0 381.5h7.7v1.6h-7.7zM315.0 381.5h6.2v1.6h-6.2zM324.0 381.5h19.6v1.6h-19.6zM345.0 381.5h1.6v1.6h-1.6zM355.5 381.5h30.1v1.6h-30.1zM127.5 383.0h1.6v1.6h-1.6zM196.5 383.0h79.7v1.6h-79.7zM277.5 383.0h1.6v1.6h-1.6zM285.0 383.0h1.6v1.6h-1.6zM288.0 383.0h3.1v1.6h-3.1zM298.5 383.0h7.7v1.6h-7.7zM315.0 383.0h4.7v1.6h-4.7zM325.5 383.0h15.2v1.6h-15.2zM355.5 383.0h30.1v1.6h-30.1zM198.0 384.5h82.7v1.6h-82.7zM282.0 384.5h1.6v1.6h-1.6zM300.0 384.5h7.7v1.6h-7.7zM309.0 384.5h1.6v1.6h-1.6zM313.5 384.5h6.2v1.6h-6.2zM327.0 384.5h7.7v1.6h-7.7zM354.0 384.5h31.6v1.6h-31.6zM202.5 386.0h82.7v1.6h-82.7zM294.0 386.0h4.7v1.6h-4.7zM303.0 386.0h7.7v1.6h-7.7zM313.5 386.0h7.7v1.6h-7.7zM327.0 386.0h3.1v1.6h-3.1zM351.0 386.0h34.6v1.6h-34.6zM139.5 387.5h6.2v1.6h-6.2zM204.0 387.5h84.2v1.6h-84.2zM292.5 387.5h6.2v1.6h-6.2zM301.5 387.5h9.2v1.6h-9.2zM315.0 387.5h6.2v1.6h-6.2zM324.0 387.5h6.2v1.6h-6.2zM333.0 387.5h1.6v1.6h-1.6zM339.0 387.5h1.6v1.6h-1.6zM349.5 387.5h34.6v1.6h-34.6zM138.0 389.0h15.2v1.6h-15.2zM205.5 389.0h84.2v1.6h-84.2zM292.5 389.0h7.7v1.6h-7.7zM301.5 389.0h7.7v1.6h-7.7zM315.0 389.0h6.2v1.6h-6.2zM324.0 389.0h6.2v1.6h-6.2zM331.5 389.0h1.6v1.6h-1.6zM337.5 389.0h4.7v1.6h-4.7zM346.5 389.0h37.6v1.6h-37.6zM133.5 390.5h12.2v1.6h-12.2zM148.5 390.5h10.7v1.6h-10.7zM204.0 390.5h85.7v1.6h-85.7zM294.0 390.5h15.2v1.6h-15.2zM315.0 390.5h7.7v1.6h-7.7zM324.0 390.5h9.2v1.6h-9.2zM336.0 390.5h1.6v1.6h-1.6zM340.5 390.5h1.6v1.6h-1.6zM348.0 390.5h36.1v1.6h-36.1zM129.0 392.0h16.6v1.6h-16.6zM148.5 392.0h12.2v1.6h-12.2zM205.5 392.0h88.7v1.6h-88.7zM295.5 392.0h6.2v1.6h-6.2zM303.0 392.0h3.1v1.6h-3.1zM310.5 392.0h1.6v1.6h-1.6zM316.5 392.0h1.6v1.6h-1.6zM328.5 392.0h9.2v1.6h-9.2zM339.0 392.0h4.7v1.6h-4.7zM348.0 392.0h36.1v1.6h-36.1zM124.5 393.5h16.6v1.6h-16.6zM142.5 393.5h4.7v1.6h-4.7zM151.5 393.5h10.7v1.6h-10.7zM207.0 393.5h88.7v1.6h-88.7zM301.5 393.5h4.7v1.6h-4.7zM316.5 393.5h3.1v1.6h-3.1zM328.5 393.5h1.6v1.6h-1.6zM331.5 393.5h6.2v1.6h-6.2zM339.0 393.5h43.6v1.6h-43.6zM123.0 395.0h18.1v1.6h-18.1zM142.5 395.0h4.7v1.6h-4.7zM148.5 395.0h1.6v1.6h-1.6zM151.5 395.0h12.2v1.6h-12.2zM208.5 395.0h88.7v1.6h-88.7zM301.5 395.0h1.6v1.6h-1.6zM316.5 395.0h22.6v1.6h-22.6zM340.5 395.0h42.1v1.6h-42.1zM123.0 396.5h18.1v1.6h-18.1zM147.0 396.5h3.1v1.6h-3.1zM151.5 396.5h16.6v1.6h-16.6zM210.0 396.5h90.2v1.6h-90.2zM301.5 396.5h1.6v1.6h-1.6zM313.5 396.5h21.1v1.6h-21.1zM342.0 396.5h40.6v1.6h-40.6zM123.0 398.0h19.6v1.6h-19.6zM145.5 398.0h4.7v1.6h-4.7zM156.0 398.0h12.2v1.6h-12.2zM210.0 398.0h1.6v1.6h-1.6zM213.0 398.0h85.7v1.6h-85.7zM300.0 398.0h4.7v1.6h-4.7zM309.0 398.0h1.6v1.6h-1.6zM315.0 398.0h19.6v1.6h-19.6zM342.0 398.0h36.1v1.6h-36.1zM124.5 399.5h19.6v1.6h-19.6zM147.0 399.5h6.2v1.6h-6.2zM157.5 399.5h10.7v1.6h-10.7zM211.5 399.5h100.7v1.6h-100.7zM318.0 399.5h6.2v1.6h-6.2zM325.5 399.5h10.7v1.6h-10.7zM339.0 399.5h1.6v1.6h-1.6zM342.0 399.5h34.6v1.6h-34.6zM124.5 401.0h22.6v1.6h-22.6zM148.5 401.0h18.1v1.6h-18.1zM213.0 401.0h90.2v1.6h-90.2zM306.0 401.0h9.2v1.6h-9.2zM327.0 401.0h43.6v1.6h-43.6zM372.0 401.0h4.7v1.6h-4.7zM124.5 402.5h42.1v1.6h-42.1zM214.5 402.5h87.2v1.6h-87.2zM309.0 402.5h6.2v1.6h-6.2zM327.0 402.5h37.6v1.6h-37.6zM367.5 402.5h1.6v1.6h-1.6zM373.5 402.5h1.6v1.6h-1.6zM126.0 404.0h39.1v1.6h-39.1zM214.5 404.0h90.2v1.6h-90.2zM306.0 404.0h9.2v1.6h-9.2zM325.5 404.0h4.7v1.6h-4.7zM333.0 404.0h31.6v1.6h-31.6zM369.0 404.0h1.6v1.6h-1.6zM126.0 405.5h27.1v1.6h-27.1zM160.5 405.5h4.7v1.6h-4.7zM216.0 405.5h1.6v1.6h-1.6zM219.0 405.5h82.7v1.6h-82.7zM304.5 405.5h6.2v1.6h-6.2zM325.5 405.5h4.7v1.6h-4.7zM333.0 405.5h3.1v1.6h-3.1zM337.5 405.5h27.1v1.6h-27.1zM367.5 405.5h1.6v1.6h-1.6zM127.5 407.0h22.6v1.6h-22.6zM154.5 407.0h1.6v1.6h-1.6zM162.0 407.0h1.6v1.6h-1.6zM219.0 407.0h84.2v1.6h-84.2zM307.5 407.0h9.2v1.6h-9.2zM322.5 407.0h6.2v1.6h-6.2zM333.0 407.0h3.1v1.6h-3.1zM337.5 407.0h15.2v1.6h-15.2zM355.5 407.0h7.7v1.6h-7.7zM127.5 408.5h21.1v1.6h-21.1zM220.5 408.5h82.7v1.6h-82.7zM306.0 408.5h6.2v1.6h-6.2zM322.5 408.5h6.2v1.6h-6.2zM331.5 408.5h31.6v1.6h-31.6zM129.0 410.0h19.6v1.6h-19.6zM160.5 410.0h1.6v1.6h-1.6zM228.0 410.0h16.6v1.6h-16.6zM246.0 410.0h61.6v1.6h-61.6zM309.0 410.0h6.2v1.6h-6.2zM328.5 410.0h31.6v1.6h-31.6zM361.5 410.0h1.6v1.6h-1.6zM130.5 411.5h18.1v1.6h-18.1zM159.0 411.5h3.1v1.6h-3.1zM228.0 411.5h1.6v1.6h-1.6zM234.0 411.5h3.1v1.6h-3.1zM240.0 411.5h3.1v1.6h-3.1zM252.0 411.5h52.6v1.6h-52.6zM306.0 411.5h4.7v1.6h-4.7zM312.0 411.5h7.7v1.6h-7.7zM328.5 411.5h25.6v1.6h-25.6zM355.5 411.5h3.1v1.6h-3.1zM130.5 413.0h19.6v1.6h-19.6zM249.0 413.0h1.6v1.6h-1.6zM255.0 413.0h1.6v1.6h-1.6zM262.5 413.0h55.6v1.6h-55.6zM319.5 413.0h3.1v1.6h-3.1zM333.0 413.0h9.2v1.6h-9.2zM345.0 413.0h3.1v1.6h-3.1zM349.5 413.0h3.1v1.6h-3.1zM355.5 413.0h3.1v1.6h-3.1zM132.0 414.5h18.1v1.6h-18.1zM159.0 414.5h1.6v1.6h-1.6zM189.0 414.5h4.7v1.6h-4.7zM217.5 414.5h9.2v1.6h-9.2zM261.0 414.5h1.6v1.6h-1.6zM264.0 414.5h58.6v1.6h-58.6zM324.0 414.5h4.7v1.6h-4.7zM330.0 414.5h10.7v1.6h-10.7zM354.0 414.5h4.7v1.6h-4.7zM132.0 416.0h18.1v1.6h-18.1zM157.5 416.0h3.1v1.6h-3.1zM189.0 416.0h3.1v1.6h-3.1zM217.5 416.0h6.2v1.6h-6.2zM231.0 416.0h3.1v1.6h-3.1zM237.0 416.0h1.6v1.6h-1.6zM243.0 416.0h1.6v1.6h-1.6zM264.0 416.0h3.1v1.6h-3.1zM268.5 416.0h70.7v1.6h-70.7zM345.0 416.0h1.6v1.6h-1.6zM352.5 416.0h6.2v1.6h-6.2zM132.0 417.5h18.1v1.6h-18.1zM151.5 417.5h1.6v1.6h-1.6zM154.5 417.5h4.7v1.6h-4.7zM189.0 417.5h3.1v1.6h-3.1zM225.0 417.5h1.6v1.6h-1.6zM229.5 417.5h4.7v1.6h-4.7zM243.0 417.5h3.1v1.6h-3.1zM247.5 417.5h4.7v1.6h-4.7zM277.5 417.5h61.6v1.6h-61.6zM340.5 417.5h7.7v1.6h-7.7zM135.0 419.0h9.2v1.6h-9.2zM147.0 419.0h6.2v1.6h-6.2zM154.5 419.0h1.6v1.6h-1.6zM159.0 419.0h1.6v1.6h-1.6zM190.5 419.0h1.6v1.6h-1.6zM223.5 419.0h3.1v1.6h-3.1zM247.5 419.0h4.7v1.6h-4.7zM277.5 419.0h64.7v1.6h-64.7zM135.0 420.5h21.1v1.6h-21.1zM190.5 420.5h3.1v1.6h-3.1zM219.0 420.5h1.6v1.6h-1.6zM222.0 420.5h3.1v1.6h-3.1zM246.0 420.5h7.7v1.6h-7.7zM280.5 420.5h61.6v1.6h-61.6zM136.5 422.0h19.6v1.6h-19.6zM190.5 422.0h3.1v1.6h-3.1zM216.0 422.0h3.1v1.6h-3.1zM222.0 422.0h1.6v1.6h-1.6zM243.0 422.0h10.7v1.6h-10.7zM280.5 422.0h61.6v1.6h-61.6zM348.0 422.0h1.6v1.6h-1.6zM138.0 423.5h21.1v1.6h-21.1zM190.5 423.5h3.1v1.6h-3.1zM217.5 423.5h1.6v1.6h-1.6zM249.0 423.5h1.6v1.6h-1.6zM255.0 423.5h3.1v1.6h-3.1zM283.5 423.5h60.1v1.6h-60.1zM346.5 423.5h1.6v1.6h-1.6zM138.0 425.0h21.1v1.6h-21.1zM190.5 425.0h3.1v1.6h-3.1zM249.0 425.0h3.1v1.6h-3.1zM285.0 425.0h61.6v1.6h-61.6zM139.5 426.5h19.6v1.6h-19.6zM190.5 426.5h4.7v1.6h-4.7zM249.0 426.5h3.1v1.6h-3.1zM286.5 426.5h60.1v1.6h-60.1zM139.5 428.0h18.1v1.6h-18.1zM190.5 428.0h3.1v1.6h-3.1zM285.0 428.0h54.1v1.6h-54.1zM340.5 428.0h3.1v1.6h-3.1zM141.0 429.5h16.6v1.6h-16.6zM190.5 429.5h1.6v1.6h-1.6zM216.0 429.5h4.7v1.6h-4.7zM283.5 429.5h55.6v1.6h-55.6zM342.0 429.5h1.6v1.6h-1.6zM141.0 431.0h16.6v1.6h-16.6zM190.5 431.0h3.1v1.6h-3.1zM214.5 431.0h1.6v1.6h-1.6zM219.0 431.0h1.6v1.6h-1.6zM279.0 431.0h3.1v1.6h-3.1zM283.5 431.0h54.1v1.6h-54.1zM340.5 431.0h3.1v1.6h-3.1zM142.5 432.5h15.2v1.6h-15.2zM189.0 432.5h3.1v1.6h-3.1zM219.0 432.5h1.6v1.6h-1.6zM241.5 432.5h1.6v1.6h-1.6zM282.0 432.5h3.1v1.6h-3.1zM286.5 432.5h48.1v1.6h-48.1zM340.5 432.5h3.1v1.6h-3.1zM142.5 434.0h15.2v1.6h-15.2zM189.0 434.0h3.1v1.6h-3.1zM256.5 434.0h3.1v1.6h-3.1zM261.0 434.0h1.6v1.6h-1.6zM286.5 434.0h45.1v1.6h-45.1zM340.5 434.0h1.6v1.6h-1.6zM142.5 435.5h15.2v1.6h-15.2zM189.0 435.5h3.1v1.6h-3.1zM229.5 435.5h4.7v1.6h-4.7zM258.0 435.5h4.7v1.6h-4.7zM285.0 435.5h1.6v1.6h-1.6zM288.0 435.5h42.1v1.6h-42.1zM333.0 435.5h1.6v1.6h-1.6zM339.0 435.5h1.6v1.6h-1.6zM142.5 437.0h13.7v1.6h-13.7zM189.0 437.0h3.1v1.6h-3.1zM226.5 437.0h7.7v1.6h-7.7zM255.0 437.0h1.6v1.6h-1.6zM259.5 437.0h4.7v1.6h-4.7zM285.0 437.0h1.6v1.6h-1.6zM291.0 437.0h33.1v1.6h-33.1zM325.5 437.0h3.1v1.6h-3.1zM333.0 437.0h1.6v1.6h-1.6zM337.5 437.0h1.6v1.6h-1.6zM144.0 438.5h12.2v1.6h-12.2zM189.0 438.5h3.1v1.6h-3.1zM228.0 438.5h4.7v1.6h-4.7zM261.0 438.5h3.1v1.6h-3.1zM291.0 438.5h6.2v1.6h-6.2zM298.5 438.5h3.1v1.6h-3.1zM304.5 438.5h18.1v1.6h-18.1zM336.0 438.5h1.6v1.6h-1.6zM145.5 440.0h10.7v1.6h-10.7zM189.0 440.0h3.1v1.6h-3.1zM222.0 440.0h1.6v1.6h-1.6zM228.0 440.0h1.6v1.6h-1.6zM237.0 440.0h1.6v1.6h-1.6zM252.0 440.0h1.6v1.6h-1.6zM261.0 440.0h3.1v1.6h-3.1zM270.0 440.0h3.1v1.6h-3.1zM276.0 440.0h1.6v1.6h-1.6zM294.0 440.0h1.6v1.6h-1.6zM300.0 440.0h1.6v1.6h-1.6zM307.5 440.0h18.1v1.6h-18.1zM328.5 440.0h1.6v1.6h-1.6zM334.5 440.0h1.6v1.6h-1.6zM145.5 441.5h10.7v1.6h-10.7zM189.0 441.5h3.1v1.6h-3.1zM213.0 441.5h1.6v1.6h-1.6zM222.0 441.5h1.6v1.6h-1.6zM228.0 441.5h1.6v1.6h-1.6zM234.0 441.5h6.2v1.6h-6.2zM262.5 441.5h1.6v1.6h-1.6zM276.0 441.5h3.1v1.6h-3.1zM309.0 441.5h1.6v1.6h-1.6zM312.0 441.5h10.7v1.6h-10.7zM327.0 441.5h3.1v1.6h-3.1zM333.0 441.5h1.6v1.6h-1.6zM147.0 443.0h9.2v1.6h-9.2zM189.0 443.0h1.6v1.6h-1.6zM210.0 443.0h12.2v1.6h-12.2zM234.0 443.0h4.7v1.6h-4.7zM262.5 443.0h1.6v1.6h-1.6zM276.0 443.0h3.1v1.6h-3.1zM312.0 443.0h1.6v1.6h-1.6zM315.0 443.0h4.7v1.6h-4.7zM321.0 443.0h3.1v1.6h-3.1zM331.5 443.0h1.6v1.6h-1.6zM148.5 444.5h7.7v1.6h-7.7zM207.0 444.5h18.1v1.6h-18.1zM235.5 444.5h4.7v1.6h-4.7zM270.0 444.5h1.6v1.6h-1.6zM274.5 444.5h1.6v1.6h-1.6zM285.0 444.5h3.1v1.6h-3.1zM319.5 444.5h4.7v1.6h-4.7zM328.5 444.5h3.1v1.6h-3.1zM148.5 446.0h7.7v1.6h-7.7zM205.5 446.0h22.6v1.6h-22.6zM237.0 446.0h1.6v1.6h-1.6zM243.0 446.0h3.1v1.6h-3.1zM277.5 446.0h1.6v1.6h-1.6zM286.5 446.0h1.6v1.6h-1.6zM315.0 446.0h9.2v1.6h-9.2zM327.0 446.0h3.1v1.6h-3.1zM148.5 447.5h9.2v1.6h-9.2zM201.0 447.5h28.6v1.6h-28.6zM244.5 447.5h3.1v1.6h-3.1zM250.5 447.5h1.6v1.6h-1.6zM286.5 447.5h3.1v1.6h-3.1zM312.0 447.5h16.6v1.6h-16.6zM150.0 449.0h7.7v1.6h-7.7zM198.0 449.0h3.1v1.6h-3.1zM202.5 449.0h30.1v1.6h-30.1zM246.0 449.0h1.6v1.6h-1.6zM279.0 449.0h3.1v1.6h-3.1zM288.0 449.0h1.6v1.6h-1.6zM312.0 449.0h15.2v1.6h-15.2zM151.5 450.5h6.2v1.6h-6.2zM193.5 450.5h3.1v1.6h-3.1zM199.5 450.5h1.6v1.6h-1.6zM204.0 450.5h27.1v1.6h-27.1zM285.0 450.5h4.7v1.6h-4.7zM310.5 450.5h15.2v1.6h-15.2zM151.5 452.0h6.2v1.6h-6.2zM193.5 452.0h10.7v1.6h-10.7zM205.5 452.0h15.2v1.6h-15.2zM222.0 452.0h1.6v1.6h-1.6zM225.0 452.0h6.2v1.6h-6.2zM310.5 452.0h13.7v1.6h-13.7zM151.5 453.5h7.7v1.6h-7.7zM189.0 453.5h16.6v1.6h-16.6zM207.0 453.5h24.1v1.6h-24.1zM309.0 453.5h13.7v1.6h-13.7zM153.0 455.0h6.2v1.6h-6.2zM189.0 455.0h13.7v1.6h-13.7zM207.0 455.0h24.1v1.6h-24.1zM307.5 455.0h13.7v1.6h-13.7zM153.0 456.5h6.2v1.6h-6.2zM187.5 456.5h9.2v1.6h-9.2zM201.0 456.5h1.6v1.6h-1.6zM207.0 456.5h24.1v1.6h-24.1zM304.5 456.5h15.2v1.6h-15.2zM154.5 458.0h3.1v1.6h-3.1zM187.5 458.0h10.7v1.6h-10.7zM201.0 458.0h27.1v1.6h-27.1zM229.5 458.0h3.1v1.6h-3.1zM246.0 458.0h4.7v1.6h-4.7zM252.0 458.0h12.2v1.6h-12.2zM267.0 458.0h6.2v1.6h-6.2zM304.5 458.0h15.2v1.6h-15.2zM186.0 459.5h12.2v1.6h-12.2zM201.0 459.5h22.6v1.6h-22.6zM225.0 459.5h3.1v1.6h-3.1zM229.5 459.5h4.7v1.6h-4.7zM240.0 459.5h39.1v1.6h-39.1zM282.0 459.5h1.6v1.6h-1.6zM303.0 459.5h15.2v1.6h-15.2zM184.5 461.0h13.7v1.6h-13.7zM201.0 461.0h21.1v1.6h-21.1zM225.0 461.0h61.6v1.6h-61.6zM300.0 461.0h18.1v1.6h-18.1zM183.0 462.5h13.7v1.6h-13.7zM198.0 462.5h19.6v1.6h-19.6zM225.0 462.5h1.6v1.6h-1.6zM228.0 462.5h63.1v1.6h-63.1zM297.0 462.5h19.6v1.6h-19.6zM181.5 464.0h36.1v1.6h-36.1zM222.0 464.0h1.6v1.6h-1.6zM225.0 464.0h66.2v1.6h-66.2zM294.0 464.0h15.2v1.6h-15.2zM312.0 464.0h4.7v1.6h-4.7zM180.0 465.5h39.1v1.6h-39.1zM220.5 465.5h3.1v1.6h-3.1zM225.0 465.5h79.7v1.6h-79.7zM312.0 465.5h3.1v1.6h-3.1zM178.5 467.0h124.7v1.6h-124.7zM310.5 467.0h3.1v1.6h-3.1zM178.5 468.5h123.2v1.6h-123.2zM310.5 468.5h3.1v1.6h-3.1zM175.5 470.0h24.1v1.6h-24.1zM201.0 470.0h96.2v1.6h-96.2zM298.5 470.0h3.1v1.6h-3.1zM310.5 470.0h1.6v1.6h-1.6zM174.0 471.5h24.1v1.6h-24.1zM201.0 471.5h94.7v1.6h-94.7zM307.5 471.5h3.1v1.6h-3.1zM174.0 473.0h24.1v1.6h-24.1zM201.0 473.0h93.2v1.6h-93.2zM295.5 473.0h1.6v1.6h-1.6zM306.0 473.0h3.1v1.6h-3.1zM174.0 474.5h24.1v1.6h-24.1zM199.5 474.5h4.7v1.6h-4.7zM208.5 474.5h37.6v1.6h-37.6zM255.0 474.5h37.6v1.6h-37.6zM304.5 474.5h3.1v1.6h-3.1zM174.0 476.0h61.6v1.6h-61.6zM238.5 476.0h1.6v1.6h-1.6zM259.5 476.0h33.1v1.6h-33.1zM301.5 476.0h4.7v1.6h-4.7zM174.0 477.5h61.6v1.6h-61.6zM237.0 477.5h3.1v1.6h-3.1zM244.5 477.5h1.6v1.6h-1.6zM262.5 477.5h30.1v1.6h-30.1zM298.5 477.5h6.2v1.6h-6.2zM177.0 479.0h30.1v1.6h-30.1zM208.5 479.0h28.6v1.6h-28.6zM264.0 479.0h27.1v1.6h-27.1zM297.0 479.0h6.2v1.6h-6.2zM181.5 480.5h9.2v1.6h-9.2zM192.0 480.5h45.1v1.6h-45.1zM264.0 480.5h28.6v1.6h-28.6zM294.0 480.5h7.7v1.6h-7.7zM195.0 482.0h12.2v1.6h-12.2zM208.5 482.0h33.1v1.6h-33.1zM244.5 482.0h3.1v1.6h-3.1zM267.0 482.0h33.1v1.6h-33.1zM195.0 483.5h12.2v1.6h-12.2zM208.5 483.5h39.1v1.6h-39.1zM267.0 483.5h1.6v1.6h-1.6zM270.0 483.5h25.6v1.6h-25.6zM195.0 485.0h12.2v1.6h-12.2zM208.5 485.0h45.1v1.6h-45.1zM267.0 485.0h3.1v1.6h-3.1zM271.5 485.0h21.1v1.6h-21.1zM195.0 486.5h4.7v1.6h-4.7zM201.0 486.5h58.6v1.6h-58.6zM274.5 486.5h15.2v1.6h-15.2zM195.0 488.0h36.1v1.6h-36.1zM241.5 488.0h24.1v1.6h-24.1zM270.0 488.0h16.6v1.6h-16.6zM195.0 489.5h33.1v1.6h-33.1zM258.0 489.5h25.6v1.6h-25.6zM195.0 491.0h28.6v1.6h-28.6zM267.0 491.0h10.7v1.6h-10.7zM196.5 492.5h24.1v1.6h-24.1zM199.5 494.0h18.1v1.6h-18.1zM205.5 495.5h7.7v1.6h-7.7z" fill="#000" shape-rendering="crispEdges"/>
</g>
</g>
<g clip-path="url(#inner)">
<use href="#gulfshape" fill="none" stroke="#000" stroke-width="2.0" stroke-linejoin="round"/>
<use href="#islands"/>
</g>
<text x="199.1" y="86.3" text-anchor="middle" font-family='"Liberation Serif", "DejaVu Serif", serif' font-weight="bold" font-size="52.5" fill="#ff0000">OC-</text>
<text x="199.1" y="145.3" text-anchor="middle" font-family='"Liberation Serif", "DejaVu Serif", serif' font-weight="bold" font-size="52.5" fill="#ff0000">XGBRT</text>
<text x="20.3" y="551.3" font-family='"Liberation Serif", "DejaVu Serif", serif' font-weight="bold" font-size="46" fill="#000">(F)</text>
<text x="44.8" y="604.3" text-anchor="middle" font-family='"Liberation Serif", "DejaVu Serif", serif' font-size="28" fill="#000">48°E</text>
<text x="126.8" y="604.3" text-anchor="middle" font-family='"Liberation Serif", "DejaVu Serif", serif' font-size="28" fill="#000">50°E</text>
<text x="208.8" y="604.3" text-anchor="middle" font-family='"Liberation Serif", "DejaVu Serif", serif' font-size="28" fill="#000">52°E</text>
<text x="290.8" y="604.3" text-anchor="middle" font-family='"Liberation Serif", "DejaVu Serif", serif' font-size="28" fill="#000">54°E</text>
<text x="372.8" y="604.3" text-anchor="middle" font-family='"Liberation Serif", "DejaVu Serif", serif' font-size="28" fill="#000">56°E</text>
<text x="-7.2" y="101.5" text-anchor="end" font-family='"Liberation Serif", "DejaVu Serif", serif' font-size="28" fill="#000">33°N</text>
<text x="-7.2" y="237.2" text-anchor="end" font-family='"Liberation Serif", "DejaVu Serif", serif' font-size="28" fill="#000">30°N</text>
<text x="-7.2" y="371.0" text-anchor="end" font-family='"Liberation Serif", "DejaVu Serif", serif' font-size="28" fill="#000">27°N</text>
<text x="-7.2" y="501.7" text-anchor="end" font-family='"Liberation Serif", "DejaVu Serif", serif' font-size="28" fill="#000">24°N</text>
</g>
<rect x="68.8" y="1339.2" width="1375.2" height="21.1" fill="url(#cb)" stroke="#262626" stroke-width="0.8"/>
<line x1="412.2" y1="1360.3" x2="412.2" y2="1352" stroke="#262626" stroke-width="0.9"/>
<line x1="756.2" y1="1360.3" x2="756.2" y2="1352" stroke="#262626" stroke-width="0.9"/>
<line x1="1100" y1="1360.3" x2="1100" y2="1352" stroke="#262626" stroke-width="0.9"/>
<text x="72.2" y="1398.4" text-anchor="middle" font-family='"Liberation Serif", "DejaVu Serif", serif' font-size="36" fill="#000">-6%</text>
<text x="412.3" y="1398.4" text-anchor="middle" font-family='"Liberation Serif", "DejaVu Serif", serif' font-size="36" fill="#000">-3%</text>
<text x="752.8" y="1398.4" text-anchor="middle" font-family='"Liberation Serif", "DejaVu Serif", serif' font-size="36" fill="#000">0</text>
<text x="1102.7" y="1398.4" text-anchor="middle" font-family='"Liberation Serif", "DejaVu Serif", serif' font-size="36" fill="#000">3%</text>
<text x="1441.6" y="1398.4" text-anchor="middle" font-family='"Liberation Serif", "DejaVu Serif", serif' font-size="36" fill="#000">6%</text>
<text x="1472" y="1361" font-family='"Liberation Serif", "DejaVu Serif", serif' font-size="36" fill="#000">yr<tspan font-size="22" dy="-14">-1</tspan></text>
<g>
<rect x="1550.3" y="93.6" width="909.9" height="332.3" fill="#fff" stroke="none"/>
<polyline points="1554.3,289.3 1558.0,291.1 1561.7,324.4 1565.4,335.6 1572.8,312.4 1576.5,349.4 1581.1,317.0 1589.4,296.7 1595.4,206.9 1599.1,293.0 1603.3,152.2 1607.0,278.1 1610.7,315.2 1615.0,296.7 1619.1,341.1 1622.4,285.6 1626.1,313.3 1629.8,276.3 1633.5,287.4 1637.2,293.0 1640.9,306.9 1645.0,213.3 1648.7,263.3 1652.4,326.3 1657.0,322.6 1662.6,316.1 1667.2,330.0 1674.6,270.7 1678.7,265.2 1683.0,294.8 1690.4,289.3 1695.0,293.0 1702.4,320.7 1710.7,341.1 1716.3,204.1 1720.0,159.6 1724.6,143.0 1728.3,293.0 1732.0,294.8 1735.7,271.7 1739.4,280.0 1744.1,315.2 1750.6,335.6 1754.3,306.9 1758.9,320.7 1762.6,322.6 1766.3,287.4 1770.0,146.7 1773.7,300.4 1777.4,296.7 1781.1,319.8 1785.2,280.9 1789.4,305.9 1795.0,339.3 1800.6,312.4 1804.3,324.4 1808.0,330.0 1812.6,291.1 1820.0,222.6 1826.9,135.6 1831.1,259.6 1834.8,296.7 1838.5,291.1 1842.2,277.2 1845.9,307.8 1851.5,346.7 1855.0,313.3 1860.6,307.8 1864.3,313.3 1868.0,314.3 1871.7,285.6 1875.4,307.8 1879.1,344.8 1883.7,365.2 1887.4,359.6 1891.1,346.7 1894.8,359.6 1898.5,333.7 1902.2,312.4 1905.9,312.4 1909.6,321.7 1914.3,313.3 1918.0,326.3 1921.7,324.4 1925.4,352.2 1929.1,363.3 1932.8,355.0 1937.4,357.8 1941.1,344.8 1944.8,341.1 1948.5,351.3 1952.2,312.4 1955.9,315.2 1959.6,325.4 1963.3,297.6 1967.0,315.2 1971.7,333.7 1976.3,351.3 1982.8,351.3 1986.5,348.5 1991.1,335.6 1994.8,333.7 1997.6,333.7 2001.3,313.3 2005.0,315.2 2008.7,322.6 2013.3,331.9 2016.1,352.2 2019.8,348.5 2023.5,344.8 2027.2,350.4 2030.9,358.7 2035.6,348.5 2039.3,326.3 2042.0,317.0 2046.7,318.9 2050.4,305.9 2054.1,328.1 2057.8,310.6 2061.9,297.6 2066.1,315.2 2070.7,322.6 2074.4,337.4 2079.1,352.2 2084.6,339.3 2088.3,324.4 2092.0,311.5 2095.7,313.3 2099.4,294.8 2103.1,284.6 2106.9,307.8 2111.1,303.1 2114.3,313.3 2118.0,328.1 2121.7,330.0 2126.3,342.0 2130.0,324.4 2133.7,315.2 2137.4,329.1 2141.1,318.9 2145.2,308.7 2149.4,330.0 2153.1,325.4 2156.9,333.7 2160.6,348.5 2165.0,333.7 2167.8,345.7 2171.5,352.2 2175.2,294.8 2178.9,294.8 2183.0,276.3 2186.9,293.0 2190.9,300.4 2194.6,310.6 2198.3,272.6 2202.0,315.2 2205.7,355.0 2209.4,352.2 2213.1,349.4 2217.8,318.9 2221.5,312.4 2225.2,304.1 2228.5,215.2 2232.6,310.6 2236.3,311.5 2240.0,313.3 2243.7,340.2 2247.4,336.5 2251.1,343.0 2254.8,340.2 2259.1,352.2 2265.9,322.6 2269.6,315.2 2273.3,305.9 2278.0,292.0 2281.7,290.2 2285.7,315.2 2289.4,328.1 2293.1,326.3 2296.9,331.9 2300.6,351.3 2304.8,348.5 2308.5,337.4 2312.2,324.4 2315.9,308.7 2320.6,287.4 2323.3,313.3 2327.0,312.4 2330.7,322.6 2334.8,333.7 2338.5,343.0 2342.2,350.4 2346.5,355.9 2350.2,352.2 2353.9,330.0 2357.0,265.2 2360.4,195.7 2365.0,182.8 2368.7,315.2 2372.4,332.8 2376.1,332.8 2379.8,278.1 2383.5,357.8 2387.2,355.9 2390.9,355.0 2394.6,356.9 2398.3,330.0 2402.0,315.2 2406.7,323.5 2410.4,297.6 2413.1,299.4 2417.8,265.2 2421.9,256.9 2425.6,315.2 2429.8,365.2 2433.1,357.8 2437.2,363.3 2440.9,364.3 2444.6,341.1 2448.3,320.7 2452.0,315.2 2455.7,289.3 2459.8,308.7" fill="none" stroke="#0072bd" stroke-width="3.4" stroke-linejoin="round" stroke-linecap="butt"/>
<line x1="1554.2" y1="295.4" x2="2458.4" y2="331.4" stroke="#0072bd" stroke-width="3.4" stroke-dasharray="16 16.1" fill="none"/>
<polyline points="1553.3,319.8 1557.0,299.4 1565.0,367.0 1569.1,304.1 1572.8,365.2 1576.9,376.3 1580.2,318.9 1588.0,275.4 1591.3,291.1 1598.7,214.3 1603.9,207.8 1608.0,278.1 1611.3,259.6 1614.4,366.1 1618.7,304.1 1622.4,327.2 1625.6,289.3 1629.3,293.0 1633.9,282.8 1637.2,305.9 1640.9,252.2 1645.0,263.3 1649.6,273.5 1653.3,275.4 1656.1,315.2 1659.8,340.2 1663.5,340.2 1667.2,377.2 1671.9,296.7 1675.2,230.0 1678.7,287.4 1682.4,230.9 1686.7,222.6 1690.4,270.7 1694.1,187.4 1697.8,315.2 1701.5,337.4 1705.2,318.0 1708.9,367.0 1712.6,368.0 1716.9,375.4 1720.9,263.3 1724.6,256.9 1728.3,256.9 1732.0,291.1 1739.4,193.9 1744.1,226.3 1746.9,344.8 1750.6,365.2 1755.2,333.7 1758.9,356.9 1762.6,362.4 1765.7,196.7 1770.0,332.8 1777.4,209.6 1781.1,266.1 1785.2,243.9 1789.8,248.5 1793.1,346.7 1796.5,367.0 1800.6,355.0 1804.3,367.0 1808.0,350.4 1812.0,298.5 1816.3,289.3 1820.0,244.8 1827.4,209.6 1831.1,310.6 1834.8,287.4 1838.0,368.9 1842.2,359.6 1845.0,305.0 1848.7,372.6 1855.0,307.8 1857.8,315.2 1860.6,340.2 1864.3,257.8 1868.9,241.1 1872.6,274.4 1876.9,300.4 1880.0,307.8 1883.7,352.2 1887.4,332.8 1891.1,370.7 1894.8,351.3 1898.5,371.7 1902.2,324.4 1905.9,302.2 1909.6,300.4 1913.9,281.9 1918.0,288.3 1925.4,289.3 1929.1,343.0 1932.8,361.5 1936.5,358.7 1940.2,369.8 1944.8,330.0 1948.5,331.9 1952.2,307.8 1955.6,266.1 1959.6,289.3 1963.3,294.8 1966.7,283.7 1970.7,315.2 1974.4,378.1 1980.9,377.2 1985.6,370.7 1989.3,337.4 1993.0,318.9 1997.6,308.7 2001.3,309.6 2005.0,291.1 2008.7,285.6 2013.3,288.3 2017.0,289.3 2019.8,370.7 2023.5,343.0 2027.2,337.4 2030.9,357.8 2038.3,307.8 2041.1,315.2 2045.7,299.4 2050.4,299.4 2054.1,314.3 2057.8,287.4 2061.9,228.1 2066.1,311.5 2069.8,328.1 2073.5,337.4 2076.7,357.8 2080.0,354.1 2084.6,343.0 2088.3,315.2 2092.0,305.0 2095.7,273.5 2099.4,305.9 2103.1,317.0 2106.9,325.4 2111.1,305.9 2114.3,369.8 2118.0,330.0 2121.7,370.7 2125.4,361.5 2130.0,333.7 2133.7,329.1 2137.4,315.2 2141.1,300.4 2145.2,280.9 2149.4,296.7 2153.1,305.0 2156.9,308.7 2160.6,367.0 2165.0,370.7 2167.8,349.4 2171.5,364.3 2175.2,324.4 2178.9,310.6 2182.6,300.4 2186.9,310.6 2190.9,296.7 2194.6,289.3 2198.3,305.9 2202.0,371.7 2206.1,302.2 2209.4,352.2 2213.1,376.3 2217.8,352.2 2221.5,333.7 2225.2,332.8 2229.8,330.0 2234.4,332.8 2239.1,339.3 2243.7,359.6 2247.4,359.6 2251.1,370.7 2254.8,374.4 2262.2,369.8 2265.9,326.3 2269.6,324.4 2273.3,315.2 2277.0,270.7 2281.7,261.5 2285.7,255.0 2289.4,298.5 2292.8,281.9 2296.9,266.1 2300.6,345.7 2304.3,320.7 2308.5,337.4 2312.2,310.6 2315.9,315.2 2319.6,287.4 2323.3,253.1 2327.0,253.1 2330.7,287.4 2334.8,241.1 2338.5,274.4 2342.2,305.9 2345.9,333.7 2349.6,355.0 2353.3,302.2 2357.0,324.4 2360.7,296.7 2364.4,313.3 2368.7,271.7 2373.3,293.9 2376.1,293.9 2379.8,291.1 2384.4,307.8 2388.1,358.7 2391.9,355.9 2395.6,378.1 2399.3,352.2 2403.0,343.0 2406.7,337.4 2410.4,331.9 2414.1,335.6 2417.8,324.4 2421.5,333.7 2425.2,352.2 2428.9,370.7 2432.6,372.6 2437.2,378.1 2440.9,376.3 2444.6,367.0 2448.3,344.8 2452.0,343.0 2459.8,339.3" fill="none" stroke="#d95319" stroke-width="3.4" stroke-linejoin="round" stroke-linecap="butt"/>
<line x1="1554.2" y1="295.6" x2="2458.4" y2="334.5" stroke="#d95319" stroke-width="3.4" stroke-dasharray="16 16.1" fill="none"/>
<line x1="1732.3" y1="425.9" x2="1732.3" y2="416.09999999999997" stroke="#1a1a1a" stroke-width="1.8"/>
<line x1="1732.3" y1="93.6" x2="1732.3" y2="103.39999999999999" stroke="#1a1a1a" stroke-width="1.8"/>
<line x1="1914.3" y1="425.9" x2="1914.3" y2="416.09999999999997" stroke="#1a1a1a" stroke-width="1.8"/>
<line x1="1914.3" y1="93.6" x2="1914.3" y2="103.39999999999999" stroke="#1a1a1a" stroke-width="1.8"/>
<line x1="2096.2" y1="425.9" x2="2096.2" y2="416.09999999999997" stroke="#1a1a1a" stroke-width="1.8"/>
<line x1="2096.2" y1="93.6" x2="2096.2" y2="103.39999999999999" stroke="#1a1a1a" stroke-width="1.8"/>
<line x1="2278.2" y1="425.9" x2="2278.2" y2="416.09999999999997" stroke="#1a1a1a" stroke-width="1.8"/>
<line x1="2278.2" y1="93.6" x2="2278.2" y2="103.39999999999999" stroke="#1a1a1a" stroke-width="1.8"/>
<line x1="1550.3" y1="331.0" x2="1560.1" y2="331.0" stroke="#1a1a1a" stroke-width="1.8"/>
<line x1="2460.2" y1="331.0" x2="2450.3999999999996" y2="331.0" stroke="#1a1a1a" stroke-width="1.8"/>
<line x1="1550.3" y1="236.0" x2="1560.1" y2="236.0" stroke="#1a1a1a" stroke-width="1.8"/>
<line x1="2460.2" y1="236.0" x2="2450.3999999999996" y2="236.0" stroke="#1a1a1a" stroke-width="1.8"/>
<line x1="1550.3" y1="141.1" x2="1560.1" y2="141.1" stroke="#1a1a1a" stroke-width="1.8"/>
<line x1="2460.2" y1="141.1" x2="2450.3999999999996" y2="141.1" stroke="#1a1a1a" stroke-width="1.8"/>
<rect x="1550.3" y="93.6" width="909.9" height="332.3" fill="none" stroke="#1a1a1a" stroke-width="1.9"/>
<text x="1549.8" y="463.4" text-anchor="middle" font-family='"Liberation Serif", "DejaVu Serif", serif' font-weight="bold" font-size="32" fill="#1a1a1a">2003</text>
<text x="1731.8" y="463.4" text-anchor="middle" font-family='"Liberation Serif", "DejaVu Serif", serif' font-weight="bold" font-size="32" fill="#1a1a1a">2007</text>
<text x="1913.8" y="463.4" text-anchor="middle" font-family='"Liberation Serif", "DejaVu Serif", serif' font-weight="bold" font-size="32" fill="#1a1a1a">2011</text>
<text x="2095.7" y="463.4" text-anchor="middle" font-family='"Liberation Serif", "DejaVu Serif", serif' font-weight="bold" font-size="32" fill="#1a1a1a">2015</text>
<text x="2277.7" y="463.4" text-anchor="middle" font-family='"Liberation Serif", "DejaVu Serif", serif' font-weight="bold" font-size="32" fill="#1a1a1a">2019</text>
<text x="2459.7" y="463.4" text-anchor="middle" font-family='"Liberation Serif", "DejaVu Serif", serif' font-weight="bold" font-size="32" fill="#1a1a1a">2023</text>
<text x="1539.8" y="436.5" text-anchor="end" font-family='"Liberation Serif", "DejaVu Serif", serif' font-weight="bold" font-size="32" fill="#1a1a1a">0</text>
<text x="1539.8" y="341.6" text-anchor="end" font-family='"Liberation Serif", "DejaVu Serif", serif' font-weight="bold" font-size="32" fill="#1a1a1a">2</text>
<text x="1539.8" y="246.6" text-anchor="end" font-family='"Liberation Serif", "DejaVu Serif", serif' font-weight="bold" font-size="32" fill="#1a1a1a">4</text>
<text x="1539.8" y="151.7" text-anchor="end" font-family='"Liberation Serif", "DejaVu Serif", serif' font-weight="bold" font-size="32" fill="#1a1a1a">6</text>
</g>
<g>
<rect x="1553.3" y="503.9" width="912.0" height="324.7" fill="#fff" stroke="none"/>
<polyline points="1557.3,720.0 1561.0,723.7 1564.7,738.5 1568.4,746.9 1572.1,748.7 1575.8,736.7 1580.4,758.9 1586.9,736.7 1591.5,729.3 1594.7,714.4 1598.0,647.8 1602.6,723.7 1606.7,552.4 1610.4,695.9 1613.7,732.0 1618.0,738.5 1621.7,757.0 1625.4,719.1 1629.1,738.5 1632.8,712.6 1636.9,722.8 1640.6,720.0 1644.3,733.0 1648.4,627.4 1651.7,705.2 1655.8,745.0 1666.5,733.9 1674.9,740.4 1678.6,723.7 1682.3,683.0 1686.0,727.4 1690.2,722.8 1693.9,692.2 1697.6,708.9 1705.4,729.3 1709.1,750.6 1713.7,758.9 1716.5,736.7 1720.2,631.1 1723.9,614.4 1728.0,528.3 1731.9,724.6 1735.6,724.6 1739.7,687.6 1743.4,714.4 1747.6,740.4 1754.5,751.5 1758.6,723.7 1762.8,742.2 1766.1,751.5 1769.9,686.7 1773.6,594.1 1777.6,731.1 1781.7,725.6 1785.0,741.3 1788.7,708.0 1792.8,729.3 1797.1,757.0 1803.9,735.7 1809.1,748.7 1812.8,742.2 1819.3,705.2 1823.9,634.8 1830.8,538.5 1834.5,664.4 1838.4,714.4 1842.4,654.3 1846.5,686.7 1849.9,729.3 1854.5,757.0 1858.0,752.4 1861.3,744.1 1865.0,731.1 1868.7,737.6 1872.4,735.7 1876.5,717.2 1880.2,733.0 1883.9,757.0 1887.6,772.8 1891.3,769.1 1895.0,760.7 1899.1,771.9 1902.8,757.0 1906.5,738.5 1910.2,739.4 1913.9,743.1 1917.6,734.8 1921.9,745.9 1925.6,745.0 1929.3,763.5 1933.0,770.9 1937.3,766.3 1941.3,768.1 1945.0,769.1 1948.7,759.8 1952.4,764.4 1956.1,736.7 1959.9,738.5 1963.6,742.2 1967.6,723.7 1971.3,742.2 1976.5,758.9 1981.1,763.5 1987.6,763.5 1991.3,760.7 1996.0,751.5 1999.7,750.6 2001.5,751.5 2005.2,734.8 2008.9,737.6 2013.2,742.2 2016.9,748.7 2021.0,759.8 2024.7,757.0 2028.4,756.1 2032.1,759.8 2035.8,768.1 2039.9,757.0 2043.2,746.9 2047.3,736.7 2051.0,740.4 2054.7,731.1 2058.4,739.4 2062.6,729.3 2066.3,685.7 2070.6,721.9 2074.3,734.8 2078.0,748.7 2081.7,761.7 2085.4,763.5 2089.5,753.3 2093.2,742.2 2096.9,733.0 2100.6,733.9 2104.3,720.9 2108.4,698.7 2112.1,720.0 2115.4,721.9 2119.5,739.4 2123.2,751.5 2126.9,746.9 2130.6,757.0 2134.3,745.0 2138.6,742.2 2142.3,747.8 2146.0,741.3 2150.0,723.7 2154.3,739.4 2158.0,730.2 2161.1,690.4 2164.5,742.2 2168.0,749.6 2172.6,762.6 2176.3,762.6 2180.0,719.1 2183.7,720.0 2187.4,703.3 2191.1,708.0 2195.4,717.2 2199.5,723.7 2203.2,614.4 2206.9,649.6 2210.6,765.4 2214.3,760.7 2217.6,760.7 2221.7,732.0 2226.3,718.1 2230.0,729.3 2233.7,620.9 2237.4,733.0 2241.7,733.0 2245.4,730.2 2249.5,751.5 2252.8,749.6 2256.5,757.0 2260.2,754.3 2264.3,764.4 2268.0,751.5 2271.7,741.3 2275.4,736.7 2279.1,731.1 2282.8,720.0 2286.9,717.2 2290.6,735.7 2294.3,745.0 2298.0,743.1 2302.3,749.6 2306.0,762.6 2309.7,759.8 2313.4,751.5 2317.1,742.2 2320.8,733.0 2324.9,717.2 2328.6,734.8 2332.3,736.7 2336.0,743.1 2340.2,749.6 2343.9,754.3 2347.6,761.7 2351.3,765.4 2355.4,758.9 2359.1,742.2 2362.8,723.7 2366.5,621.9 2370.2,583.9 2373.9,705.2 2378.2,749.6 2381.9,747.8 2386.0,703.3 2389.3,768.1 2393.0,765.4 2397.3,767.2 2401.0,766.3 2404.7,745.9 2408.7,738.5 2411.5,740.4 2415.6,721.9 2419.3,722.8 2423.6,668.1 2427.6,640.4 2431.3,705.2 2435.0,772.8 2438.7,767.2 2442.4,770.0 2445.8,770.0 2450.4,751.5 2454.1,739.4 2457.8,736.7 2461.5,718.1 2465.6,730.2" fill="none" stroke="#0072bd" stroke-width="3.4" stroke-linejoin="round" stroke-linecap="butt"/>
<line x1="1557.2" y1="702.2" x2="2463.5" y2="733.6" stroke="#0072bd" stroke-width="3.4" stroke-dasharray="16 16.2" fill="none"/>
<polyline points="1556.3,725.6 1560.0,690.4 1564.7,742.2 1568.4,767.2 1572.1,679.3 1575.8,766.3 1579.9,773.7 1583.2,711.7 1586.9,700.6 1591.5,658.0 1594.7,679.3 1598.0,645.9 1602.1,590.4 1606.9,588.5 1611.0,663.5 1614.3,656.1 1618.0,766.3 1622.1,695.9 1625.4,698.7 1629.1,673.7 1632.8,688.5 1636.9,667.2 1640.6,720.0 1644.3,636.7 1648.9,649.6 1652.6,660.7 1656.3,659.8 1659.7,699.6 1663.7,680.2 1667.4,733.0 1671.1,772.8 1674.9,705.2 1678.6,631.1 1682.3,683.0 1686.0,638.5 1690.2,606.1 1693.9,663.5 1697.6,588.5 1701.3,705.2 1705.4,730.2 1709.1,702.4 1712.8,767.2 1716.5,768.1 1720.6,772.8 1724.3,645.9 1728.0,672.8 1731.9,662.6 1735.6,695.9 1739.7,623.7 1743.4,568.1 1747.6,610.7 1750.8,738.5 1754.5,764.4 1758.6,708.0 1762.3,761.7 1766.1,764.4 1769.9,617.2 1773.6,743.1 1777.6,653.3 1781.7,614.4 1785.0,657.0 1788.7,632.0 1793.4,635.7 1796.7,733.0 1799.9,767.2 1803.9,759.8 1807.8,767.2 1811.9,756.1 1815.6,695.9 1819.3,687.6 1823.9,645.9 1830.8,595.0 1834.5,715.4 1838.4,664.4 1842.1,764.4 1845.8,760.7 1849.5,696.9 1853.6,770.9 1858.0,718.1 1861.3,712.6 1865.0,748.7 1868.7,653.3 1872.4,620.0 1876.5,657.0 1880.2,688.5 1883.9,686.7 1887.6,737.6 1891.3,723.7 1895.0,769.1 1899.1,746.9 1902.8,770.9 1906.5,723.7 1910.2,694.1 1913.9,694.1 1917.6,677.4 1921.9,679.3 1925.6,689.4 1929.3,673.7 1933.0,735.7 1936.7,753.3 1940.4,745.9 1944.1,768.1 1948.2,733.9 1951.9,733.9 1955.6,701.5 1959.5,657.0 1963.6,681.1 1967.6,698.7 1971.3,683.9 1975.0,720.0 1978.7,775.6 1985.8,774.6 1989.9,770.0 1994.1,733.0 1997.8,714.4 2001.5,701.5 2005.2,700.6 2008.9,682.0 2013.2,679.3 2016.9,683.9 2020.6,672.8 2024.3,770.9 2028.0,719.1 2031.7,708.0 2035.8,740.4 2039.9,741.3 2043.2,712.6 2047.3,714.4 2051.0,683.0 2054.7,699.6 2058.4,714.4 2062.6,675.6 2066.3,605.2 2070.6,673.7 2074.3,708.9 2078.0,731.1 2081.7,755.2 2089.1,745.0 2093.2,723.7 2096.9,708.9 2100.6,646.9 2104.3,697.8 2108.0,720.9 2111.7,719.1 2115.4,690.4 2119.5,769.1 2123.2,719.1 2126.9,769.1 2130.6,765.4 2134.3,742.2 2138.6,739.4 2142.3,715.4 2146.0,688.5 2150.0,676.5 2154.3,689.4 2158.0,690.4 2161.1,686.7 2164.5,767.2 2168.0,770.0 2172.6,733.0 2176.3,766.3 2180.0,733.0 2183.7,716.3 2187.4,705.2 2191.1,717.2 2195.4,705.2 2199.5,676.5 2203.2,716.3 2206.9,770.0 2210.6,683.9 2214.3,742.2 2217.6,771.9 2221.7,760.7 2225.8,738.5 2230.0,742.2 2233.7,741.3 2238.0,736.7 2241.7,741.3 2245.4,747.8 2249.1,762.6 2252.3,755.2 2256.5,770.0 2260.2,771.9 2264.3,770.9 2268.4,769.1 2271.7,733.9 2275.4,733.0 2279.1,723.7 2282.8,667.2 2286.5,658.9 2290.6,645.9 2294.3,688.5 2298.0,667.2 2302.3,672.8 2306.0,734.8 2309.7,701.5 2313.4,726.5 2317.1,703.3 2320.8,715.4 2324.5,657.0 2328.2,624.6 2331.9,638.5 2336.0,681.1 2340.2,604.3 2343.9,673.7 2347.6,705.2 2351.3,721.9 2355.4,746.9 2359.1,697.8 2362.8,723.7 2366.5,685.7 2370.2,709.8 2374.5,660.7 2378.2,695.0 2381.9,682.0 2385.6,684.8 2389.3,678.3 2393.6,754.3 2397.3,758.0 2401.0,774.6 2404.7,756.1 2408.7,750.6 2412.4,745.0 2416.1,740.4 2419.9,743.1 2423.6,728.3 2427.6,738.5 2431.3,755.2 2435.0,769.1 2438.7,770.9 2442.4,774.6 2446.7,770.9 2450.4,766.3 2454.1,750.6 2458.7,748.7 2465.6,747.8" fill="none" stroke="#d95319" stroke-width="3.4" stroke-linejoin="round" stroke-linecap="butt"/>
<line x1="1557.2" y1="687.4" x2="2463.5" y2="732.8" stroke="#d95319" stroke-width="3.4" stroke-dasharray="16 16.2" fill="none"/>
<line x1="1735.7" y1="828.6" x2="1735.7" y2="818.8000000000001" stroke="#1a1a1a" stroke-width="1.8"/>
<line x1="1735.7" y1="503.9" x2="1735.7" y2="513.6999999999999" stroke="#1a1a1a" stroke-width="1.8"/>
<line x1="1918.1" y1="828.6" x2="1918.1" y2="818.8000000000001" stroke="#1a1a1a" stroke-width="1.8"/>
<line x1="1918.1" y1="503.9" x2="1918.1" y2="513.6999999999999" stroke="#1a1a1a" stroke-width="1.8"/>
<line x1="2100.5" y1="828.6" x2="2100.5" y2="818.8000000000001" stroke="#1a1a1a" stroke-width="1.8"/>
<line x1="2100.5" y1="503.9" x2="2100.5" y2="513.6999999999999" stroke="#1a1a1a" stroke-width="1.8"/>
<line x1="2282.9" y1="828.6" x2="2282.9" y2="818.8000000000001" stroke="#1a1a1a" stroke-width="1.8"/>
<line x1="2282.9" y1="503.9" x2="2282.9" y2="513.6999999999999" stroke="#1a1a1a" stroke-width="1.8"/>
<line x1="1553.3" y1="720.4" x2="1563.1" y2="720.4" stroke="#1a1a1a" stroke-width="1.8"/>
<line x1="2465.3" y1="720.4" x2="2455.5" y2="720.4" stroke="#1a1a1a" stroke-width="1.8"/>
<line x1="1553.3" y1="612.1" x2="1563.1" y2="612.1" stroke="#1a1a1a" stroke-width="1.8"/>
<line x1="2465.3" y1="612.1" x2="2455.5" y2="612.1" stroke="#1a1a1a" stroke-width="1.8"/>
<rect x="1553.3" y="503.9" width="912.0" height="324.7" fill="none" stroke="#1a1a1a" stroke-width="1.9"/>
<text x="1552.8" y="866.1" text-anchor="middle" font-family='"Liberation Serif", "DejaVu Serif", serif' font-weight="bold" font-size="32" fill="#1a1a1a">2003</text>
<text x="1735.2" y="866.1" text-anchor="middle" font-family='"Liberation Serif", "DejaVu Serif", serif' font-weight="bold" font-size="32" fill="#1a1a1a">2007</text>
<text x="1917.6" y="866.1" text-anchor="middle" font-family='"Liberation Serif", "DejaVu Serif", serif' font-weight="bold" font-size="32" fill="#1a1a1a">2011</text>
<text x="2100.0" y="866.1" text-anchor="middle" font-family='"Liberation Serif", "DejaVu Serif", serif' font-weight="bold" font-size="32" fill="#1a1a1a">2015</text>
<text x="2282.4" y="866.1" text-anchor="middle" font-family='"Liberation Serif", "DejaVu Serif", serif' font-weight="bold" font-size="32" fill="#1a1a1a">2019</text>
<text x="2464.8" y="866.1" text-anchor="middle" font-family='"Liberation Serif", "DejaVu Serif", serif' font-weight="bold" font-size="32" fill="#1a1a1a">2023</text>
<text x="1542.8" y="839.2" text-anchor="end" font-family='"Liberation Serif", "DejaVu Serif", serif' font-weight="bold" font-size="32" fill="#1a1a1a">0</text>
<text x="1542.8" y="731.0" text-anchor="end" font-family='"Liberation Serif", "DejaVu Serif", serif' font-weight="bold" font-size="32" fill="#1a1a1a">0.2</text>
<text x="1542.8" y="622.7" text-anchor="end" font-family='"Liberation Serif", "DejaVu Serif", serif' font-weight="bold" font-size="32" fill="#1a1a1a">0.4</text>
<text x="1542.8" y="514.5" text-anchor="end" font-family='"Liberation Serif", "DejaVu Serif", serif' font-weight="bold" font-size="32" fill="#1a1a1a">0.6</text>
</g>
<g>
<rect x="1580.2" y="933.8" width="887.6" height="313.3" fill="#fff" stroke="none"/>
<polyline points="1583.3,1088.0 1587.6,1052.8 1590.9,1096.3 1595.0,1113.9 1598.7,1107.4 1602.4,1096.3 1606.1,1150.9 1610.2,1116.7 1617.2,1083.3 1620.9,1033.3 1624.1,994.4 1628.3,1047.2 1632.0,963.9 1635.7,1055.6 1639.4,1103.7 1643.1,1068.5 1646.9,1136.1 1650.2,1052.8 1653.9,1118.5 1657.6,1064.8 1661.3,1074.1 1665.4,1062.0 1669.1,1063.0 1672.6,987.0 1676.1,1042.6 1679.8,1098.1 1683.9,1102.8 1690.9,1102.8 1694.6,1128.7 1698.7,1105.6 1702.0,1098.1 1706.1,1092.6 1709.4,1063.0 1713.1,1051.9 1716.9,1052.8 1720.9,1061.1 1724.6,1069.4 1728.3,1101.9 1732.0,1121.3 1735.7,1138.0 1739.1,1116.7 1742.8,1000.9 1746.5,1024.1 1750.2,1063.0 1753.9,1059.3 1757.6,1048.1 1761.3,1040.7 1765.0,1049.1 1768.7,1090.7 1772.4,1112.0 1776.1,1130.6 1779.8,1101.9 1783.5,1115.7 1787.2,1130.6 1790.9,1098.1 1794.6,1060.2 1798.3,1083.3 1802.0,1046.3 1805.7,1069.4 1809.4,1043.5 1813.1,1096.3 1816.9,1122.2 1820.6,1107.4 1824.3,1095.4 1828.0,1122.2 1831.7,1133.3 1835.4,1098.1 1839.1,1051.9 1842.8,1013.0 1846.5,983.3 1850.2,973.1 1853.9,1070.4 1857.6,1088.9 1861.3,1114.8 1865.0,1113.0 1868.7,1124.1 1872.4,1133.3 1876.1,1137.0 1879.8,1132.4 1883.5,1090.7 1886.9,1087.0 1890.6,1087.0 1894.3,1018.5 1898.0,1068.5 1901.7,1113.9 1905.4,1128.7 1909.1,1137.0 1912.8,1131.5 1916.5,1146.3 1920.2,1150.0 1923.9,1120.4 1927.6,1098.1 1931.3,1088.9 1935.0,1043.5 1938.7,1077.8 1942.4,1068.5 1946.1,1103.7 1949.8,1124.1 1953.5,1138.9 1957.2,1143.5 1960.9,1146.3 1964.6,1135.2 1968.3,1147.2 1972.0,1111.1 1975.7,1087.0 1979.4,1079.6 1983.1,1039.8 1986.9,1077.8 1990.6,1107.4 1994.3,1135.2 1998.0,1137.0 2001.7,1136.1 2005.4,1146.3 2009.1,1147.2 2012.8,1135.2 2016.5,1125.9 2020.2,1094.4 2023.9,1068.5 2027.6,1075.0 2031.3,1088.9 2035.0,1116.7 2038.7,1135.2 2042.4,1149.1 2046.1,1144.4 2049.8,1160.2 2053.5,1144.4 2057.2,1116.7 2060.9,1096.3 2064.6,1116.7 2068.3,1071.3 2072.0,1103.7 2075.7,1105.6 2079.4,1116.7 2083.1,1124.1 2086.9,1113.9 2090.6,1114.8 2094.3,1130.6 2098.0,1141.7 2101.7,1116.7 2105.4,1103.7 2109.1,1090.7 2112.8,1093.5 2116.5,1096.3 2120.2,1061.1 2123.9,1103.7 2127.6,1101.9 2131.3,1109.3 2135.0,1120.4 2138.7,1125.9 2142.4,1132.4 2146.1,1135.2 2149.8,1099.1 2153.5,1101.9 2157.2,1092.6 2160.9,1103.7 2164.6,1123.1 2168.3,1122.2 2172.0,1135.2 2175.7,1135.2 2179.4,1105.6 2183.1,1150.0 2186.9,1157.4 2190.6,1092.6 2193.7,1087.0 2197.4,1068.5 2201.1,1049.1 2204.8,1046.3 2208.5,1085.2 2212.2,1109.3 2215.9,1139.8 2219.6,1140.7 2223.3,1139.8 2227.0,1145.4 2230.7,1135.2 2234.4,1107.4 2238.1,1083.3 2241.9,1086.1 2245.6,1042.6 2249.3,1059.3 2253.0,1077.8 2256.7,1119.4 2260.4,1131.5 2264.1,1138.0 2267.8,1140.7 2271.5,1148.1 2275.2,1140.7 2278.9,1124.1 2282.6,1107.4 2286.3,1079.6 2290.0,1037.0 2293.7,1034.3 2297.4,1075.9 2301.1,1105.6 2304.8,1103.7 2308.5,1113.0 2312.2,1145.4 2315.9,1144.4 2319.6,1135.2 2323.3,1125.9 2327.0,1118.5 2330.4,1067.6 2334.1,1090.7 2337.8,1076.9 2341.5,1087.0 2345.2,1100.0 2348.9,1124.1 2352.6,1135.2 2356.3,1149.1 2360.0,1153.7 2363.7,1131.5 2367.4,1107.4 2371.1,998.1 2375.2,1014.8 2378.9,1031.5 2382.6,1079.6 2385.9,1098.1 2389.6,1049.1 2393.3,1116.7 2397.0,1144.4 2400.7,1159.3 2404.4,1170.4 2408.1,1144.4 2411.9,1124.1 2415.6,1113.0 2419.3,1088.9 2423.0,1087.0 2426.7,1074.1 2430.4,1081.5 2434.1,1125.9 2437.8,1152.8 2441.5,1135.2 2445.2,1153.7 2448.9,1172.2 2452.6,1153.7 2456.3,1138.9 2460.0,1122.2 2463.7,1106.5 2467.4,1113.9" fill="none" stroke="#0072bd" stroke-width="3.4" stroke-linejoin="round" stroke-linecap="butt"/>
<line x1="1584.0" y1="1080.4" x2="2466.0" y2="1123.0" stroke="#0072bd" stroke-width="3.4" stroke-dasharray="15.6 15.7" fill="none"/>
<polyline points="1583.3,1140.7 1587.0,1125.0 1591.7,1124.1 1595.0,1152.8 1598.7,1167.6 1602.4,1161.1 1606.1,1193.5 1610.2,1163.0 1613.9,1123.1 1617.2,1101.9 1620.9,1095.4 1624.6,1069.4 1628.3,1092.6 1632.0,1096.3 1635.7,1120.4 1639.4,1135.2 1643.1,1155.6 1650.0,1154.6 1654.3,1135.2 1658.0,1104.6 1661.7,1100.0 1665.4,1105.6 1669.1,1098.1 1672.8,1076.9 1676.5,1085.2 1680.2,1111.1 1683.9,1143.5 1687.6,1144.4 1691.3,1142.6 1694.6,1196.3 1698.7,1125.0 1702.0,1103.7 1705.7,1118.5 1709.8,1113.0 1713.9,1109.3 1717.2,1109.3 1720.9,1103.7 1724.6,1114.8 1728.3,1144.4 1732.0,1164.8 1735.7,1163.0 1739.4,1159.3 1742.8,1175.0 1746.9,1134.3 1750.6,1132.4 1753.9,1115.7 1757.6,1130.6 1761.3,1110.2 1765.0,1114.8 1768.7,1119.4 1772.4,1135.2 1776.1,1149.1 1779.8,1160.2 1783.5,1121.3 1787.2,1175.0 1790.9,1135.2 1794.6,1116.7 1798.3,1113.0 1802.0,1112.0 1805.7,1110.2 1809.4,1086.1 1813.1,1125.9 1816.9,1140.7 1820.6,1137.0 1824.3,1169.4 1828.0,1172.2 1831.7,1142.6 1835.4,1113.0 1839.1,1098.1 1842.8,1124.1 1846.5,1061.1 1850.6,1047.2 1853.9,1107.4 1857.6,1089.8 1861.3,1150.9 1865.0,1150.0 1868.7,1148.1 1872.4,1138.0 1876.1,1160.2 1879.8,1140.7 1883.5,1091.7 1886.9,1115.7 1890.6,1107.4 1894.3,1106.5 1898.0,1090.7 1901.7,1137.0 1905.4,1131.5 1909.1,1151.9 1912.8,1153.7 1916.5,1150.9 1920.2,1175.0 1923.9,1108.3 1927.6,1107.4 1931.3,1098.1 1935.0,1093.5 1938.7,1112.0 1942.4,1086.1 1946.1,1087.0 1949.4,1135.2 1953.1,1164.8 1956.9,1182.4 1960.9,1172.2 1964.6,1163.0 1968.3,1101.9 1971.7,1102.8 1975.4,1145.4 1979.1,1129.6 1982.8,1119.4 1986.5,1138.0 1990.2,1127.8 1993.9,1124.1 1997.6,1150.9 2001.3,1163.9 2005.0,1171.3 2009.1,1153.7 2012.8,1129.6 2016.5,1113.9 2020.2,1144.4 2023.9,1116.7 2027.6,1105.6 2031.3,1119.4 2035.0,1138.0 2038.7,1153.7 2042.0,1171.3 2045.7,1143.5 2049.4,1187.0 2053.1,1175.9 2056.9,1118.5 2060.6,1104.6 2064.3,1120.4 2068.0,1111.1 2071.7,1107.4 2075.4,1102.8 2079.1,1125.9 2082.8,1153.7 2086.5,1174.1 2090.2,1144.4 2093.9,1163.0 2097.6,1165.7 2101.3,1125.9 2105.0,1105.6 2108.7,1116.7 2112.4,1109.3 2116.1,1103.7 2119.8,1128.7 2123.5,1127.8 2127.2,1140.7 2130.9,1145.4 2134.6,1168.5 2138.3,1185.2 2142.0,1163.0 2145.7,1135.2 2149.4,1125.9 2153.1,1115.7 2156.9,1135.2 2160.6,1099.1 2164.3,1113.9 2167.6,1098.1 2171.7,1154.6 2175.4,1157.4 2179.1,1153.7 2182.8,1161.1 2186.5,1168.5 2190.2,1128.7 2193.7,1107.4 2197.4,1100.0 2201.1,1107.4 2204.8,1087.0 2208.5,1094.4 2212.2,1109.3 2215.9,1143.5 2219.6,1150.9 2223.3,1165.7 2227.0,1187.0 2230.7,1177.8 2234.4,1127.8 2238.1,1119.4 2241.9,1117.6 2245.6,1127.8 2249.3,1129.6 2253.0,1114.8 2256.7,1135.2 2260.4,1140.7 2264.1,1159.3 2267.8,1174.1 2271.5,1159.3 2275.2,1171.3 2278.5,1129.6 2282.2,1107.4 2285.9,1138.9 2289.6,1098.1 2293.3,1110.2 2297.0,1090.7 2300.7,1113.0 2304.4,1121.3 2308.1,1135.2 2311.9,1141.7 2315.6,1148.1 2319.3,1135.2 2323.0,1149.1 2326.7,1132.4 2330.4,1149.1 2334.1,1124.1 2337.8,1113.0 2341.5,1076.9 2345.2,1088.9 2348.9,1135.2 2352.6,1160.2 2356.3,1140.7 2360.0,1162.0 2363.7,1151.9 2367.4,1138.9 2371.1,1127.8 2374.8,1147.2 2378.5,1084.3 2382.2,1106.5 2385.9,1069.4 2389.6,1067.6 2393.3,1120.4 2397.0,1164.8 2400.7,1175.9 2404.4,1180.6 2408.1,1163.0 2411.9,1131.5 2415.6,1123.1 2419.3,1138.9 2423.0,1149.1 2426.7,1152.8 2430.4,1135.2 2434.1,1136.1 2437.8,1142.6 2441.5,1158.3 2445.2,1168.5 2448.9,1190.7 2452.6,1164.8 2456.3,1144.4 2460.0,1132.4 2463.7,1124.1 2467.4,1152.8" fill="none" stroke="#d95319" stroke-width="3.4" stroke-linejoin="round" stroke-linecap="butt"/>
<line x1="1584.0" y1="1125.8" x2="2466.0" y2="1137.3" stroke="#d95319" stroke-width="3.4" stroke-dasharray="15.6 15.7" fill="none"/>
<line x1="1757.7" y1="1247.1" x2="1757.7" y2="1237.3" stroke="#1a1a1a" stroke-width="1.8"/>
<line x1="1757.7" y1="933.8" x2="1757.7" y2="943.5999999999999" stroke="#1a1a1a" stroke-width="1.8"/>
<line x1="1935.2" y1="1247.1" x2="1935.2" y2="1237.3" stroke="#1a1a1a" stroke-width="1.8"/>
<line x1="1935.2" y1="933.8" x2="1935.2" y2="943.5999999999999" stroke="#1a1a1a" stroke-width="1.8"/>
<line x1="2112.8" y1="1247.1" x2="2112.8" y2="1237.3" stroke="#1a1a1a" stroke-width="1.8"/>
<line x1="2112.8" y1="933.8" x2="2112.8" y2="943.5999999999999" stroke="#1a1a1a" stroke-width="1.8"/>
<line x1="2290.3" y1="1247.1" x2="2290.3" y2="1237.3" stroke="#1a1a1a" stroke-width="1.8"/>
<line x1="2290.3" y1="933.8" x2="2290.3" y2="943.5999999999999" stroke="#1a1a1a" stroke-width="1.8"/>
<line x1="1580.2" y1="1184.4" x2="1590.0" y2="1184.4" stroke="#1a1a1a" stroke-width="1.8"/>
<line x1="2467.8" y1="1184.4" x2="2458.0" y2="1184.4" stroke="#1a1a1a" stroke-width="1.8"/>
<line x1="1580.2" y1="1121.8" x2="1590.0" y2="1121.8" stroke="#1a1a1a" stroke-width="1.8"/>
<line x1="2467.8" y1="1121.8" x2="2458.0" y2="1121.8" stroke="#1a1a1a" stroke-width="1.8"/>
<line x1="1580.2" y1="1059.1" x2="1590.0" y2="1059.1" stroke="#1a1a1a" stroke-width="1.8"/>
<line x1="2467.8" y1="1059.1" x2="2458.0" y2="1059.1" stroke="#1a1a1a" stroke-width="1.8"/>
<line x1="1580.2" y1="996.5" x2="1590.0" y2="996.5" stroke="#1a1a1a" stroke-width="1.8"/>
<line x1="2467.8" y1="996.5" x2="2458.0" y2="996.5" stroke="#1a1a1a" stroke-width="1.8"/>
<rect x="1580.2" y="933.8" width="887.6" height="313.3" fill="none" stroke="#1a1a1a" stroke-width="1.9"/>
<text x="1579.7" y="1284.6" text-anchor="middle" font-family='"Liberation Serif", "DejaVu Serif", serif' font-weight="bold" font-size="32" fill="#1a1a1a">2003</text>
<text x="1757.2" y="1284.6" text-anchor="middle" font-family='"Liberation Serif", "DejaVu Serif", serif' font-weight="bold" font-size="32" fill="#1a1a1a">2007</text>
<text x="1934.7" y="1284.6" text-anchor="middle" font-family='"Liberation Serif", "DejaVu Serif", serif' font-weight="bold" font-size="32" fill="#1a1a1a">2011</text>
<text x="2112.3" y="1284.6" text-anchor="middle" font-family='"Liberation Serif", "DejaVu Serif", serif' font-weight="bold" font-size="32" fill="#1a1a1a">2015</text>
<text x="2289.8" y="1284.6" text-anchor="middle" font-family='"Liberation Serif", "DejaVu Serif", serif' font-weight="bold" font-size="32" fill="#1a1a1a">2019</text>
<text x="2467.3" y="1284.6" text-anchor="middle" font-family='"Liberation Serif", "DejaVu Serif", serif' font-weight="bold" font-size="32" fill="#1a1a1a">2023</text>
<text x="1569.7" y="1257.7" text-anchor="end" font-family='"Liberation Serif", "DejaVu Serif", serif' font-weight="bold" font-size="32" fill="#1a1a1a">0</text>
<text x="1569.7" y="1195.0" text-anchor="end" font-family='"Liberation Serif", "DejaVu Serif", serif' font-weight="bold" font-size="32" fill="#1a1a1a">0.05</text>
<text x="1569.7" y="1132.4" text-anchor="end" font-family='"Liberation Serif", "DejaVu Serif", serif' font-weight="bold" font-size="32" fill="#1a1a1a">0.1</text>
<text x="1569.7" y="1069.7" text-anchor="end" font-family='"Liberation Serif", "DejaVu Serif", serif' font-weight="bold" font-size="32" fill="#1a1a1a">0.15</text>
<text x="1569.7" y="1007.1" text-anchor="end" font-family='"Liberation Serif", "DejaVu Serif", serif' font-weight="bold" font-size="32" fill="#1a1a1a">0.2</text>
<text x="1569.7" y="944.4" text-anchor="end" font-family='"Liberation Serif", "DejaVu Serif", serif' font-weight="bold" font-size="32" fill="#1a1a1a">0.25</text>
</g>
<line x1="1848.7" y1="134.2" x2="1893.9" y2="134.2" stroke="#0072bd" stroke-width="6"/>
<line x1="2114.5" y1="134.6" x2="2159.7" y2="134.6" stroke="#d95319" stroke-width="6"/>
<text x="1906.0" y="146.2" font-family='"Liberation Serif", "DejaVu Serif", serif' font-weight="bold" font-size="31" fill="#000">OC-XGBRT</text>
<text x="2172.7" y="146.2" font-family='"Liberation Serif", "DejaVu Serif", serif' font-weight="bold" font-size="31" fill="#000">NASA NIR</text>
<line x1="1882.5" y1="544.1" x2="1927.7" y2="544.1" stroke="#0072bd" stroke-width="6"/>
<line x1="2148.3" y1="544.5" x2="2193.5" y2="544.5" stroke="#d95319" stroke-width="6"/>
<text x="1939.8" y="556.1" font-family='"Liberation Serif", "DejaVu Serif", serif' font-weight="bold" font-size="31" fill="#000">OC-XGBRT</text>
<text x="2206.5" y="556.1" font-family='"Liberation Serif", "DejaVu Serif", serif' font-weight="bold" font-size="31" fill="#000">NASA NIR</text>
<line x1="1890.7" y1="976.3" x2="1935.9" y2="976.3" stroke="#0072bd" stroke-width="6"/>
<line x1="2156.5" y1="976.7" x2="2201.7" y2="976.7" stroke="#d95319" stroke-width="6"/>
<text x="1948.0" y="988.3" font-family='"Liberation Serif", "DejaVu Serif", serif' font-weight="bold" font-size="31" fill="#000">OC-XGBRT</text>
<text x="2214.7" y="988.3" font-family='"Liberation Serif", "DejaVu Serif", serif' font-weight="bold" font-size="31" fill="#000">NASA NIR</text>
<text x="1564.5" y="407" font-family='"Liberation Serif", "DejaVu Serif", serif' font-weight="bold" font-size="42" fill="#000">(G)</text>
<text x="1568" y="809.1" font-family='"Liberation Serif", "DejaVu Serif", serif' font-weight="bold" font-size="42" fill="#000">(H)</text>
<text x="1593.8" y="1229.1" font-family='"Liberation Serif", "DejaVu Serif", serif' font-weight="bold" font-size="42" fill="#000">(I)</text>
<text x="1660.4" y="408.6" font-family='"Liberation Serif", "DejaVu Serif", serif' font-weight="bold" font-size="29.5" fill="#0072bd" textLength="349.5" lengthAdjust="spacingAndGlyphs"><tspan>-0.040 mg m</tspan><tspan font-size="19.5" dy="-9.5">-3</tspan><tspan dy="9.5"> </tspan><tspan>yr</tspan><tspan font-size="19.5" dy="-9.5">-1</tspan><tspan dy="9.5"> </tspan><tspan>(p&lt;0.01)</tspan></text>
<text x="2057.8" y="408.6" font-family='"Liberation Serif", "DejaVu Serif", serif' font-weight="bold" font-size="29.5" fill="#d95319" textLength="348.6" lengthAdjust="spacingAndGlyphs"><tspan>-0.041 mg m</tspan><tspan font-size="19.5" dy="-9.5">-3</tspan><tspan dy="9.5"> </tspan><tspan>yr</tspan><tspan font-size="19.5" dy="-9.5">-1</tspan><tspan dy="9.5"> </tspan><tspan>(p&lt;0.01)</tspan></text>
<text x="1667" y="806.2" font-family='"Liberation Serif", "DejaVu Serif", serif' font-weight="bold" font-size="29.5" fill="#0072bd" textLength="300.7" lengthAdjust="spacingAndGlyphs"><tspan>-0.003 m</tspan><tspan font-size="19.5" dy="-9.5">-1</tspan><tspan dy="9.5"> </tspan><tspan>yr</tspan><tspan font-size="19.5" dy="-9.5">-1</tspan><tspan dy="9.5"> </tspan><tspan>(p&lt;0.01)</tspan></text>
<text x="2024.9" y="806.2" font-family='"Liberation Serif", "DejaVu Serif", serif' font-weight="bold" font-size="29.5" fill="#d95319" textLength="300.7" lengthAdjust="spacingAndGlyphs"><tspan>-0.004 m</tspan><tspan font-size="19.5" dy="-9.5">-1</tspan><tspan dy="9.5"> </tspan><tspan>yr</tspan><tspan font-size="19.5" dy="-9.5">-1</tspan><tspan dy="9.5"> </tspan><tspan>(p&lt;0.01)</tspan></text>
<text x="1696" y="1228.2" font-family='"Liberation Serif", "DejaVu Serif", serif' font-weight="bold" font-size="29.5" fill="#0072bd" textLength="315.4" lengthAdjust="spacingAndGlyphs"><tspan>-0.0017 m</tspan><tspan font-size="19.5" dy="-9.5">-1</tspan><tspan dy="9.5"> </tspan><tspan>yr</tspan><tspan font-size="19.5" dy="-9.5">-1</tspan><tspan dy="9.5"> </tspan><tspan>(p&lt;0.01)</tspan></text>
<text x="2069.2" y="1228.2" font-family='"Liberation Serif", "DejaVu Serif", serif' font-weight="bold" font-size="29.5" fill="#d95319" textLength="316.2" lengthAdjust="spacingAndGlyphs"><tspan>-0.0001 m</tspan><tspan font-size="19.5" dy="-9.5">-1</tspan><tspan dy="9.5"> </tspan><tspan>yr</tspan><tspan font-size="19.5" dy="-9.5">-1</tspan><tspan dy="9.5"> </tspan><tspan>(p=0.06)</tspan></text>
<text transform="translate(1514.8,262.2) rotate(-90)" text-anchor="middle" font-family='"Liberation Serif", "DejaVu Serif", serif' font-weight="bold" font-size="35" fill="#1a1a1a">CHL  (mg m<tspan font-size="27" dy="-15">-3</tspan><tspan dy="15">)</tspan></text>
<text transform="translate(1493.7,668.4) rotate(-90)" text-anchor="middle" font-family='"Liberation Serif", "DejaVu Serif", serif' font-weight="bold" font-size="33.8" fill="#1a1a1a">Kd(490)  (m<tspan font-size="24" dy="-15">-1</tspan><tspan dy="15">)</tspan></text>
<text transform="translate(1490,1091) rotate(-90)" text-anchor="middle" font-family='"Liberation Serif", "DejaVu Serif", serif' font-weight="bold" font-size="33.2" fill="#1a1a1a">a<tspan font-size="23" dy="14">dg</tspan><tspan dy="-14">(443)  (m</tspan><tspan font-size="23" dy="-15">-1</tspan><tspan dy="15">)</tspan></text>
</svg>
</body></html>
